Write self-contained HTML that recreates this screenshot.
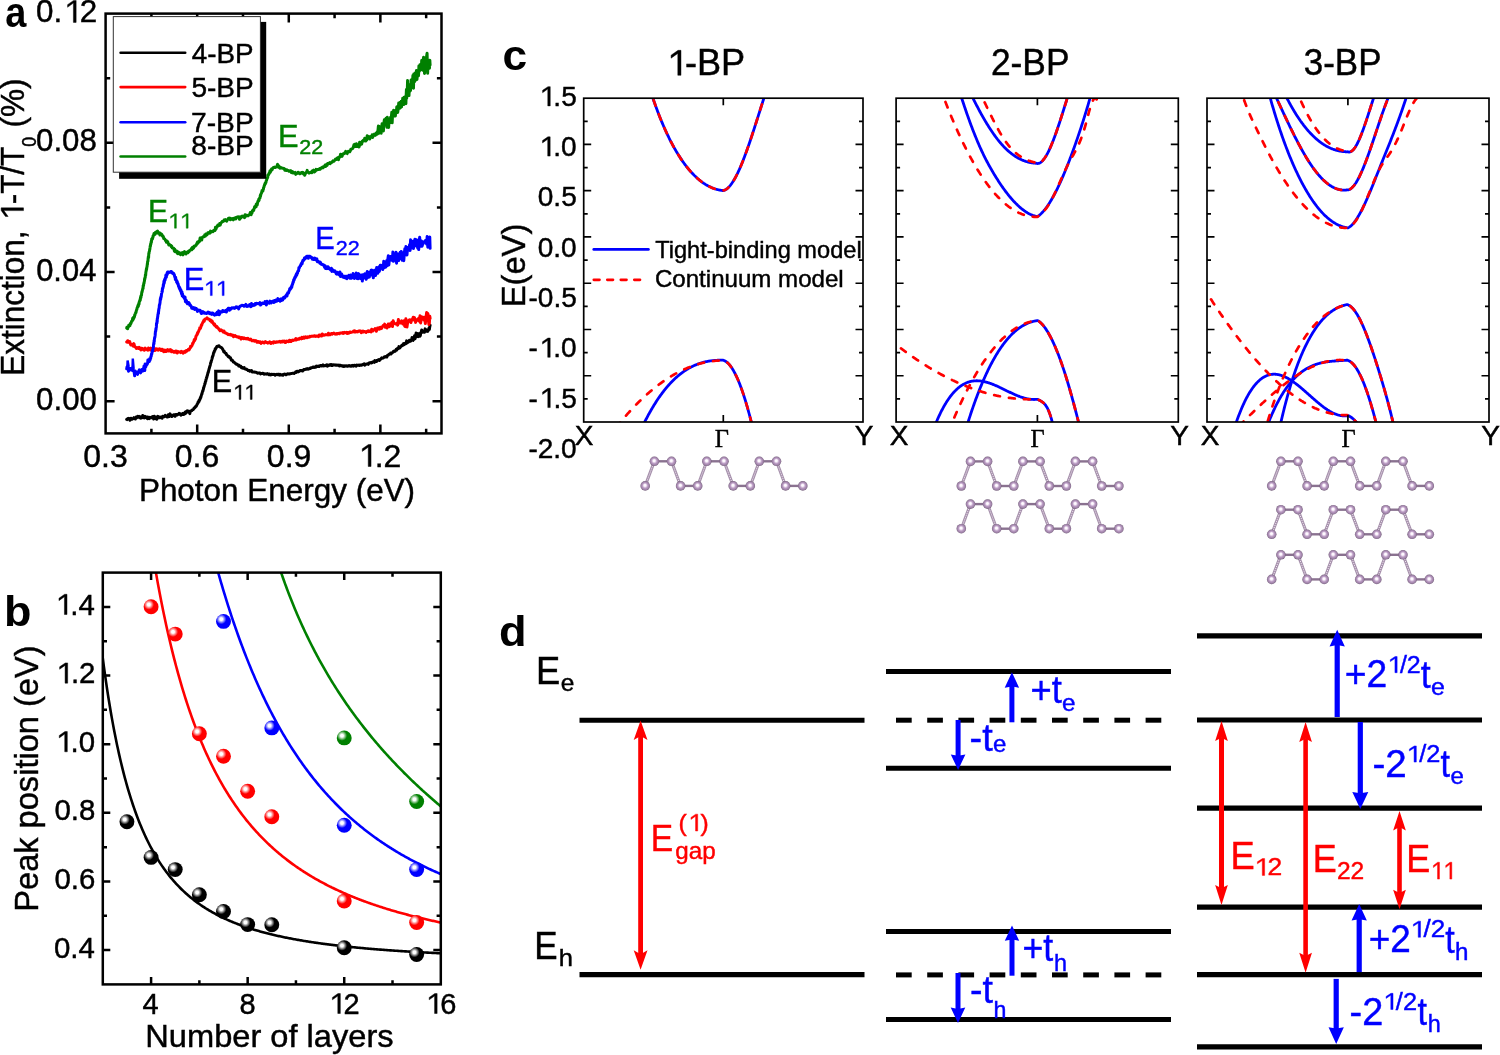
<!DOCTYPE html>
<html><head><meta charset="utf-8"><title>figure</title><style>
html,body{margin:0;padding:0;background:#fff;width:1500px;height:1055px;overflow:hidden}
svg{display:block}
text{font-family:"Liberation Sans",sans-serif}
</style></head><body>
<div style="will-change:transform;width:1500px;height:1055px">
<svg width="1500" height="1055" viewBox="0 0 1500 1055">
<polyline points="126.70,419.40 127.03,419.63 127.42,419.07 127.85,418.46 128.32,418.79 128.84,418.24 129.38,419.12 129.97,420.20 130.58,418.47 131.21,418.28 131.87,419.19 132.55,418.99 133.24,418.68 133.95,417.66 134.66,418.39 135.39,418.97 136.11,417.05 136.83,417.78 137.55,416.41 138.25,416.89 138.95,416.34 139.64,417.73 140.30,416.76 140.88,418.11 141.46,417.98 142.05,417.65 142.64,415.54 143.24,417.31 143.84,417.74 144.44,417.88 145.05,416.40 145.65,417.34 146.26,416.89 146.88,417.05 147.49,418.73 148.11,417.06 148.73,417.75 149.34,418.58 149.96,417.26 150.58,417.68 151.20,417.87 151.82,417.82 152.43,416.65 153.05,417.80 153.67,418.93 154.28,416.29 154.89,418.42 155.50,417.71 156.11,416.97 156.72,419.30 157.32,418.13 157.93,416.30 158.54,417.39 159.15,417.77 159.76,417.01 160.37,417.72 160.98,416.97 161.58,417.55 162.19,418.16 162.80,416.18 163.41,416.88 164.02,416.20 164.63,416.64 165.24,415.37 165.84,415.82 166.45,416.07 167.06,416.97 167.67,417.10 168.27,414.78 168.88,415.16 169.49,416.37 170.09,413.90 170.70,415.18 171.31,415.42 171.93,416.55 172.57,415.94 173.21,414.93 173.85,414.80 174.50,414.81 175.16,416.31 175.81,414.46 176.47,414.47 177.13,414.96 177.78,414.44 178.43,414.27 179.07,413.34 179.71,414.23 180.33,413.73 180.95,415.08 181.56,414.51 182.15,413.79 182.73,414.30 183.29,413.28 183.83,414.42 184.36,413.35 184.86,413.77 185.34,411.96 185.80,413.31 186.62,411.25 187.36,410.71 188.05,412.04 188.67,411.28 189.24,412.00 189.78,413.64 190.28,411.08 190.75,410.89 191.21,410.90 191.65,410.70 192.09,410.15 192.54,409.80 193.00,409.75 193.46,409.28 193.91,408.32 194.33,408.21 194.75,407.78 195.15,406.92 195.54,406.88 195.92,405.97 196.29,406.09 196.64,405.28 196.99,404.70 197.34,403.91 197.67,403.52 198.00,402.30 198.29,402.10 198.56,402.16 198.81,400.83 199.05,401.43 199.27,400.09 199.49,400.51 199.71,399.47 199.93,399.54 200.16,398.76 200.39,397.58 200.64,397.89 200.90,397.23 201.19,395.88 201.50,394.90 201.64,394.52 201.79,393.78 201.94,394.05 202.10,392.99 202.25,392.67 202.41,391.90 202.58,391.44 202.74,390.67 202.91,391.01 203.08,389.95 203.25,389.77 203.43,388.86 203.61,388.02 203.78,387.54 203.96,386.85 204.14,386.43 204.33,385.68 204.51,385.07 204.69,384.06 204.88,383.63 205.06,383.85 205.25,382.39 205.44,381.61 205.62,381.45 205.81,381.17 206.00,379.53 206.18,379.31 206.37,378.52 206.55,377.49 206.74,377.72 206.92,376.82 207.10,376.23 207.26,375.37 207.43,375.22 207.59,374.28 207.76,373.82 207.93,372.87 208.11,372.21 208.28,372.47 208.46,371.19 208.63,370.83 208.81,370.07 208.99,369.27 209.17,368.59 209.35,368.33 209.52,367.35 209.70,366.75 209.88,366.15 210.06,365.90 210.24,365.08 210.41,364.33 210.59,363.35 210.76,362.43 210.94,362.62 211.11,362.01 211.28,361.01 211.45,360.65 211.61,360.15 211.77,359.60 211.93,359.07 212.09,358.04 212.25,358.20 212.40,356.73 212.55,356.97 212.69,356.37 212.83,356.05 212.97,355.97 213.10,355.42 213.45,353.46 213.78,352.34 214.08,352.40 214.37,351.04 214.64,350.75 214.89,350.49 215.14,349.12 215.38,348.52 215.61,348.95 215.83,348.51 216.05,348.07 216.28,347.84 216.50,347.20 217.18,346.18 217.78,346.30 218.36,345.96 219.00,345.82 219.47,346.71 219.95,346.75 220.45,347.24 220.96,347.16 221.48,347.74 222.00,348.15 222.32,348.56 222.60,349.31 222.86,349.36 223.13,350.19 223.42,350.64 223.76,351.75 224.17,351.13 224.68,352.58 225.30,352.97 225.60,353.34 225.93,353.21 226.27,353.96 226.63,354.79 227.00,354.94 227.39,355.45 227.79,355.79 228.21,356.77 228.64,356.85 229.08,356.58 229.53,357.60 229.99,357.65 230.45,357.70 230.93,359.15 231.41,360.29 231.90,360.32 232.39,360.36 232.89,360.90 233.39,362.07 233.90,362.15 234.40,362.52 234.86,362.84 235.33,363.22 235.81,363.84 236.29,364.10 236.77,364.32 237.26,364.21 237.76,365.09 238.26,365.00 238.77,365.94 239.29,365.43 239.81,366.14 240.33,366.49 240.86,366.33 241.40,367.70 241.94,367.90 242.49,367.51 243.05,368.22 243.61,368.36 244.17,367.58 244.75,368.84 245.33,368.99 245.91,369.29 246.50,369.12 247.03,369.61 247.57,369.85 248.11,370.53 248.67,370.43 249.23,370.50 249.80,371.22 250.37,370.68 250.95,370.91 251.54,370.58 252.12,371.94 252.72,371.89 253.31,372.03 253.91,372.10 254.51,372.06 255.12,372.24 255.72,372.22 256.32,372.38 256.93,372.60 257.53,373.24 258.14,373.03 258.74,372.94 259.34,372.87 259.93,372.96 260.53,373.86 261.11,373.58 261.70,373.52 262.31,373.48 262.92,373.30 263.53,373.76 264.14,374.17 264.76,373.80 265.37,373.93 265.99,373.99 266.61,374.17 267.22,373.63 267.84,374.16 268.45,373.99 269.07,374.64 269.68,374.10 270.29,374.61 270.90,374.97 271.51,374.35 272.11,374.28 272.71,374.58 273.31,374.53 273.90,374.20 274.49,374.72 275.08,375.28 275.66,374.49 276.23,374.52 276.80,374.23 277.44,374.72 278.07,374.17 278.70,374.22 279.32,375.06 279.93,374.29 280.54,374.98 281.14,375.12 281.74,374.66 282.34,374.75 282.93,375.21 283.52,374.43 284.11,374.26 284.69,373.95 285.28,374.40 285.87,374.85 286.45,374.61 287.04,373.89 287.63,373.85 288.22,373.90 288.81,374.09 289.40,373.83 290.00,373.88 290.60,373.80 291.19,373.47 291.77,373.43 292.35,373.38 292.93,373.13 293.51,373.19 294.08,373.51 294.66,372.89 295.23,372.53 295.81,371.75 296.39,372.29 296.97,371.29 297.56,371.29 298.15,371.90 298.75,371.65 299.35,371.16 299.97,370.43 300.59,370.71 301.23,370.41 301.87,370.69 302.53,371.07 303.20,370.18 303.74,369.69 304.29,369.40 304.85,369.64 305.42,369.45 306.00,368.95 306.59,369.23 307.19,368.63 307.79,369.25 308.40,369.07 309.02,368.91 309.63,368.20 310.25,368.38 310.88,367.99 311.50,367.74 312.12,367.59 312.75,367.10 313.37,366.89 313.98,367.52 314.60,367.03 315.21,367.03 315.81,367.16 316.41,366.07 317.00,366.27 317.58,366.48 318.15,366.44 318.71,366.06 319.26,366.45 319.80,366.07 320.47,365.47 321.13,365.47 321.79,365.98 322.43,365.78 323.06,364.88 323.69,365.95 324.31,365.62 324.92,365.83 325.52,365.18 326.12,365.17 326.71,364.84 327.30,366.09 327.88,365.12 328.46,365.72 329.04,364.92 329.61,365.19 330.18,364.53 330.74,364.98 331.31,365.45 331.87,364.66 332.44,365.48 333.00,365.22 333.64,364.74 334.26,364.95 334.87,365.00 335.46,365.19 336.04,365.07 336.61,365.02 337.18,365.27 337.74,365.08 338.30,365.06 338.87,365.57 339.45,365.96 340.03,365.19 340.62,365.79 341.23,365.62 341.86,365.56 342.51,366.24 343.18,365.79 343.87,366.52 344.60,365.73 345.13,366.14 345.67,365.92 346.22,365.74 346.79,366.20 347.37,365.94 347.95,366.20 348.55,365.97 349.15,365.60 349.76,365.93 350.38,365.98 351.01,366.28 351.63,365.61 352.27,365.89 352.91,365.28 353.55,366.08 354.19,365.44 354.84,365.15 355.48,365.72 356.13,366.08 356.77,365.11 357.42,365.20 358.06,365.26 358.69,365.05 359.33,365.51 359.96,365.01 360.58,364.95 361.20,365.30 361.79,364.74 362.39,365.05 362.98,364.45 363.57,364.25 364.16,363.92 364.76,365.09 365.35,364.20 365.94,364.27 366.54,364.04 367.13,363.97 367.72,363.78 368.31,364.29 368.91,363.10 369.50,362.76 370.09,362.79 370.69,362.50 371.28,363.06 371.87,362.91 372.46,362.09 373.06,361.74 373.65,361.92 374.24,362.36 374.84,360.57 375.43,361.62 376.02,360.78 376.61,361.39 377.21,360.30 377.80,360.38 378.34,359.64 378.88,359.62 379.43,360.40 379.99,359.91 380.54,359.10 381.10,358.61 381.67,357.85 382.23,358.27 382.80,358.15 383.37,357.83 383.93,357.53 384.50,356.69 385.07,356.94 385.63,356.64 386.19,357.06 386.75,357.09 387.31,355.64 387.86,354.96 388.41,355.05 388.95,354.40 389.49,354.00 390.02,354.11 390.54,353.16 391.06,353.93 391.56,353.16 392.06,353.10 392.55,352.50 393.03,351.82 393.50,351.37 393.96,351.60 394.40,351.09 395.03,351.28 395.65,350.71 396.23,349.24 396.80,349.99 397.35,348.45 397.88,348.65 398.40,348.54 398.90,346.62 399.39,348.12 399.88,347.80 400.35,347.16 400.81,346.54 401.28,346.22 401.73,345.29 402.19,345.60 402.65,344.97 403.11,345.25 403.57,343.61 404.04,344.71 404.51,344.28 405.00,343.65 405.54,342.97 406.09,343.67 406.64,340.89 407.19,342.89 407.74,342.31 408.28,342.02 408.83,341.81 409.38,340.25 409.92,340.39 410.46,341.16 410.99,340.60 411.52,340.00 412.04,337.48 412.56,339.80 413.06,340.33 413.56,339.81 414.05,338.46 414.53,335.68 415.00,338.81 415.54,336.90 416.07,333.09 416.57,336.86 417.07,333.72 417.56,333.57 418.03,334.14 418.50,336.63 418.96,333.72 419.41,334.32 419.86,336.27 420.31,335.69 420.76,332.62 421.22,332.04 421.67,330.03 422.13,330.63 422.60,332.22 423.20,331.84 423.83,331.03 424.49,332.30 425.16,328.87 425.83,329.89 426.50,331.09 427.15,330.61 427.77,331.34 428.35,329.87 428.88,328.32 429.36,329.48 429.77,326.63 430.10,325.22" fill="none" stroke="#000000" stroke-width="3.0" stroke-linejoin="round" stroke-linecap="round"/>
<polyline points="126.70,341.99 126.99,341.63 127.34,342.16 127.72,340.71 128.15,342.13 128.62,342.25 129.12,342.36 129.65,341.53 130.21,343.52 130.79,344.94 131.39,344.88 132.00,344.41 132.63,345.27 133.26,346.28 133.90,343.62 134.54,346.17 135.17,347.01 135.80,347.38 136.33,348.44 136.87,348.14 137.42,347.61 137.98,347.77 138.54,348.34 139.11,347.36 139.69,347.93 140.28,348.87 140.87,349.89 141.47,348.21 142.08,348.43 142.69,348.75 143.32,349.83 143.95,348.76 144.59,350.13 145.23,348.15 145.89,348.90 146.55,348.98 147.22,349.89 147.90,350.19 148.45,348.07 149.01,348.62 149.58,349.73 150.16,348.91 150.74,348.20 151.34,350.40 151.93,349.95 152.54,349.96 153.15,349.14 153.76,350.43 154.38,349.35 155.00,350.49 155.62,348.78 156.25,348.83 156.88,349.73 157.51,348.97 158.14,350.14 158.76,349.80 159.39,348.81 160.02,349.67 160.64,349.34 161.26,350.44 161.88,349.16 162.49,349.37 163.10,350.83 163.71,351.77 164.33,351.64 164.96,350.08 165.60,350.30 166.24,351.52 166.88,350.22 167.53,349.61 168.18,350.66 168.83,351.07 169.48,350.10 170.13,349.53 170.77,349.84 171.41,351.75 172.04,350.66 172.67,351.30 173.28,351.72 173.89,352.17 174.48,351.47 175.06,352.27 175.63,351.18 176.18,351.70 176.71,351.21 177.23,353.09 177.73,352.15 178.20,351.57 179.06,351.93 179.86,352.04 180.61,352.56 181.30,351.36 181.96,351.57 182.57,351.81 183.16,353.16 183.71,352.24 184.25,351.55 184.77,351.79 185.28,352.27 185.79,350.91 186.30,350.62 186.88,351.11 187.43,350.44 187.95,350.19 188.43,349.23 188.90,350.05 189.35,349.51 189.78,348.48 190.21,348.05 190.64,346.16 191.06,346.93 191.50,345.90 191.80,345.77 192.09,345.43 192.38,344.43 192.66,343.24 192.94,343.75 193.22,342.65 193.49,342.29 193.76,341.58 194.03,341.12 194.31,339.54 194.58,340.70 194.86,339.61 195.14,339.42 195.42,339.23 195.71,337.63 196.00,336.10 196.25,336.02 196.51,335.31 196.78,335.09 197.05,334.79 197.32,333.15 197.59,333.71 197.87,332.17 198.15,332.46 198.42,331.64 198.70,330.92 198.97,330.43 199.25,329.59 199.51,328.96 199.78,327.85 200.04,328.11 200.29,328.51 200.53,328.05 200.77,327.23 201.00,326.45 201.35,325.06 201.68,325.45 202.00,324.06 202.31,323.44 202.62,322.76 202.91,322.40 203.19,321.63 203.46,321.32 203.73,320.38 203.99,320.33 204.25,321.28 204.50,319.77 205.18,318.92 205.78,318.88 206.36,318.79 207.00,317.84 207.56,318.36 208.14,319.11 208.74,319.07 209.36,319.39 210.00,320.58 210.40,319.80 210.79,320.55 211.18,320.66 211.58,322.11 212.00,320.87 212.46,322.03 212.95,322.65 213.50,323.83 213.85,324.19 214.19,324.99 214.53,323.93 214.88,325.53 215.24,325.47 215.62,325.75 216.01,326.83 216.44,326.58 216.90,326.48 217.40,327.82 217.95,327.73 218.55,328.62 219.20,329.59 219.61,329.82 220.05,330.73 220.50,330.11 220.97,329.72 221.45,330.39 221.95,330.58 222.47,330.71 223.00,331.82 223.54,331.56 224.09,331.17 224.66,332.78 225.23,332.65 225.81,333.15 226.40,333.30 227.00,333.82 227.60,333.78 228.21,334.64 228.82,334.48 229.44,334.71 230.06,334.95 230.68,334.25 231.30,335.12 231.83,335.25 232.37,335.66 232.91,335.05 233.47,336.72 234.03,336.12 234.60,335.62 235.17,335.53 235.75,336.40 236.33,336.64 236.92,336.48 237.51,337.03 238.11,336.80 238.71,337.54 239.31,337.04 239.91,337.52 240.51,338.16 241.12,339.09 241.72,337.44 242.33,337.84 242.93,337.79 243.53,338.73 244.13,337.89 244.73,338.36 245.32,338.72 245.91,338.38 246.50,338.52 247.11,338.90 247.72,338.24 248.32,338.71 248.93,339.38 249.54,339.81 250.15,339.79 250.76,339.15 251.37,339.95 251.98,340.74 252.58,340.76 253.19,340.59 253.80,340.33 254.41,341.24 255.02,340.77 255.63,340.61 256.24,340.92 256.84,342.17 257.45,341.68 258.06,342.26 258.67,341.55 259.27,342.36 259.88,341.68 260.49,341.98 261.09,343.38 261.70,342.58 262.31,342.00 262.92,342.26 263.53,342.50 264.14,342.98 264.76,342.15 265.37,341.54 265.99,342.28 266.61,342.43 267.22,342.47 267.84,343.07 268.45,342.56 269.07,342.79 269.68,341.81 270.29,342.78 270.90,343.36 271.51,342.67 272.11,342.38 272.71,342.30 273.31,343.09 273.90,341.69 274.49,342.07 275.08,342.32 275.66,342.43 276.23,341.81 276.80,342.15 277.44,341.83 278.07,342.00 278.70,341.84 279.32,341.30 279.93,341.82 280.54,342.23 281.14,341.27 281.74,341.59 282.34,342.00 282.93,341.09 283.52,341.67 284.11,340.99 284.69,342.04 285.28,342.57 285.87,342.36 286.45,341.17 287.04,341.58 287.63,341.20 288.22,341.11 288.81,341.75 289.40,340.23 290.00,341.33 290.60,340.68 291.19,341.30 291.77,340.57 292.35,340.02 292.93,340.37 293.51,340.47 294.08,339.98 294.66,340.06 295.23,339.42 295.81,338.46 296.39,339.83 296.97,339.58 297.56,339.15 298.15,338.96 298.75,339.30 299.35,338.40 299.97,338.13 300.59,338.25 301.23,338.79 301.87,337.37 302.53,338.52 303.20,337.48 303.76,337.15 304.32,338.23 304.90,337.45 305.48,336.75 306.07,337.12 306.66,337.66 307.26,337.69 307.87,336.78 308.49,337.10 309.10,337.16 309.72,336.38 310.35,336.79 310.98,336.50 311.61,336.15 312.24,336.08 312.88,336.27 313.51,336.16 314.15,335.77 314.78,335.75 315.42,336.44 316.05,335.90 316.68,336.15 317.31,336.22 317.94,335.83 318.56,336.59 319.18,334.97 319.80,335.70 320.41,335.06 321.03,336.08 321.64,335.93 322.25,334.03 322.86,334.45 323.47,335.20 324.08,335.19 324.69,335.10 325.30,334.63 325.91,334.83 326.52,334.87 327.13,334.45 327.74,334.94 328.36,333.23 328.97,334.62 329.58,333.73 330.19,334.67 330.80,334.02 331.41,333.63 332.02,334.20 332.63,333.50 333.24,333.44 333.85,333.06 334.46,333.77 335.07,333.97 335.69,334.17 336.30,333.53 336.91,334.06 337.53,333.49 338.14,333.37 338.75,333.64 339.36,333.82 339.97,333.06 340.58,333.04 341.20,333.02 341.81,333.08 342.42,332.52 343.03,333.43 343.64,332.65 344.26,333.02 344.87,332.31 345.48,332.84 346.10,332.80 346.71,332.33 347.33,333.50 347.94,332.61 348.56,333.26 349.18,332.79 349.79,331.93 350.41,332.01 351.03,332.37 351.65,332.13 352.28,332.07 352.90,331.86 353.50,331.05 354.10,331.81 354.70,330.78 355.29,332.06 355.89,331.49 356.48,331.48 357.07,331.72 357.66,331.95 358.26,331.09 358.85,330.93 359.45,331.26 360.04,330.77 360.64,331.30 361.24,332.58 361.84,331.22 362.44,332.08 363.05,331.01 363.66,331.86 364.27,331.50 364.89,331.60 365.51,331.90 366.13,332.52 366.77,331.58 367.40,331.47 368.04,330.74 368.69,331.58 369.34,330.96 370.00,331.53 370.55,330.86 371.10,331.93 371.66,329.31 372.22,330.31 372.79,330.99 373.36,329.96 373.93,329.47 374.51,329.69 375.09,328.66 375.67,329.63 376.26,331.31 376.84,330.11 377.44,328.05 378.03,328.04 378.62,328.24 379.22,329.28 379.82,327.44 380.42,327.34 381.02,328.62 381.62,328.42 382.22,327.00 382.82,326.04 383.43,325.36 384.03,326.03 384.63,324.16 385.23,327.21 385.83,325.48 386.43,326.56 387.03,328.02 387.63,327.05 388.23,324.06 388.82,326.39 389.41,326.63 390.00,324.03 390.61,323.59 391.23,324.55 391.86,322.34 392.49,326.48 393.13,320.81 393.77,322.50 394.42,323.58 395.07,323.50 395.73,323.97 396.38,324.01 397.04,323.10 397.69,325.19 398.35,319.58 399.00,323.06 399.65,321.68 400.30,323.05 400.95,323.09 401.59,320.89 402.22,321.25 402.84,323.85 403.46,322.90 404.07,320.77 404.68,326.10 405.27,326.61 405.85,318.75 406.42,322.32 406.97,326.94 407.52,323.18 408.04,321.86 408.56,320.82 409.06,319.97 409.54,320.61 410.00,319.73 410.90,322.57 411.73,319.67 412.49,319.36 413.20,317.26 413.86,319.97 414.48,317.62 415.06,319.30 415.62,322.38 416.16,320.47 416.68,320.74 417.20,320.24 417.73,319.34 418.26,318.74 418.81,318.17 419.39,321.20 420.00,315.83 420.61,322.99 421.25,319.17 421.91,316.86 422.58,317.73 423.27,317.23 423.96,320.00 424.66,317.32 425.34,323.54 426.01,317.36 426.66,312.47 427.28,317.79 427.87,313.51 428.42,320.44 428.92,324.45 429.37,323.14 429.77,316.13 430.10,318.26" fill="none" stroke="#ff0000" stroke-width="3.0" stroke-linejoin="round" stroke-linecap="round"/>
<polyline points="126.70,368.85 127.03,366.74 127.46,366.53 127.98,368.57 128.55,371.21 129.16,369.78 129.79,368.37 130.41,369.15 131.00,369.99 131.50,368.41 132.01,368.14 132.52,370.39 133.03,369.27 133.56,371.15 134.09,371.82 134.64,375.78 135.21,370.96 135.80,372.31 136.35,372.33 136.92,373.36 137.51,374.35 138.11,371.87 138.72,371.27 139.34,369.82 139.95,370.77 140.57,372.84 141.19,371.70 141.80,369.58 142.16,370.31 142.52,370.62 142.89,371.01 143.26,368.86 143.64,368.98 144.01,366.02 144.39,366.61 144.76,370.55 145.14,363.95 145.50,366.38 145.87,366.73 146.23,365.23 146.58,363.98 146.92,364.61 147.26,364.13 147.59,363.44 147.90,360.00 148.17,362.26 148.44,360.64 148.70,360.64 148.96,361.39 149.21,361.56 149.46,361.48 149.70,358.74 149.93,360.51 150.17,359.38 150.39,358.82 150.62,358.45 150.84,356.72 151.06,356.10 151.27,356.23 151.48,353.93 151.69,354.43 151.90,353.15 152.10,352.52 152.30,350.69 152.41,350.86 152.52,351.03 152.63,351.22 152.74,350.80 152.84,349.50 152.94,348.90 153.03,347.90 153.13,348.30 153.22,347.28 153.32,347.38 153.41,347.68 153.50,345.79 153.59,344.12 153.67,344.02 153.76,342.99 153.85,342.59 153.94,343.86 154.03,342.44 154.11,340.51 154.20,341.52 154.29,341.33 154.38,339.47 154.47,338.58 154.57,338.17 154.66,337.96 154.76,337.54 154.86,337.25 154.96,336.57 155.06,335.84 155.16,335.25 155.27,333.99 155.39,331.60 155.50,331.90 155.58,331.73 155.66,330.69 155.74,331.13 155.82,329.64 155.90,328.67 155.98,329.89 156.06,328.75 156.15,327.84 156.23,327.79 156.32,327.30 156.40,326.16 156.49,323.46 156.57,324.19 156.66,323.74 156.75,322.73 156.84,322.99 156.93,323.11 157.02,321.22 157.11,320.10 157.20,321.83 157.29,319.33 157.38,318.10 157.48,318.56 157.57,318.06 157.66,316.56 157.76,317.04 157.85,315.44 157.94,314.46 158.04,314.65 158.13,314.45 158.22,312.75 158.32,312.84 158.41,311.88 158.51,313.44 158.60,310.16 158.70,311.10 158.79,309.41 158.88,308.73 158.98,308.76 159.07,308.29 159.17,307.97 159.26,306.67 159.35,305.39 159.45,304.87 159.54,305.08 159.63,304.58 159.73,304.64 159.82,303.36 159.91,303.32 160.00,303.14 160.13,301.41 160.26,299.46 160.39,298.98 160.52,298.08 160.65,299.65 160.78,297.13 160.91,297.99 161.05,296.82 161.18,296.99 161.32,295.77 161.45,294.27 161.59,293.54 161.72,293.09 161.86,292.51 162.00,291.33 162.13,291.07 162.27,291.67 162.40,288.57 162.53,289.43 162.67,287.95 162.80,288.18 162.93,288.08 163.06,286.83 163.19,286.89 163.32,284.57 163.44,286.05 163.57,284.24 163.69,284.64 163.81,283.80 163.93,281.24 164.05,282.13 164.16,282.39 164.28,282.94 164.39,281.55 164.49,281.10 164.60,279.44 164.88,280.52 165.15,279.87 165.40,277.71 165.64,276.79 165.88,275.09 166.10,276.40 166.31,277.26 166.52,275.33 166.72,275.33 166.92,274.42 167.11,272.93 167.31,274.33 167.50,272.07 168.07,272.04 168.58,272.07 169.07,272.45 169.60,272.11 170.16,272.14 170.73,271.47 171.34,271.44 172.00,273.05 172.30,272.77 172.60,272.62 172.90,272.96 173.21,273.89 173.53,273.29 173.89,274.19 174.28,274.61 174.71,276.77 175.20,277.91 175.38,279.49 175.57,277.28 175.76,278.34 175.96,280.00 176.17,279.66 176.38,280.09 176.59,282.16 176.81,281.18 177.04,281.14 177.27,281.61 177.50,283.45 177.74,284.04 177.97,283.40 178.22,284.32 178.46,286.08 178.71,286.74 178.96,286.46 179.22,288.03 179.47,288.61 179.73,287.46 179.99,289.17 180.25,290.30 180.51,290.14 180.77,289.53 181.04,291.46 181.30,292.76 181.60,293.97 181.90,291.72 182.21,295.91 182.51,293.68 182.82,295.83 183.14,296.61 183.45,297.00 183.77,296.94 184.10,296.52 184.42,298.42 184.75,297.97 185.08,297.16 185.41,301.71 185.75,300.65 186.09,302.00 186.43,300.46 186.77,302.73 187.12,303.31 187.47,303.75 187.82,303.02 188.18,302.57 188.54,303.76 188.90,302.65 189.37,303.52 189.84,305.33 190.31,304.96 190.79,305.99 191.28,306.43 191.77,308.34 192.26,308.22 192.76,307.55 193.26,308.82 193.77,307.64 194.28,308.27 194.80,309.49 195.32,308.16 195.85,309.15 196.38,308.64 196.91,309.97 197.46,311.37 198.00,309.84 198.56,310.82 199.13,310.22 199.71,310.26 200.31,310.42 200.92,312.65 201.53,313.54 202.15,312.32 202.77,311.61 203.39,312.85 204.01,312.24 204.63,313.25 205.23,313.02 205.83,313.15 206.42,313.53 206.99,312.76 207.55,313.00 208.08,312.12 208.60,313.17 209.31,312.56 209.95,313.64 210.54,313.13 211.08,314.02 211.60,314.35 212.12,312.98 212.65,313.45 213.22,313.34 213.84,314.56 214.53,315.19 215.31,314.41 216.20,313.34 216.65,314.60 217.12,312.25 217.60,314.38 218.11,312.62 218.63,310.87 219.17,314.77 219.72,313.79 220.29,311.64 220.87,312.35 221.46,311.85 222.06,311.88 222.66,310.48 223.27,310.86 223.89,311.51 224.52,311.10 225.14,311.61 225.77,310.55 226.40,312.03 227.03,309.51 227.65,310.03 228.28,308.19 228.90,308.49 229.51,310.23 230.11,308.34 230.71,309.27 231.30,308.65 231.91,307.75 232.51,308.11 233.12,307.82 233.73,307.68 234.33,308.45 234.94,308.22 235.55,307.14 236.16,306.74 236.76,307.48 237.37,307.04 237.98,307.74 238.59,308.82 239.20,307.32 239.81,306.52 240.42,306.28 241.02,305.63 241.63,305.47 242.24,305.26 242.85,305.60 243.46,305.45 244.07,306.21 244.68,305.23 245.28,305.27 245.89,304.39 246.50,306.43 247.11,305.48 247.73,306.34 248.34,305.50 248.97,305.94 249.59,304.55 250.22,305.19 250.84,306.61 251.47,303.59 252.10,305.32 252.73,305.65 253.36,304.62 253.98,304.82 254.61,305.14 255.23,303.62 255.84,304.37 256.46,303.33 257.07,303.42 257.67,303.40 258.27,303.71 258.86,303.86 259.44,304.03 260.02,302.53 260.59,305.07 261.15,304.36 261.70,303.96 262.38,303.03 263.05,303.13 263.72,303.52 264.39,303.31 265.04,301.60 265.69,303.36 266.34,304.92 266.97,301.15 267.60,303.23 268.21,302.64 268.82,302.16 269.42,303.20 270.01,301.12 270.58,302.05 271.15,302.94 271.70,301.56 272.25,301.29 272.78,301.59 273.30,301.06 273.80,302.49 274.55,300.46 275.26,301.70 275.94,299.94 276.60,301.31 277.22,300.61 277.83,298.59 278.41,300.46 278.97,299.52 279.52,299.86 280.05,301.23 280.58,298.99 281.09,298.83 281.60,300.51 282.14,299.19 282.66,299.96 283.16,298.66 283.65,297.35 284.12,297.58 284.57,298.15 285.01,297.50 285.43,296.33 285.84,295.91 286.24,295.33 286.62,294.51 287.00,295.99 287.38,294.03 287.72,292.71 288.02,292.79 288.31,293.29 288.58,292.78 288.85,291.71 289.12,290.79 289.42,290.75 289.74,288.79 290.10,288.34 290.50,289.12 290.69,287.72 290.89,287.95 291.10,288.15 291.31,287.24 291.53,286.26 291.75,287.38 291.98,285.73 292.21,284.40 292.45,284.69 292.69,283.88 292.93,282.33 293.18,282.46 293.42,281.69 293.68,279.71 293.93,280.49 294.18,279.80 294.44,279.08 294.70,277.54 294.96,277.94 295.22,277.58 295.47,277.09 295.73,275.55 295.99,276.33 296.25,274.33 296.50,274.53 296.75,275.16 297.00,273.06 297.26,272.62 297.53,273.26 297.80,271.54 298.07,271.00 298.34,270.79 298.62,270.81 298.90,267.69 299.18,268.13 299.46,267.38 299.74,266.71 300.02,266.29 300.30,265.70 300.57,265.99 300.84,264.50 301.10,264.72 301.37,264.39 301.62,262.99 301.87,263.14 302.11,263.81 302.35,262.34 302.58,261.16 302.79,261.19 303.00,260.15 303.20,260.71 303.85,260.09 304.40,258.06 304.87,258.02 305.29,258.71 305.68,257.25 306.07,257.58 306.50,256.42 307.11,256.25 307.70,256.28 308.28,258.20 308.87,256.24 309.50,256.20 310.04,256.27 310.57,256.72 311.12,257.54 311.70,257.45 312.32,259.17 313.00,258.16 313.43,259.37 313.88,258.76 314.34,259.32 314.81,258.05 315.30,259.43 315.81,259.84 316.33,260.08 316.87,258.92 317.42,261.81 318.00,261.18 318.45,261.46 318.89,261.94 319.33,262.30 319.78,263.20 320.23,262.09 320.70,262.75 321.18,264.20 321.69,264.45 322.22,264.37 322.78,264.59 323.38,264.76 324.02,265.91 324.70,267.53 325.13,265.65 325.58,268.44 326.05,268.08 326.53,267.11 327.04,268.65 327.55,266.70 328.08,266.74 328.62,267.51 329.17,268.75 329.73,269.17 330.29,269.30 330.86,270.29 331.43,268.17 331.99,271.39 332.56,269.56 333.12,270.72 333.67,271.30 334.22,270.72 334.76,270.73 335.29,271.41 335.80,272.85 336.30,273.82 336.93,274.08 337.55,272.42 338.16,272.92 338.77,272.99 339.36,274.98 339.95,271.95 340.54,276.47 341.12,274.37 341.69,274.15 342.27,275.85 342.84,276.99 343.42,276.20 343.99,277.36 344.56,276.20 345.14,277.93 345.72,278.10 346.30,276.25 346.92,278.68 347.54,276.89 348.16,276.87 348.78,275.40 349.40,276.46 350.02,278.23 350.63,274.94 351.25,278.17 351.87,277.73 352.48,277.65 353.10,273.49 353.72,277.05 354.34,278.35 354.96,275.90 355.58,277.38 356.20,272.95 356.82,278.39 357.43,275.93 358.05,278.72 358.66,273.63 359.26,278.33 359.87,276.51 360.48,278.45 361.09,275.01 361.71,275.50 362.33,281.08 362.95,274.82 363.59,274.91 364.22,275.63 364.87,273.89 365.53,278.32 366.20,279.27 366.72,273.91 367.24,271.48 367.77,277.57 368.31,277.24 368.85,276.39 369.40,276.92 369.95,272.11 370.50,273.42 371.06,270.35 371.62,269.96 372.18,275.28 372.74,271.09 373.31,277.83 373.87,272.25 374.44,270.20 375.00,273.40 375.57,275.58 376.13,272.01 376.69,267.40 377.25,271.08 377.80,273.33 378.30,268.21 378.80,267.16 379.30,271.51 379.80,268.87 380.29,265.23 380.78,266.79 381.28,265.42 381.77,267.90 382.26,267.03 382.75,269.54 383.25,267.97 383.74,261.24 384.24,266.39 384.74,267.41 385.24,265.79 385.74,267.08 386.25,262.13 386.77,260.57 387.28,265.72 387.80,259.43 388.33,255.76 388.86,264.96 389.40,259.30 389.88,260.24 390.37,256.55 390.87,256.43 391.37,256.60 391.88,258.76 392.39,260.74 392.90,251.92 393.42,261.34 393.94,254.78 394.47,254.80 395.00,260.18 395.52,257.39 396.05,252.20 396.58,263.18 397.10,253.76 397.63,257.19 398.16,256.71 398.68,260.58 399.20,253.81 399.71,258.60 400.22,252.15 400.73,258.42 401.23,251.41 401.73,252.52 402.22,260.35 402.70,254.35 403.24,253.25 403.78,260.76 404.32,253.49 404.86,248.74 405.40,254.20 405.93,246.61 406.46,255.02 406.99,255.00 407.52,247.81 408.04,247.23 408.56,250.01 409.07,249.03 409.58,244.76 410.08,250.55 410.58,239.77 411.07,245.88 411.55,245.66 412.03,245.87 412.50,247.93 412.96,241.30 413.42,248.51 413.86,245.03 414.30,242.78 414.91,239.34 415.50,239.70 416.07,245.90 416.63,239.85 417.16,243.93 417.69,247.94 418.20,247.51 418.71,249.55 419.20,241.04 419.69,237.22 420.18,246.35 420.66,242.89 421.14,246.33 421.62,241.03 422.11,246.22 422.60,244.40 423.22,243.55 423.87,242.33 424.54,241.61 425.21,240.62 425.88,240.39 426.55,243.90 427.19,236.47 427.80,247.27 428.37,238.13 428.90,243.39 429.37,237.95 429.77,237.06 430.10,248.36" fill="none" stroke="#0000ff" stroke-width="3.0" stroke-linejoin="round" stroke-linecap="round"/>
<polyline points="126.70,328.18 126.90,327.24 127.13,327.35 127.40,327.30 127.70,328.68 128.02,326.94 128.37,327.04 128.74,325.25 129.12,325.73 129.52,325.46 129.92,325.72 130.33,323.42 130.74,323.75 131.15,322.93 131.56,321.37 131.95,321.40 132.33,320.54 132.70,318.37 132.91,319.98 133.12,319.47 133.34,318.30 133.56,317.17 133.77,318.62 133.99,317.24 134.22,317.21 134.44,316.92 134.66,314.99 134.89,315.34 135.11,314.00 135.33,313.52 135.56,312.90 135.78,312.34 136.00,312.50 136.22,311.18 136.43,310.37 136.65,309.66 136.86,309.47 137.07,307.98 137.28,307.64 137.49,307.35 137.69,306.39 137.88,306.11 138.08,305.18 138.26,306.44 138.45,305.41 138.63,304.25 138.80,303.36 139.01,304.29 139.21,302.35 139.41,301.45 139.60,301.13 139.78,300.55 139.96,300.76 140.13,299.20 140.29,300.13 140.45,297.49 140.61,298.05 140.77,296.32 140.92,297.74 141.07,295.69 141.22,295.32 141.37,295.44 141.52,295.10 141.67,292.85 141.82,292.78 141.97,291.43 142.12,291.86 142.28,291.03 142.44,290.17 142.60,289.22 142.72,288.92 142.83,288.13 142.95,288.48 143.07,288.62 143.19,285.64 143.31,286.33 143.43,285.53 143.56,285.56 143.68,283.95 143.80,283.89 143.93,282.65 144.05,283.23 144.17,282.18 144.30,281.37 144.42,281.10 144.54,280.03 144.66,278.47 144.78,279.34 144.90,278.48 145.02,277.54 145.14,277.70 145.25,277.23 145.37,274.99 145.48,274.59 145.59,275.61 145.70,274.92 145.81,272.81 145.91,271.92 146.01,271.72 146.11,271.26 146.21,269.95 146.31,270.54 146.40,269.10 146.53,268.43 146.65,269.21 146.76,267.40 146.87,267.16 146.97,267.00 147.07,266.49 147.16,265.06 147.26,264.71 147.34,263.49 147.43,264.70 147.51,263.34 147.60,261.53 147.68,261.72 147.76,261.64 147.85,260.90 147.93,261.27 148.02,260.37 148.10,258.45 148.20,258.17 148.29,256.74 148.39,257.21 148.49,256.53 148.60,257.69 148.70,255.28 148.81,253.15 148.92,253.53 149.03,253.46 149.14,251.87 149.26,251.50 149.37,251.21 149.49,251.06 149.61,250.06 149.73,248.90 149.85,249.43 149.97,247.86 150.09,247.25 150.21,246.01 150.34,245.80 150.46,246.20 150.58,244.01 150.70,244.51 150.82,244.49 150.93,243.17 151.05,243.07 151.17,241.61 151.28,242.82 151.39,242.21 151.50,241.16 151.74,238.85 151.98,238.52 152.21,239.18 152.44,239.02 152.66,237.42 152.89,237.54 153.11,235.74 153.33,235.57 153.55,235.28 153.77,235.18 154.00,233.43 154.49,234.48 154.98,234.30 155.46,232.29 155.97,231.98 156.50,233.05 157.06,232.24 157.64,231.01 158.24,233.30 158.86,233.01 159.50,232.87 159.90,234.93 160.30,233.84 160.71,233.56 161.12,234.54 161.56,234.17 162.01,234.85 162.49,236.19 163.00,236.11 163.34,236.58 163.69,238.50 164.05,238.40 164.43,238.86 164.81,239.18 165.21,239.68 165.61,240.90 166.01,240.41 166.41,242.27 166.82,240.84 167.22,241.84 167.61,241.56 168.00,242.76 168.42,243.86 168.83,245.01 169.25,244.01 169.66,244.96 170.07,245.18 170.49,245.38 170.90,245.53 171.32,246.85 171.74,246.03 172.16,247.75 172.58,248.11 173.00,248.04 173.46,248.23 173.91,248.41 174.36,251.13 174.80,249.31 175.25,251.76 175.71,251.49 176.18,251.19 176.65,250.98 177.15,252.83 177.66,253.58 178.20,251.95 178.76,252.59 179.33,253.72 179.92,253.38 180.52,254.67 181.13,252.98 181.76,253.82 182.40,252.58 183.06,254.90 183.73,252.84 184.41,251.66 185.10,252.91 185.56,252.73 186.02,253.98 186.48,252.19 186.95,252.18 187.43,252.35 187.91,252.77 188.40,251.31 188.89,251.76 189.39,251.06 189.90,250.13 190.41,250.01 190.93,249.58 191.45,248.50 191.98,249.56 192.51,247.29 193.05,248.61 193.60,247.97 193.98,246.89 194.36,246.05 194.74,246.03 195.13,246.11 195.53,245.87 195.93,245.11 196.33,245.15 196.73,243.59 197.14,243.67 197.55,241.93 197.97,243.07 198.38,242.15 198.80,241.26 199.21,241.87 199.63,241.04 200.05,238.10 200.47,239.62 200.89,238.10 201.31,239.40 201.73,239.95 202.14,237.41 202.56,237.40 202.98,236.77 203.39,236.81 203.80,236.65 204.31,236.68 204.83,234.69 205.34,236.11 205.86,234.01 206.37,234.52 206.89,234.83 207.40,234.22 207.92,232.77 208.43,232.65 208.95,232.55 209.47,232.56 209.98,233.12 210.50,231.14 211.01,232.09 211.53,231.90 212.04,231.56 212.56,231.18 213.07,231.59 213.59,230.51 214.10,230.40 214.57,229.83 215.03,230.31 215.50,227.32 215.96,229.13 216.42,227.61 216.89,227.15 217.35,226.22 217.81,225.12 218.27,225.70 218.74,225.02 219.20,225.38 219.66,223.55 220.13,225.13 220.59,223.87 221.05,223.08 221.51,222.34 221.98,221.88 222.44,221.27 222.90,221.32 223.37,221.38 223.83,220.95 224.30,219.81 224.90,220.31 225.50,219.61 226.09,220.13 226.68,221.13 227.27,220.11 227.86,219.33 228.45,218.31 229.05,218.37 229.64,218.10 230.24,219.72 230.84,218.62 231.45,219.13 232.06,218.59 232.69,219.01 233.31,219.83 233.95,218.26 234.60,218.36 235.17,217.91 235.76,218.95 236.36,217.49 236.99,217.27 237.62,216.96 238.27,216.80 238.92,217.97 239.57,219.30 240.22,216.66 240.88,217.87 241.52,217.23 242.15,216.14 242.77,216.56 243.38,216.44 243.97,215.97 244.53,217.66 245.07,214.82 245.58,216.27 246.06,216.08 246.50,215.29 247.37,215.49 248.11,215.70 248.75,214.90 249.30,214.79 249.79,214.68 250.24,212.44 250.68,214.53 251.12,214.67 251.60,213.29 251.97,212.91 252.33,210.77 252.68,211.21 253.02,210.23 253.35,209.87 253.68,210.43 253.99,208.65 254.30,208.57 254.61,206.77 254.91,207.45 255.21,207.09 255.50,206.01 255.80,205.47 256.06,206.83 256.31,204.23 256.53,203.93 256.76,203.67 256.99,204.62 257.24,204.74 257.52,202.91 257.83,201.48 258.19,200.86 258.60,200.95 258.78,199.15 258.96,200.36 259.16,199.86 259.37,198.41 259.59,198.29 259.81,197.81 260.05,197.80 260.29,195.38 260.53,196.34 260.78,194.63 261.04,193.72 261.30,193.69 261.56,192.82 261.82,191.62 262.08,190.54 262.34,190.34 262.60,191.37 262.86,191.07 263.12,189.51 263.37,189.25 263.61,187.44 263.85,187.14 264.09,186.80 264.31,185.27 264.53,184.78 264.74,185.00 264.94,184.21 265.12,183.21 265.30,183.77 265.61,182.50 265.89,182.65 266.15,181.22 266.38,180.35 266.60,180.03 266.80,179.24 266.99,178.34 267.16,178.00 267.33,178.31 267.50,177.75 267.67,177.73 267.84,175.19 268.01,175.64 268.20,175.17 268.40,175.12 268.71,174.00 269.01,173.31 269.32,173.60 269.62,172.59 269.92,171.09 270.23,172.31 270.54,171.58 270.85,170.02 271.17,170.58 271.50,169.09 272.06,169.81 272.64,168.41 273.23,167.62 273.82,167.61 274.41,167.08 275.00,167.53 275.63,167.29 276.19,167.02 276.79,166.52 277.52,164.37 278.50,167.16 278.95,165.88 279.42,167.51 279.91,168.29 280.44,167.88 280.98,167.61 281.55,167.97 282.15,168.24 282.78,168.18 283.43,168.40 284.10,168.41 284.81,170.14 285.54,169.55 286.30,170.47 286.79,169.78 287.30,170.17 287.84,170.18 288.39,170.81 288.96,171.25 289.54,171.04 290.13,170.60 290.74,170.73 291.35,172.64 291.97,171.48 292.59,171.67 293.22,173.09 293.84,173.01 294.47,172.80 295.09,172.32 295.70,174.40 296.30,173.17 296.90,173.41 297.48,173.02 298.05,172.24 298.60,172.37 299.26,173.65 299.91,173.69 300.54,173.28 301.16,172.64 301.77,172.46 302.37,173.22 302.96,172.40 303.55,174.00 304.15,174.12 304.74,175.22 305.33,173.77 305.93,172.64 306.54,172.34 307.16,170.41 307.79,172.28 308.44,172.43 309.10,173.08 309.65,172.70 310.20,172.54 310.76,172.13 311.33,172.28 311.91,172.66 312.49,170.73 313.07,170.97 313.66,170.12 314.25,172.03 314.85,171.60 315.44,171.00 316.04,169.41 316.64,170.14 317.24,169.62 317.84,169.61 318.44,169.17 319.04,169.42 319.63,168.52 320.23,169.13 320.81,168.44 321.40,167.79 321.93,167.67 322.46,167.19 322.98,167.80 323.50,166.78 324.02,166.91 324.54,166.15 325.06,165.11 325.58,166.50 326.09,164.83 326.61,165.76 327.13,165.28 327.65,163.52 328.17,163.71 328.69,163.70 329.22,163.16 329.75,162.59 330.28,163.60 330.82,162.58 331.37,162.68 331.92,161.76 332.47,161.93 333.03,160.83 333.60,160.98 334.07,161.11 334.55,160.42 335.03,159.75 335.52,158.98 336.00,159.54 336.50,159.33 336.99,158.55 337.49,157.82 338.00,158.46 338.50,159.61 339.01,157.10 339.52,157.25 340.03,156.92 340.54,154.15 341.05,156.00 341.56,154.93 342.08,156.36 342.59,154.58 343.11,153.75 343.62,153.88 344.14,153.87 344.65,152.84 345.16,152.96 345.67,151.36 346.18,152.09 346.69,152.73 347.20,153.61 347.70,152.02 348.22,151.24 348.74,151.87 349.26,151.38 349.78,151.77 350.30,150.83 350.82,149.19 351.34,149.29 351.86,148.89 352.37,148.71 352.89,148.28 353.41,146.80 353.93,144.86 354.45,146.28 354.97,144.26 355.48,146.57 356.00,146.17 356.52,143.67 357.04,146.45 357.55,146.38 358.07,145.03 358.59,146.88 359.11,146.88 359.63,142.22 360.14,145.09 360.66,143.92 361.18,143.56 361.70,144.00 362.20,141.18 362.70,141.04 363.20,140.34 363.70,140.11 364.20,140.82 364.70,138.31 365.20,138.62 365.70,140.96 366.20,139.56 366.70,140.00 367.20,135.78 367.69,137.33 368.19,137.38 368.69,138.08 369.19,136.63 369.69,139.04 370.19,136.90 370.69,136.69 371.19,136.33 371.69,137.30 372.19,134.68 372.69,137.41 373.19,135.76 373.69,134.78 374.20,134.17 374.70,134.76 375.20,135.39 375.70,134.87 376.14,133.33 376.59,134.04 377.03,132.06 377.48,134.15 377.93,131.00 378.39,126.10 378.84,133.28 379.30,130.15 379.76,126.85 380.22,128.66 380.68,126.67 381.14,133.22 381.60,129.08 382.06,123.77 382.51,128.40 382.97,125.71 383.42,130.95 383.88,123.24 384.32,119.82 384.77,125.16 385.22,123.69 385.66,123.08 386.09,118.19 386.53,124.39 386.95,127.24 387.38,117.37 387.80,125.11 388.21,120.02 388.62,127.47 389.02,121.86 389.41,119.72 389.80,122.86 390.21,120.80 390.61,117.19 391.00,120.40 391.39,116.45 391.78,112.29 392.16,122.83 392.53,115.45 392.91,114.19 393.27,116.49 393.63,110.36 393.99,110.46 394.35,112.51 394.70,111.94 395.04,113.24 395.39,115.96 395.73,110.55 396.07,113.05 396.40,112.89 396.74,107.10 397.07,110.72 397.40,106.50 397.72,112.39 398.05,109.94 398.37,108.02 398.70,103.10 399.02,107.32 399.34,103.91 399.66,108.26 399.98,105.02 400.30,102.19 400.62,107.50 400.93,106.31 401.24,101.34 401.55,106.80 401.85,101.30 402.15,100.73 402.45,101.70 402.75,98.13 403.04,98.68 403.33,99.14 403.62,104.58 403.90,103.96 404.19,97.19 404.47,103.35 404.76,96.90 405.04,97.90 405.32,99.20 405.60,96.53 405.88,103.78 406.16,95.30 406.44,89.44 406.72,98.18 407.00,91.27 407.28,91.13 407.57,80.49 407.85,95.00 408.13,93.79 408.42,93.20 408.71,93.38 409.00,95.61 409.29,88.39 409.59,91.68 409.88,84.59 410.18,85.57 410.48,90.57 410.78,87.40 411.08,80.00 411.39,86.19 411.69,83.46 411.99,80.34 412.30,84.84 412.60,80.88 412.90,75.55 413.20,76.86 413.51,88.17 413.81,74.05 414.11,80.71 414.40,81.79 414.70,81.39 415.00,73.01 415.29,76.29 415.58,77.73 415.87,80.04 416.15,73.35 416.44,70.61 416.72,79.48 416.99,79.46 417.27,75.81 417.53,71.08 417.80,75.09 418.17,73.16 418.54,75.79 418.91,65.89 419.27,71.40 419.63,69.58 419.98,64.70 420.33,70.16 420.67,68.79 421.02,66.22 421.35,69.42 421.68,60.49 422.01,66.34 422.34,68.13 422.66,66.98 422.98,70.28 423.29,59.05 423.60,57.14 423.90,65.07 424.21,65.73 424.51,73.40 424.80,65.79 425.37,57.89 425.94,65.55 426.51,56.87 427.08,53.17 427.62,73.33 428.15,61.47 428.63,63.14 429.08,62.09 429.48,68.29 429.82,60.18 430.10,64.83" fill="none" stroke="#008000" stroke-width="3.0" stroke-linejoin="round" stroke-linecap="round"/>
<path d="M127.3,368 L127.6,360.5 L128.6,366 M132.5,369 L132.8,358.5 L133.6,368" fill="none" stroke="#0000ff" stroke-width="2.4" stroke-linecap="round"/>
<rect x="105.6" y="13.6" width="335.9" height="419.79999999999995" fill="none" stroke="#000" stroke-width="2.5"/>
<path d="M151.40,433.4 v-4.6 M151.40,13.6 v4.6 M197.19,433.4 v-9 M197.19,13.6 v9 M242.99,433.4 v-4.6 M242.99,13.6 v4.6 M288.78,433.4 v-9 M288.78,13.6 v9 M334.58,433.4 v-4.6 M334.58,13.6 v4.6 M380.37,433.4 v-9 M380.37,13.6 v9 M426.16,433.4 v-4.6 M426.16,13.6 v4.6 M105.6,401.20 h9 M441.5,401.20 h-9 M105.6,336.60 h4.6 M441.5,336.60 h-4.6 M105.6,272.00 h9 M441.5,272.00 h-9 M105.6,207.40 h4.6 M441.5,207.40 h-4.6 M105.6,142.80 h9 M441.5,142.80 h-9 M105.6,78.20 h4.6 M441.5,78.20 h-4.6" stroke="#000" stroke-width="2.5" fill="none"/>
<rect x="119.1" y="21.9" width="147.1" height="156.9" fill="#000"/>
<rect x="113.3" y="16.6" width="147.1" height="155.6" fill="#fff" stroke="#333" stroke-width="1"/>
<line x1="120.6" y1="52.8" x2="185.2" y2="52.8" stroke="#000" stroke-width="2.6" stroke-linecap="round"/>
<line x1="120.6" y1="87.1" x2="185.2" y2="87.1" stroke="#ff0000" stroke-width="2.6" stroke-linecap="round"/>
<line x1="120.6" y1="122.3" x2="185.2" y2="122.3" stroke="#0000ff" stroke-width="2.6" stroke-linecap="round"/>
<line x1="120.6" y1="156.5" x2="185.2" y2="156.5" stroke="#008000" stroke-width="2.6" stroke-linecap="round"/>
<text x="191.87" y="62.50" font-size="28.5" textLength="61.80" lengthAdjust="spacingAndGlyphs" fill="#000" stroke="#000" stroke-width="0.45">4-BP</text>
<text x="191.38" y="96.60" font-size="28.5" textLength="62.31" lengthAdjust="spacingAndGlyphs" fill="#000" stroke="#000" stroke-width="0.45">5-BP</text>
<text x="191.09" y="131.70" font-size="28.5" textLength="62.61" lengthAdjust="spacingAndGlyphs" fill="#000" stroke="#000" stroke-width="0.45">7-BP</text>
<text x="191.31" y="154.90" font-size="28.5" textLength="62.38" lengthAdjust="spacingAndGlyphs" fill="#000" stroke="#000" stroke-width="0.45">8-BP</text>
<text x="36.05" y="22.40" font-size="32" textLength="61.07" lengthAdjust="spacingAndGlyphs" fill="#000" stroke="#000" stroke-width="0.45">0. 2</text><path d="M730,0 L730,1237 L350,967 L350,1137 L745,1409 L910,1409 L910,0 Z" transform="translate(62.21,22.40) scale(0.01532,-0.01562)" fill="#000" stroke="#000" stroke-width="0.45" vector-effect="non-scaling-stroke"/>
<text x="36.05" y="151.30" font-size="32" textLength="60.82" lengthAdjust="spacingAndGlyphs" fill="#000" stroke="#000" stroke-width="0.45">0.08</text>
<text x="36.16" y="280.70" font-size="32" textLength="60.23" lengthAdjust="spacingAndGlyphs" fill="#000" stroke="#000" stroke-width="0.45">0.04</text>
<text x="36.05" y="409.80" font-size="32" textLength="60.87" lengthAdjust="spacingAndGlyphs" fill="#000" stroke="#000" stroke-width="0.45">0.00</text>
<text x="83.25" y="466.50" font-size="32" textLength="44.49" lengthAdjust="spacingAndGlyphs" fill="#000" stroke="#000" stroke-width="0.45">0.3</text>
<text x="174.75" y="466.50" font-size="32" textLength="44.49" lengthAdjust="spacingAndGlyphs" fill="#000" stroke="#000" stroke-width="0.45">0.6</text>
<text x="266.84" y="466.50" font-size="32" textLength="44.49" lengthAdjust="spacingAndGlyphs" fill="#000" stroke="#000" stroke-width="0.45">0.9</text>
<text x="356.83" y="466.50" font-size="32" textLength="44.49" lengthAdjust="spacingAndGlyphs" fill="#000" stroke="#000" stroke-width="0.45"> .2</text><path d="M730,0 L730,1237 L350,967 L350,1137 L745,1409 L910,1409 L910,0 Z" transform="translate(356.83,466.50) scale(0.01562,-0.01562)" fill="#000" stroke="#000" stroke-width="0.45" vector-effect="non-scaling-stroke"/>
<text x="138.91" y="500.80" font-size="32" textLength="276.19" lengthAdjust="spacingAndGlyphs" fill="#000" stroke="#000" stroke-width="0.45">Photon Energy (eV)</text>
<g transform="translate(23.50,373.50) rotate(-90)"><text x="-2.20" y="0.00" font-size="32.5" textLength="229.00" lengthAdjust="spacingAndGlyphs" fill="#000" stroke="#000" stroke-width="0.45">Extinction,  -T/T</text><path d="M730,0 L730,1237 L350,967 L350,1137 L745,1409 L910,1409 L910,0 Z" transform="translate(151.67,0.00) scale(0.01536,-0.01587)" fill="#000" stroke="#000" stroke-width="0.45" vector-effect="non-scaling-stroke"/></g>
<g transform="translate(35.90,146.40) rotate(-90)"><text x="-0.31" y="0.00" font-size="20" textLength="9.90" lengthAdjust="spacingAndGlyphs" fill="#000" stroke="#000" stroke-width="0.45">0</text></g>
<g transform="translate(23.50,126.00) rotate(-90)"><text x="-1.58" y="0.00" font-size="32.5" textLength="49.18" lengthAdjust="spacingAndGlyphs" fill="#000" stroke="#000" stroke-width="0.45">(%)</text></g>
<text x="148.02" y="222.20" font-size="31.5" textLength="20.04" lengthAdjust="spacingAndGlyphs" fill="#008000" stroke="#008000" stroke-width="0.45">E</text>
<path d="M730,0 L730,1237 L350,967 L350,1137 L745,1409 L910,1409 L910,0 Z" transform="translate(167.00,228.20) scale(0.01030,-0.01025)" fill="#008000" stroke="#008000" stroke-width="0.45" vector-effect="non-scaling-stroke"/><path d="M730,0 L730,1237 L350,967 L350,1137 L745,1409 L910,1409 L910,0 Z" transform="translate(178.73,228.20) scale(0.01030,-0.01025)" fill="#008000" stroke="#008000" stroke-width="0.45" vector-effect="non-scaling-stroke"/>
<text x="278.06" y="147.00" font-size="31.5" textLength="20.53" lengthAdjust="spacingAndGlyphs" fill="#008000" stroke="#008000" stroke-width="0.45">E</text>
<text x="299.33" y="153.80" font-size="21" textLength="23.90" lengthAdjust="spacingAndGlyphs" fill="#008000" stroke="#008000" stroke-width="0.45">22</text>
<text x="183.66" y="289.60" font-size="31.5" textLength="20.53" lengthAdjust="spacingAndGlyphs" fill="#0000ff" stroke="#0000ff" stroke-width="0.45">E</text>
<path d="M730,0 L730,1237 L350,967 L350,1137 L745,1409 L910,1409 L910,0 Z" transform="translate(202.75,295.60) scale(0.01042,-0.01025)" fill="#0000ff" stroke="#0000ff" stroke-width="0.45" vector-effect="non-scaling-stroke"/><path d="M730,0 L730,1237 L350,967 L350,1137 L745,1409 L910,1409 L910,0 Z" transform="translate(214.62,295.60) scale(0.01042,-0.01025)" fill="#0000ff" stroke="#0000ff" stroke-width="0.45" vector-effect="non-scaling-stroke"/>
<text x="315.30" y="248.70" font-size="31.5" textLength="19.43" lengthAdjust="spacingAndGlyphs" fill="#0000ff" stroke="#0000ff" stroke-width="0.45">E</text>
<text x="335.83" y="254.50" font-size="21" textLength="23.90" lengthAdjust="spacingAndGlyphs" fill="#0000ff" stroke="#0000ff" stroke-width="0.45">22</text>
<text x="211.78" y="392.20" font-size="31.5" textLength="20.41" lengthAdjust="spacingAndGlyphs" fill="#000" stroke="#000" stroke-width="0.45">E</text>
<path d="M730,0 L730,1237 L350,967 L350,1137 L745,1409 L910,1409 L910,0 Z" transform="translate(231.96,399.40) scale(0.00983,-0.01025)" fill="#000" stroke="#000" stroke-width="0.45" vector-effect="non-scaling-stroke"/><path d="M730,0 L730,1237 L350,967 L350,1137 L745,1409 L910,1409 L910,0 Z" transform="translate(243.16,399.40) scale(0.00983,-0.01025)" fill="#000" stroke="#000" stroke-width="0.45" vector-effect="non-scaling-stroke"/>
<text x="5.26" y="27.20" font-size="43" textLength="21.10" lengthAdjust="spacingAndGlyphs" fill="#000" font-weight="bold">a</text>
<clipPath id="cb"><rect x="102.8" y="572.6" width="338.0" height="411.79999999999995"/></clipPath>
<defs><radialGradient id="gK" cx="0.35" cy="0.35" r="0.34" fx="0.35" fy="0.35"><stop offset="0" stop-color="#fff"/><stop offset="0.28" stop-color="#fff"/><stop offset="1" stop-color="#000000"/></radialGradient><radialGradient id="gR" cx="0.35" cy="0.35" r="0.34" fx="0.35" fy="0.35"><stop offset="0" stop-color="#fff"/><stop offset="0.28" stop-color="#fff"/><stop offset="1" stop-color="#ff0000"/></radialGradient><radialGradient id="gB" cx="0.35" cy="0.35" r="0.34" fx="0.35" fy="0.35"><stop offset="0" stop-color="#fff"/><stop offset="0.28" stop-color="#fff"/><stop offset="1" stop-color="#0000ff"/></radialGradient><radialGradient id="gG" cx="0.35" cy="0.35" r="0.34" fx="0.35" fy="0.35"><stop offset="0" stop-color="#fff"/><stop offset="0.28" stop-color="#fff"/><stop offset="1" stop-color="#008000"/></radialGradient></defs>
<g clip-path="url(#cb)"><polyline points="101.00,644.05 102.00,652.14 103.00,659.94 104.00,667.45 105.00,674.70 106.00,681.69 107.00,688.44 108.00,694.95 109.00,701.24 110.00,707.32 111.00,713.20 112.00,718.89 113.00,724.38 114.00,729.70 115.00,734.85 116.00,739.84 117.00,744.66 118.00,749.34 119.00,753.87 120.00,758.27 121.00,762.53 122.00,766.67 123.00,770.68 124.00,774.57 125.00,778.35 126.00,782.02 127.00,785.59 128.00,789.05 129.00,792.42 130.00,795.69 131.00,798.87 132.00,801.96 133.00,804.98 134.00,807.90 135.00,810.76 136.00,813.53 137.00,816.23 138.00,818.86 139.00,821.43 140.00,823.92 141.00,826.36 142.00,828.73 143.00,831.04 144.00,833.30 145.00,835.50 146.00,837.64 147.00,839.74 148.00,841.78 149.00,843.77 150.00,845.72 151.00,847.62 152.00,849.48 153.00,851.29 154.00,853.06 155.00,854.79 156.00,856.48 157.00,858.13 158.00,859.75 159.00,861.33 160.00,862.87 161.00,864.38 162.00,865.86 163.00,867.31 164.00,868.72 165.00,870.10 166.00,871.46 167.00,872.78 168.00,874.08 169.00,875.35 170.00,876.60 171.00,877.82 172.00,879.01 173.00,880.18 174.00,881.32 175.00,882.45 176.00,883.55 177.00,884.63 178.00,885.68 179.00,886.72 180.00,887.74 181.00,888.73 182.00,889.71 183.00,890.67 184.00,891.61 185.00,892.53 186.00,893.44 187.00,894.33 188.00,895.20 189.00,896.05 190.00,896.90 191.00,897.72 192.00,898.53 193.00,899.32 194.00,900.11 195.00,900.87 196.00,901.63 197.00,902.37 198.00,903.09 199.00,903.81 200.00,904.51 201.00,905.20 202.00,905.88 203.00,906.54 204.00,907.20 205.00,907.84 206.00,908.48 207.00,909.10 208.00,909.71 209.00,910.31 210.00,910.90 211.00,911.49 212.00,912.06 213.00,912.62 214.00,913.18 215.00,913.72 216.00,914.26 217.00,914.79 218.00,915.31 219.00,915.82 220.00,916.32 221.00,916.82 222.00,917.30 223.00,917.79 224.00,918.26 225.00,918.72 226.00,919.18 227.00,919.63 228.00,920.08 229.00,920.52 230.00,920.95 231.00,921.37 232.00,921.79 233.00,922.21 234.00,922.61 235.00,923.01 236.00,923.41 237.00,923.80 238.00,924.18 239.00,924.56 240.00,924.93 241.00,925.30 242.00,925.66 243.00,926.02 244.00,926.37 245.00,926.72 246.00,927.06 247.00,927.40 248.00,927.73 249.00,928.06 250.00,928.38 251.00,928.70 252.00,929.02 253.00,929.33 254.00,929.63 255.00,929.94 256.00,930.23 257.00,930.53 258.00,930.82 259.00,931.11 260.00,931.39 261.00,931.67 262.00,931.94 263.00,932.22 264.00,932.48 265.00,932.75 266.00,933.01 267.00,933.27 268.00,933.52 269.00,933.78 270.00,934.02 271.00,934.27 272.00,934.51 273.00,934.75 274.00,934.99 275.00,935.22 276.00,935.45 277.00,935.68 278.00,935.91 279.00,936.13 280.00,936.35 281.00,936.56 282.00,936.78 283.00,936.99 284.00,937.20 285.00,937.41 286.00,937.61 287.00,937.81 288.00,938.01 289.00,938.21 290.00,938.40 291.00,938.60 292.00,938.79 293.00,938.97 294.00,939.16 295.00,939.34 296.00,939.52 297.00,939.70 298.00,939.88 299.00,940.06 300.00,940.23 301.00,940.40 302.00,940.57 303.00,940.74 304.00,940.91 305.00,941.07 306.00,941.23 307.00,941.39 308.00,941.55 309.00,941.71 310.00,941.86 311.00,942.02 312.00,942.17 313.00,942.32 314.00,942.47 315.00,942.61 316.00,942.76 317.00,942.90 318.00,943.05 319.00,943.19 320.00,943.33 321.00,943.46 322.00,943.60 323.00,943.74 324.00,943.87 325.00,944.00 326.00,944.13 327.00,944.26 328.00,944.39 329.00,944.52 330.00,944.64 331.00,944.77 332.00,944.89 333.00,945.01 334.00,945.13 335.00,945.25 336.00,945.37 337.00,945.49 338.00,945.60 339.00,945.72 340.00,945.83 341.00,945.94 342.00,946.05 343.00,946.16 344.00,946.27 345.00,946.38 346.00,946.49 347.00,946.59 348.00,946.70 349.00,946.80 350.00,946.91 351.00,947.01 352.00,947.11 353.00,947.21 354.00,947.31 355.00,947.41 356.00,947.50 357.00,947.60 358.00,947.70 359.00,947.79 360.00,947.88 361.00,947.98 362.00,948.07 363.00,948.16 364.00,948.25 365.00,948.34 366.00,948.43 367.00,948.51 368.00,948.60 369.00,948.69 370.00,948.77 371.00,948.86 372.00,948.94 373.00,949.02 374.00,949.11 375.00,949.19 376.00,949.27 377.00,949.35 378.00,949.43 379.00,949.51 380.00,949.59 381.00,949.66 382.00,949.74 383.00,949.82 384.00,949.89 385.00,949.97 386.00,950.04 387.00,950.11 388.00,950.19 389.00,950.26 390.00,950.33 391.00,950.40 392.00,950.47 393.00,950.54 394.00,950.61 395.00,950.68 396.00,950.75 397.00,950.81 398.00,950.88 399.00,950.95 400.00,951.01 401.00,951.08 402.00,951.14 403.00,951.20 404.00,951.27 405.00,951.33 406.00,951.39 407.00,951.46 408.00,951.52 409.00,951.58 410.00,951.64 411.00,951.70 412.00,951.76 413.00,951.82 414.00,951.88 415.00,951.93 416.00,951.99 417.00,952.05 418.00,952.10 419.00,952.16 420.00,952.22 421.00,952.27 422.00,952.33 423.00,952.38 424.00,952.44 425.00,952.49 426.00,952.54 427.00,952.59 428.00,952.65 429.00,952.70 430.00,952.75 431.00,952.80 432.00,952.85 433.00,952.90 434.00,952.95 435.00,953.00 436.00,953.05 437.00,953.10 438.00,953.15 439.00,953.20 440.00,953.24 441.00,953.29 442.00,953.34" fill="none" stroke="#000000" stroke-width="2.6" stroke-linejoin="round"/><polyline points="154.00,561.35 155.00,567.25 156.00,573.01 157.00,578.64 158.00,584.15 159.00,589.54 160.00,594.82 161.00,599.98 162.00,605.03 163.00,609.97 164.00,614.81 165.00,619.55 166.00,624.19 167.00,628.73 168.00,633.18 169.00,637.54 170.00,641.82 171.00,646.00 172.00,650.11 173.00,654.13 174.00,658.08 175.00,661.95 176.00,665.74 177.00,669.46 178.00,673.12 179.00,676.70 180.00,680.21 181.00,683.66 182.00,687.05 183.00,690.37 184.00,693.64 185.00,696.84 186.00,699.99 187.00,703.08 188.00,706.11 189.00,709.09 190.00,712.02 191.00,714.90 192.00,717.73 193.00,720.51 194.00,723.24 195.00,725.92 196.00,728.56 197.00,731.16 198.00,733.71 199.00,736.22 200.00,738.69 201.00,741.12 202.00,743.50 203.00,745.85 204.00,748.16 205.00,750.44 206.00,752.68 207.00,754.88 208.00,757.05 209.00,759.18 210.00,761.28 211.00,763.35 212.00,765.39 213.00,767.39 214.00,769.37 215.00,771.31 216.00,773.23 217.00,775.12 218.00,776.97 219.00,778.81 220.00,780.61 221.00,782.39 222.00,784.14 223.00,785.87 224.00,787.57 225.00,789.24 226.00,790.90 227.00,792.53 228.00,794.13 229.00,795.72 230.00,797.28 231.00,798.82 232.00,800.34 233.00,801.84 234.00,803.31 235.00,804.77 236.00,806.21 237.00,807.62 238.00,809.02 239.00,810.40 240.00,811.77 241.00,813.11 242.00,814.43 243.00,815.74 244.00,817.03 245.00,818.31 246.00,819.57 247.00,820.81 248.00,822.04 249.00,823.25 250.00,824.44 251.00,825.62 252.00,826.78 253.00,827.94 254.00,829.07 255.00,830.19 256.00,831.30 257.00,832.40 258.00,833.48 259.00,834.54 260.00,835.60 261.00,836.64 262.00,837.67 263.00,838.69 264.00,839.69 265.00,840.69 266.00,841.67 267.00,842.64 268.00,843.59 269.00,844.54 270.00,845.48 271.00,846.40 272.00,847.32 273.00,848.22 274.00,849.12 275.00,850.00 276.00,850.87 277.00,851.74 278.00,852.59 279.00,853.43 280.00,854.27 281.00,855.10 282.00,855.91 283.00,856.72 284.00,857.52 285.00,858.31 286.00,859.09 287.00,859.86 288.00,860.63 289.00,861.38 290.00,862.13 291.00,862.87 292.00,863.60 293.00,864.33 294.00,865.04 295.00,865.75 296.00,866.45 297.00,867.15 298.00,867.84 299.00,868.52 300.00,869.19 301.00,869.86 302.00,870.51 303.00,871.17 304.00,871.81 305.00,872.45 306.00,873.09 307.00,873.71 308.00,874.33 309.00,874.95 310.00,875.55 311.00,876.16 312.00,876.75 313.00,877.34 314.00,877.93 315.00,878.51 316.00,879.08 317.00,879.65 318.00,880.21 319.00,880.76 320.00,881.31 321.00,881.86 322.00,882.40 323.00,882.94 324.00,883.47 325.00,883.99 326.00,884.51 327.00,885.03 328.00,885.54 329.00,886.05 330.00,886.55 331.00,887.04 332.00,887.54 333.00,888.02 334.00,888.51 335.00,888.98 336.00,889.46 337.00,889.93 338.00,890.39 339.00,890.86 340.00,891.31 341.00,891.77 342.00,892.22 343.00,892.66 344.00,893.10 345.00,893.54 346.00,893.97 347.00,894.40 348.00,894.83 349.00,895.25 350.00,895.67 351.00,896.09 352.00,896.50 353.00,896.90 354.00,897.31 355.00,897.71 356.00,898.11 357.00,898.50 358.00,898.89 359.00,899.28 360.00,899.66 361.00,900.04 362.00,900.42 363.00,900.80 364.00,901.17 365.00,901.54 366.00,901.90 367.00,902.26 368.00,902.62 369.00,902.98 370.00,903.33 371.00,903.68 372.00,904.03 373.00,904.38 374.00,904.72 375.00,905.06 376.00,905.39 377.00,905.73 378.00,906.06 379.00,906.39 380.00,906.71 381.00,907.04 382.00,907.36 383.00,907.68 384.00,907.99 385.00,908.30 386.00,908.62 387.00,908.92 388.00,909.23 389.00,909.53 390.00,909.84 391.00,910.13 392.00,910.43 393.00,910.73 394.00,911.02 395.00,911.31 396.00,911.60 397.00,911.88 398.00,912.16 399.00,912.45 400.00,912.72 401.00,913.00 402.00,913.28 403.00,913.55 404.00,913.82 405.00,914.09 406.00,914.36 407.00,914.62 408.00,914.88 409.00,915.15 410.00,915.40 411.00,915.66 412.00,915.92 413.00,916.17 414.00,916.42 415.00,916.67 416.00,916.92 417.00,917.17 418.00,917.41 419.00,917.65 420.00,917.89 421.00,918.13 422.00,918.37 423.00,918.61 424.00,918.84 425.00,919.07 426.00,919.31 427.00,919.54 428.00,919.76 429.00,919.99 430.00,920.21 431.00,920.44 432.00,920.66 433.00,920.88 434.00,921.10 435.00,921.31 436.00,921.53 437.00,921.74 438.00,921.96 439.00,922.17 440.00,922.38 441.00,922.59 442.00,922.79" fill="none" stroke="#ff0000" stroke-width="2.6" stroke-linejoin="round"/><polyline points="215.00,560.93 216.00,564.59 217.00,568.22 218.00,571.80 219.00,575.33 220.00,578.82 221.00,582.27 222.00,585.68 223.00,589.04 224.00,592.37 225.00,595.65 226.00,598.90 227.00,602.10 228.00,605.27 229.00,608.40 230.00,611.50 231.00,614.55 232.00,617.57 233.00,620.56 234.00,623.51 235.00,626.42 236.00,629.30 237.00,632.15 238.00,634.97 239.00,637.75 240.00,640.50 241.00,643.22 242.00,645.90 243.00,648.56 244.00,651.19 245.00,653.78 246.00,656.35 247.00,658.88 248.00,661.39 249.00,663.87 250.00,666.33 251.00,668.75 252.00,671.15 253.00,673.52 254.00,675.86 255.00,678.18 256.00,680.47 257.00,682.74 258.00,684.98 259.00,687.20 260.00,689.39 261.00,691.56 262.00,693.71 263.00,695.83 264.00,697.93 265.00,700.01 266.00,702.06 267.00,704.09 268.00,706.10 269.00,708.09 270.00,710.06 271.00,712.00 272.00,713.93 273.00,715.84 274.00,717.72 275.00,719.59 276.00,721.43 277.00,723.26 278.00,725.06 279.00,726.85 280.00,728.62 281.00,730.37 282.00,732.10 283.00,733.82 284.00,735.52 285.00,737.19 286.00,738.86 287.00,740.50 288.00,742.13 289.00,743.74 290.00,745.34 291.00,746.92 292.00,748.48 293.00,750.03 294.00,751.56 295.00,753.07 296.00,754.58 297.00,756.06 298.00,757.53 299.00,758.99 300.00,760.43 301.00,761.86 302.00,763.27 303.00,764.67 304.00,766.06 305.00,767.43 306.00,768.79 307.00,770.13 308.00,771.46 309.00,772.78 310.00,774.09 311.00,775.38 312.00,776.66 313.00,777.93 314.00,779.19 315.00,780.43 316.00,781.67 317.00,782.89 318.00,784.10 319.00,785.29 320.00,786.48 321.00,787.65 322.00,788.82 323.00,789.97 324.00,791.11 325.00,792.24 326.00,793.36 327.00,794.47 328.00,795.57 329.00,796.66 330.00,797.74 331.00,798.81 332.00,799.87 333.00,800.92 334.00,801.96 335.00,802.99 336.00,804.01 337.00,805.02 338.00,806.02 339.00,807.02 340.00,808.00 341.00,808.98 342.00,809.94 343.00,810.90 344.00,811.85 345.00,812.79 346.00,813.72 347.00,814.64 348.00,815.56 349.00,816.46 350.00,817.36 351.00,818.25 352.00,819.14 353.00,820.01 354.00,820.88 355.00,821.74 356.00,822.59 357.00,823.44 358.00,824.27 359.00,825.10 360.00,825.93 361.00,826.74 362.00,827.55 363.00,828.35 364.00,829.15 365.00,829.93 366.00,830.71 367.00,831.49 368.00,832.26 369.00,833.02 370.00,833.77 371.00,834.52 372.00,835.26 373.00,835.99 374.00,836.72 375.00,837.45 376.00,838.16 377.00,838.87 378.00,839.58 379.00,840.28 380.00,840.97 381.00,841.66 382.00,842.34 383.00,843.01 384.00,843.68 385.00,844.35 386.00,845.01 387.00,845.66 388.00,846.31 389.00,846.95 390.00,847.59 391.00,848.22 392.00,848.84 393.00,849.47 394.00,850.08 395.00,850.69 396.00,851.30 397.00,851.90 398.00,852.50 399.00,853.09 400.00,853.68 401.00,854.26 402.00,854.84 403.00,855.41 404.00,855.98 405.00,856.54 406.00,857.10 407.00,857.66 408.00,858.21 409.00,858.76 410.00,859.30 411.00,859.84 412.00,860.37 413.00,860.90 414.00,861.42 415.00,861.94 416.00,862.46 417.00,862.97 418.00,863.48 419.00,863.99 420.00,864.49 421.00,864.98 422.00,865.48 423.00,865.97 424.00,866.45 425.00,866.93 426.00,867.41 427.00,867.89 428.00,868.36 429.00,868.82 430.00,869.29 431.00,869.75 432.00,870.20 433.00,870.66 434.00,871.11 435.00,871.55 436.00,871.99 437.00,872.43 438.00,872.87 439.00,873.30 440.00,873.73 441.00,874.16 442.00,874.58" fill="none" stroke="#0000ff" stroke-width="2.6" stroke-linejoin="round"/><polyline points="277.00,560.25 278.00,563.33 279.00,566.36 280.00,569.34 281.00,572.27 282.00,575.16 283.00,578.01 284.00,580.81 285.00,583.57 286.00,586.29 287.00,588.97 288.00,591.62 289.00,594.23 290.00,596.80 291.00,599.34 292.00,601.84 293.00,604.31 294.00,606.75 295.00,609.16 296.00,611.54 297.00,613.89 298.00,616.21 299.00,618.50 300.00,620.76 301.00,623.00 302.00,625.21 303.00,627.39 304.00,629.55 305.00,631.68 306.00,633.79 307.00,635.88 308.00,637.94 309.00,639.99 310.00,642.01 311.00,644.00 312.00,645.98 313.00,647.94 314.00,649.88 315.00,651.79 316.00,653.69 317.00,655.57 318.00,657.43 319.00,659.27 320.00,661.09 321.00,662.90 322.00,664.69 323.00,666.46 324.00,668.22 325.00,669.96 326.00,671.68 327.00,673.39 328.00,675.08 329.00,676.76 330.00,678.42 331.00,680.07 332.00,681.70 333.00,683.32 334.00,684.92 335.00,686.52 336.00,688.10 337.00,689.66 338.00,691.21 339.00,692.75 340.00,694.28 341.00,695.79 342.00,697.30 343.00,698.79 344.00,700.27 345.00,701.74 346.00,703.19 347.00,704.64 348.00,706.07 349.00,707.49 350.00,708.91 351.00,710.31 352.00,711.70 353.00,713.08 354.00,714.45 355.00,715.81 356.00,717.16 357.00,718.51 358.00,719.84 359.00,721.16 360.00,722.47 361.00,723.78 362.00,725.07 363.00,726.36 364.00,727.64 365.00,728.91 366.00,730.17 367.00,731.42 368.00,732.66 369.00,733.90 370.00,735.13 371.00,736.35 372.00,737.56 373.00,738.76 374.00,739.96 375.00,741.15 376.00,742.33 377.00,743.50 378.00,744.67 379.00,745.83 380.00,746.98 381.00,748.13 382.00,749.27 383.00,750.40 384.00,751.52 385.00,752.64 386.00,753.75 387.00,754.86 388.00,755.96 389.00,757.05 390.00,758.13 391.00,759.21 392.00,760.29 393.00,761.35 394.00,762.42 395.00,763.47 396.00,764.52 397.00,765.56 398.00,766.60 399.00,767.63 400.00,768.66 401.00,769.68 402.00,770.70 403.00,771.71 404.00,772.71 405.00,773.71 406.00,774.70 407.00,775.69 408.00,776.67 409.00,777.65 410.00,778.63 411.00,779.59 412.00,780.56 413.00,781.52 414.00,782.47 415.00,783.42 416.00,784.36 417.00,785.30 418.00,786.23 419.00,787.16 420.00,788.09 421.00,789.01 422.00,789.93 423.00,790.84 424.00,791.75 425.00,792.65 426.00,793.55 427.00,794.44 428.00,795.33 429.00,796.22 430.00,797.10 431.00,797.98 432.00,798.85 433.00,799.72 434.00,800.59 435.00,801.45 436.00,802.30 437.00,803.16 438.00,804.01 439.00,804.85 440.00,805.70 441.00,806.53 442.00,807.37" fill="none" stroke="#008000" stroke-width="2.6" stroke-linejoin="round"/></g>
<circle cx="126.94" cy="821.7" r="7.45" fill="url(#gK)"/>
<circle cx="151.09" cy="857.4" r="7.45" fill="url(#gK)"/>
<circle cx="175.23" cy="869.6" r="7.45" fill="url(#gK)"/>
<circle cx="199.37" cy="894.7" r="7.45" fill="url(#gK)"/>
<circle cx="223.51" cy="911.4" r="7.45" fill="url(#gK)"/>
<circle cx="247.66" cy="924.6" r="7.45" fill="url(#gK)"/>
<circle cx="271.80" cy="924.8" r="7.45" fill="url(#gK)"/>
<circle cx="344.23" cy="947.8" r="7.45" fill="url(#gK)"/>
<circle cx="416.66" cy="954.5" r="7.45" fill="url(#gK)"/>
<circle cx="151.09" cy="606.8" r="7.45" fill="url(#gR)"/>
<circle cx="175.23" cy="634.1" r="7.45" fill="url(#gR)"/>
<circle cx="199.37" cy="733.7" r="7.45" fill="url(#gR)"/>
<circle cx="223.51" cy="756.2" r="7.45" fill="url(#gR)"/>
<circle cx="247.66" cy="791.2" r="7.45" fill="url(#gR)"/>
<circle cx="271.80" cy="816.7" r="7.45" fill="url(#gR)"/>
<circle cx="344.23" cy="901.1" r="7.45" fill="url(#gR)"/>
<circle cx="416.66" cy="922.5" r="7.45" fill="url(#gR)"/>
<circle cx="223.51" cy="621.4" r="7.45" fill="url(#gB)"/>
<circle cx="271.80" cy="727.9" r="7.45" fill="url(#gB)"/>
<circle cx="344.23" cy="825.2" r="7.45" fill="url(#gB)"/>
<circle cx="416.66" cy="869.6" r="7.45" fill="url(#gB)"/>
<circle cx="344.23" cy="737.9" r="7.45" fill="url(#gG)"/>
<circle cx="416.66" cy="801.5" r="7.45" fill="url(#gG)"/>
<rect x="102.8" y="572.6" width="338.0" height="411.79999999999995" fill="none" stroke="#000" stroke-width="2.5"/>
<path d="M151.09,984.4 v-7.5 M151.09,572.6 v7.5 M199.37,984.4 v-4.2 M199.37,572.6 v4.2 M247.66,984.4 v-7.5 M247.66,572.6 v7.5 M295.94,984.4 v-4.2 M295.94,572.6 v4.2 M344.23,984.4 v-7.5 M344.23,572.6 v7.5 M392.51,984.4 v-4.2 M392.51,572.6 v4.2 M102.8,950.08 h7.5 M440.8,950.08 h-7.5 M102.8,915.77 h4.2 M440.8,915.77 h-4.2 M102.8,881.45 h7.5 M440.8,881.45 h-7.5 M102.8,847.13 h4.2 M440.8,847.13 h-4.2 M102.8,812.82 h7.5 M440.8,812.82 h-7.5 M102.8,778.50 h4.2 M440.8,778.50 h-4.2 M102.8,744.18 h7.5 M440.8,744.18 h-7.5 M102.8,709.87 h4.2 M440.8,709.87 h-4.2 M102.8,675.55 h7.5 M440.8,675.55 h-7.5 M102.8,641.23 h4.2 M440.8,641.23 h-4.2 M102.8,606.92 h7.5 M440.8,606.92 h-7.5" stroke="#000" stroke-width="2.5" fill="none"/>
<text x="53.94" y="614.52" font-size="29.4" textLength="40.87" lengthAdjust="spacingAndGlyphs" fill="#000" stroke="#000" stroke-width="0.45"> .4</text><path d="M730,0 L730,1237 L350,967 L350,1137 L745,1409 L910,1409 L910,0 Z" transform="translate(53.94,614.52) scale(0.01436,-0.01436)" fill="#000" stroke="#000" stroke-width="0.45" vector-effect="non-scaling-stroke"/>
<text x="54.60" y="683.15" font-size="29.4" textLength="40.87" lengthAdjust="spacingAndGlyphs" fill="#000" stroke="#000" stroke-width="0.45"> .2</text><path d="M730,0 L730,1237 L350,967 L350,1137 L745,1409 L910,1409 L910,0 Z" transform="translate(54.60,683.15) scale(0.01436,-0.01436)" fill="#000" stroke="#000" stroke-width="0.45" vector-effect="non-scaling-stroke"/>
<text x="54.24" y="751.78" font-size="29.4" textLength="40.87" lengthAdjust="spacingAndGlyphs" fill="#000" stroke="#000" stroke-width="0.45"> .0</text><path d="M730,0 L730,1237 L350,967 L350,1137 L745,1409 L910,1409 L910,0 Z" transform="translate(54.24,751.78) scale(0.01436,-0.01436)" fill="#000" stroke="#000" stroke-width="0.45" vector-effect="non-scaling-stroke"/>
<text x="54.38" y="820.42" font-size="29.4" textLength="40.87" lengthAdjust="spacingAndGlyphs" fill="#000" stroke="#000" stroke-width="0.45">0.8</text>
<text x="54.38" y="889.05" font-size="29.4" textLength="40.87" lengthAdjust="spacingAndGlyphs" fill="#000" stroke="#000" stroke-width="0.45">0.6</text>
<text x="53.94" y="957.68" font-size="29.4" textLength="40.87" lengthAdjust="spacingAndGlyphs" fill="#000" stroke="#000" stroke-width="0.45">0.4</text>
<text x="142.53" y="1013.50" font-size="29" textLength="16.13" lengthAdjust="spacingAndGlyphs" fill="#000" stroke="#000" stroke-width="0.45">4</text>
<text x="239.55" y="1013.50" font-size="29" textLength="16.13" lengthAdjust="spacingAndGlyphs" fill="#000" stroke="#000" stroke-width="0.45">8</text>
<text x="327.45" y="1013.50" font-size="29" textLength="32.26" lengthAdjust="spacingAndGlyphs" fill="#000" stroke="#000" stroke-width="0.45"> 2</text><path d="M730,0 L730,1237 L350,967 L350,1137 L745,1409 L910,1409 L910,0 Z" transform="translate(327.45,1013.50) scale(0.01416,-0.01416)" fill="#000" stroke="#000" stroke-width="0.45" vector-effect="non-scaling-stroke"/>
<text x="424.24" y="1013.50" font-size="29" textLength="32.26" lengthAdjust="spacingAndGlyphs" fill="#000" stroke="#000" stroke-width="0.45"> 6</text><path d="M730,0 L730,1237 L350,967 L350,1137 L745,1409 L910,1409 L910,0 Z" transform="translate(424.24,1013.50) scale(0.01416,-0.01416)" fill="#000" stroke="#000" stroke-width="0.45" vector-effect="non-scaling-stroke"/>
<text x="145.31" y="1047.30" font-size="32" textLength="248.30" lengthAdjust="spacingAndGlyphs" fill="#000" stroke="#000" stroke-width="0.45">Number of layers</text>
<g transform="translate(38.40,909.40) rotate(-90)"><text x="-2.29" y="0.00" font-size="33" textLength="266.18" lengthAdjust="spacingAndGlyphs" fill="#000" stroke="#000" stroke-width="0.45">Peak position (eV)</text></g>
<text x="3.98" y="625.90" font-size="43" textLength="27.46" lengthAdjust="spacingAndGlyphs" fill="#000" font-weight="bold">b</text>
<clipPath id="cc0"><rect x="583.7" y="98.2" width="279.29999999999995" height="323.8"/></clipPath>
<clipPath id="cc1"><rect x="896.1" y="98.2" width="282.19999999999993" height="323.8"/></clipPath>
<clipPath id="cc2"><rect x="1207.0" y="98.2" width="282.0" height="323.8"/></clipPath>
<g clip-path="url(#cc0)"><path d="M648.90,85.88 L649.40,87.49 L649.91,89.07 L650.41,90.64 L650.92,92.20 L651.42,93.73 L651.92,95.25 L652.43,96.76 L652.93,98.25 L653.44,99.72 L653.94,101.18 L654.44,102.62 L654.95,104.04 L655.45,105.45 L655.96,106.85 L656.46,108.23 L656.97,109.59 L657.47,110.94 L657.97,112.27 L658.48,113.59 L658.98,114.89 L659.49,116.18 L659.99,117.46 L660.49,118.72 L661.00,119.96 L661.50,121.19 L662.01,122.41 L662.51,123.61 L663.01,124.80 L663.52,125.97 L664.02,127.14 L664.53,128.28 L665.03,129.42 L665.53,130.54 L666.04,131.64 L666.54,132.74 L667.05,133.82 L667.55,134.88 L668.06,135.94 L668.56,136.98 L669.06,138.01 L669.57,139.03 L670.07,140.03 L670.58,141.02 L671.08,142.00 L671.58,142.96 L672.09,143.92 L672.59,144.86 L673.10,145.79 L673.60,146.71 L674.10,147.62 L674.61,148.51 L675.11,149.40 L675.62,150.27 L676.12,151.13 L676.62,151.98 L677.13,152.82 L677.63,153.65 L678.14,154.46 L678.64,155.27 L679.14,156.07 L679.65,156.85 L680.15,157.62 L680.66,158.39 L681.16,159.14 L681.67,159.89 L682.17,160.62 L682.67,161.34 L683.18,162.06 L683.68,162.76 L684.19,163.46 L684.69,164.14 L685.19,164.82 L685.70,165.48 L686.20,166.14 L686.71,166.79 L687.21,167.42 L687.71,168.05 L688.22,168.67 L688.72,169.28 L689.23,169.88 L689.73,170.47 L690.23,171.05 L690.74,171.62 L691.24,172.18 L691.75,172.74 L692.25,173.28 L692.76,173.82 L693.26,174.34 L693.76,174.86 L694.27,175.37 L694.77,175.87 L695.28,176.36 L695.78,176.84 L696.28,177.31 L696.79,177.77 L697.29,178.23 L697.80,178.67 L698.30,179.11 L698.80,179.54 L699.31,179.96 L699.81,180.37 L700.32,180.77 L700.82,181.17 L701.32,181.55 L701.83,181.93 L702.33,182.30 L702.84,182.66 L703.34,183.01 L703.84,183.36 L704.35,183.69 L704.85,184.02 L705.36,184.34 L705.86,184.65 L706.37,184.95 L706.87,185.24 L707.37,185.53 L707.88,185.81 L708.38,186.08 L708.89,186.34 L709.39,186.59 L709.89,186.84 L710.40,187.08 L710.90,187.31 L711.41,187.53 L711.91,187.74 L712.41,187.95 L712.92,188.15 L713.42,188.34 L713.93,188.52 L714.43,188.70 L714.93,188.87 L715.44,189.03 L715.94,189.18 L716.45,189.32 L716.95,189.46 L717.46,189.59 L717.96,189.72 L718.46,189.83 L718.97,189.94 L719.47,190.04 L719.98,190.13 L720.48,190.22 L720.98,190.30 L721.49,190.37 L721.99,190.44 L722.50,190.49 L723.00,190.54 L723.51,190.45 L724.02,190.31 L724.53,190.13 L725.04,189.91 L725.55,189.65 L726.06,189.35 L726.57,189.01 L727.08,188.63 L727.59,188.21 L728.10,187.75 L728.61,187.26 L729.12,186.73 L729.63,186.17 L730.14,185.57 L730.65,184.94 L731.16,184.27 L731.67,183.57 L732.18,182.83 L732.69,182.07 L733.20,181.27 L733.71,180.44 L734.23,179.59 L734.74,178.70 L735.25,177.78 L735.76,176.83 L736.27,175.86 L736.78,174.86 L737.29,173.83 L737.80,172.78 L738.31,171.70 L738.82,170.59 L739.33,169.46 L739.84,168.31 L740.35,167.13 L740.86,165.94 L741.37,164.72 L741.88,163.47 L742.39,162.21 L742.90,160.93 L743.41,159.63 L743.92,158.31 L744.43,156.97 L744.94,155.61 L745.45,154.24 L745.96,152.84 L746.47,151.44 L746.98,150.02 L747.49,148.58 L748.00,147.13 L748.51,145.66 L749.02,144.19 L749.53,142.70 L750.04,141.20 L750.55,139.68 L751.06,138.16 L751.57,136.63 L752.08,135.08 L752.59,133.53 L753.10,131.97 L753.61,130.41 L754.12,128.83 L754.63,127.25 L755.14,125.67 L755.65,124.08 L756.16,122.48 L756.67,120.88 L757.19,119.28 L757.70,117.67 L758.21,116.06 L758.72,114.45 L759.23,112.84 L759.74,111.23 L760.25,109.62 L760.76,108.01 L761.27,106.41 L761.78,104.80 L762.29,103.20 L762.80,101.60 L763.31,100.00 L763.82,98.41 L764.33,96.82 L764.84,95.24 L765.35,93.67 L765.86,92.10 L766.37,90.54 L766.88,88.98 L767.39,87.44 L767.90,85.91" fill="none" stroke="#0000ff" stroke-width="2.8" stroke-linejoin="round"/><path d="M640.80,429.99 L641.30,428.92 L641.81,427.85 L642.31,426.80 L642.82,425.76 L643.32,424.72 L643.83,423.70 L644.33,422.69 L644.83,421.68 L645.34,420.69 L645.84,419.71 L646.35,418.74 L646.85,417.78 L647.36,416.82 L647.86,415.88 L648.36,414.95 L648.87,414.03 L649.37,413.12 L649.88,412.21 L650.38,411.32 L650.89,410.44 L651.39,409.57 L651.89,408.70 L652.40,407.85 L652.90,407.00 L653.41,406.17 L653.91,405.34 L654.42,404.53 L654.92,403.72 L655.42,402.92 L655.93,402.13 L656.43,401.35 L656.94,400.58 L657.44,399.82 L657.95,399.07 L658.45,398.33 L658.95,397.59 L659.46,396.87 L659.96,396.15 L660.47,395.44 L660.97,394.74 L661.48,394.05 L661.98,393.37 L662.48,392.70 L662.99,392.04 L663.49,391.38 L664.00,390.73 L664.50,390.09 L665.01,389.46 L665.51,388.84 L666.01,388.23 L666.52,387.62 L667.02,387.02 L667.53,386.43 L668.03,385.85 L668.54,385.28 L669.04,384.71 L669.54,384.15 L670.05,383.60 L670.55,383.06 L671.06,382.53 L671.56,382.00 L672.07,381.48 L672.57,380.97 L673.07,380.47 L673.58,379.97 L674.08,379.48 L674.59,379.00 L675.09,378.53 L675.60,378.06 L676.10,377.60 L676.60,377.15 L677.11,376.71 L677.61,376.27 L678.12,375.84 L678.62,375.42 L679.13,375.00 L679.63,374.59 L680.13,374.19 L680.64,373.79 L681.14,373.40 L681.65,373.02 L682.15,372.65 L682.66,372.28 L683.16,371.92 L683.67,371.56 L684.17,371.21 L684.67,370.87 L685.18,370.54 L685.68,370.21 L686.19,369.88 L686.69,369.57 L687.20,369.26 L687.70,368.95 L688.20,368.65 L688.71,368.36 L689.21,368.08 L689.72,367.80 L690.22,367.52 L690.73,367.26 L691.23,366.99 L691.73,366.74 L692.24,366.49 L692.74,366.24 L693.25,366.00 L693.75,365.77 L694.26,365.54 L694.76,365.32 L695.26,365.10 L695.77,364.89 L696.27,364.68 L696.78,364.48 L697.28,364.29 L697.79,364.10 L698.29,363.91 L698.79,363.73 L699.30,363.56 L699.80,363.39 L700.31,363.22 L700.81,363.07 L701.32,362.91 L701.82,362.76 L702.32,362.62 L702.83,362.47 L703.33,362.34 L703.84,362.21 L704.34,362.08 L704.85,361.96 L705.35,361.84 L705.85,361.73 L706.36,361.62 L706.86,361.52 L707.37,361.42 L707.87,361.32 L708.38,361.23 L708.88,361.15 L709.38,361.06 L709.89,360.98 L710.39,360.91 L710.90,360.84 L711.40,360.77 L711.91,360.71 L712.41,360.65 L712.91,360.60 L713.42,360.54 L713.92,360.50 L714.43,360.45 L714.93,360.41 L715.44,360.38 L715.94,360.34 L716.44,360.31 L716.95,360.29 L717.45,360.26 L717.96,360.25 L718.46,360.23 L718.97,360.22 L719.47,360.21 L719.97,360.20 L720.48,360.20 L720.98,360.20 L721.49,360.20 L721.99,360.20 L722.50,360.21 L723.00,360.22 L723.51,360.35 L724.03,360.53 L724.54,360.75 L725.05,361.00 L725.56,361.30 L726.08,361.63 L726.59,362.00 L727.10,362.41 L727.61,362.86 L728.13,363.35 L728.64,363.87 L729.15,364.43 L729.67,365.03 L730.18,365.67 L730.69,366.34 L731.20,367.05 L731.72,367.79 L732.23,368.58 L732.74,369.39 L733.25,370.25 L733.77,371.14 L734.28,372.07 L734.79,373.03 L735.30,374.03 L735.82,375.06 L736.33,376.13 L736.84,377.23 L737.36,378.37 L737.87,379.54 L738.38,380.75 L738.89,381.99 L739.41,383.27 L739.92,384.58 L740.43,385.92 L740.94,387.30 L741.46,388.71 L741.97,390.15 L742.48,391.62 L743.00,393.13 L743.51,394.68 L744.02,396.25 L744.53,397.86 L745.05,399.50 L745.56,401.17 L746.07,402.87 L746.58,404.61 L747.10,406.37 L747.61,408.17 L748.12,410.00 L748.63,411.86 L749.15,413.75 L749.66,415.67 L750.17,417.62 L750.69,419.61 L751.20,421.62 L751.71,423.66 L752.22,425.74 L752.74,427.84 L753.25,429.97 L753.76,432.13 L754.27,434.32 L754.79,436.54 L755.30,438.79" fill="none" stroke="#0000ff" stroke-width="2.8" stroke-linejoin="round"/><path d="M648.90,85.88 L649.40,87.49 L649.91,89.07 L650.41,90.64 L650.92,92.20 L651.42,93.73 L651.92,95.25 L652.43,96.76 L652.93,98.25 L653.44,99.72 L653.94,101.18 L654.44,102.62 L654.95,104.04 L655.45,105.45 L655.96,106.85 L656.46,108.23 L656.97,109.59 L657.47,110.94 L657.97,112.27 L658.48,113.59 L658.98,114.89 L659.49,116.18 L659.99,117.46 L660.49,118.72 L661.00,119.96 L661.50,121.19 L662.01,122.41 L662.51,123.61 L663.01,124.80 L663.52,125.97 L664.02,127.14 L664.53,128.28 L665.03,129.42 L665.53,130.54 L666.04,131.64 L666.54,132.74 L667.05,133.82 L667.55,134.88 L668.06,135.94 L668.56,136.98 L669.06,138.01 L669.57,139.03 L670.07,140.03 L670.58,141.02 L671.08,142.00 L671.58,142.96 L672.09,143.92 L672.59,144.86 L673.10,145.79 L673.60,146.71 L674.10,147.62 L674.61,148.51 L675.11,149.40 L675.62,150.27 L676.12,151.13 L676.62,151.98 L677.13,152.82 L677.63,153.65 L678.14,154.46 L678.64,155.27 L679.14,156.07 L679.65,156.85 L680.15,157.62 L680.66,158.39 L681.16,159.14 L681.67,159.89 L682.17,160.62 L682.67,161.34 L683.18,162.06 L683.68,162.76 L684.19,163.46 L684.69,164.14 L685.19,164.82 L685.70,165.48 L686.20,166.14 L686.71,166.79 L687.21,167.42 L687.71,168.05 L688.22,168.67 L688.72,169.28 L689.23,169.88 L689.73,170.47 L690.23,171.05 L690.74,171.62 L691.24,172.18 L691.75,172.74 L692.25,173.28 L692.76,173.82 L693.26,174.34 L693.76,174.86 L694.27,175.37 L694.77,175.87 L695.28,176.36 L695.78,176.84 L696.28,177.31 L696.79,177.77 L697.29,178.23 L697.80,178.67 L698.30,179.11 L698.80,179.54 L699.31,179.96 L699.81,180.37 L700.32,180.77 L700.82,181.17 L701.32,181.55 L701.83,181.93 L702.33,182.30 L702.84,182.66 L703.34,183.01 L703.84,183.36 L704.35,183.69 L704.85,184.02 L705.36,184.34 L705.86,184.65 L706.37,184.95 L706.87,185.24 L707.37,185.53 L707.88,185.81 L708.38,186.08 L708.89,186.34 L709.39,186.59 L709.89,186.84 L710.40,187.08 L710.90,187.31 L711.41,187.53 L711.91,187.74 L712.41,187.95 L712.92,188.15 L713.42,188.34 L713.93,188.52 L714.43,188.70 L714.93,188.87 L715.44,189.03 L715.94,189.18 L716.45,189.32 L716.95,189.46 L717.46,189.59 L717.96,189.72 L718.46,189.83 L718.97,189.94 L719.47,190.04 L719.98,190.13 L720.48,190.22 L720.98,190.30 L721.49,190.37 L721.99,190.44 L722.50,190.49 L723.00,190.54 L723.51,190.45 L724.02,190.31 L724.53,190.13 L725.04,189.91 L725.55,189.65 L726.06,189.35 L726.57,189.01 L727.08,188.63 L727.59,188.21 L728.10,187.75 L728.61,187.26 L729.12,186.73 L729.63,186.17 L730.14,185.57 L730.65,184.94 L731.16,184.27 L731.67,183.57 L732.18,182.83 L732.69,182.07 L733.20,181.27 L733.71,180.44 L734.23,179.59 L734.74,178.70 L735.25,177.78 L735.76,176.83 L736.27,175.86 L736.78,174.86 L737.29,173.83 L737.80,172.78 L738.31,171.70 L738.82,170.59 L739.33,169.46 L739.84,168.31 L740.35,167.13 L740.86,165.94 L741.37,164.72 L741.88,163.47 L742.39,162.21 L742.90,160.93 L743.41,159.63 L743.92,158.31 L744.43,156.97 L744.94,155.61 L745.45,154.24 L745.96,152.84 L746.47,151.44 L746.98,150.02 L747.49,148.58 L748.00,147.13 L748.51,145.66 L749.02,144.19 L749.53,142.70 L750.04,141.20 L750.55,139.68 L751.06,138.16 L751.57,136.63 L752.08,135.08 L752.59,133.53 L753.10,131.97 L753.61,130.41 L754.12,128.83 L754.63,127.25 L755.14,125.67 L755.65,124.08 L756.16,122.48 L756.67,120.88 L757.19,119.28 L757.70,117.67 L758.21,116.06 L758.72,114.45 L759.23,112.84 L759.74,111.23 L760.25,109.62 L760.76,108.01 L761.27,106.41 L761.78,104.80 L762.29,103.20 L762.80,101.60 L763.31,100.00 L763.82,98.41 L764.33,96.82 L764.84,95.24 L765.35,93.67 L765.86,92.10 L766.37,90.54 L766.88,88.98 L767.39,87.44 L767.90,85.91" fill="none" stroke="#ff0000" stroke-width="2.7" stroke-linecap="round" stroke-linejoin="round" stroke-dasharray="5.9 9.1"/><path d="M616.40,427.14 L616.90,426.51 L617.41,425.88 L617.91,425.26 L618.41,424.64 L618.91,424.02 L619.42,423.40 L619.92,422.79 L620.42,422.18 L620.93,421.58 L621.43,420.98 L621.93,420.38 L622.43,419.78 L622.94,419.19 L623.44,418.60 L623.94,418.01 L624.45,417.42 L624.95,416.84 L625.45,416.26 L625.95,415.69 L626.46,415.12 L626.96,414.55 L627.46,413.98 L627.97,413.42 L628.47,412.86 L628.97,412.30 L629.47,411.75 L629.98,411.20 L630.48,410.65 L630.98,410.10 L631.48,409.56 L631.99,409.02 L632.49,408.49 L632.99,407.95 L633.50,407.42 L634.00,406.90 L634.50,406.37 L635.00,405.85 L635.51,405.33 L636.01,404.82 L636.51,404.31 L637.02,403.80 L637.52,403.29 L638.02,402.79 L638.52,402.29 L639.03,401.80 L639.53,401.30 L640.03,400.81 L640.54,400.32 L641.04,399.84 L641.54,399.36 L642.04,398.88 L642.55,398.40 L643.05,397.93 L643.55,397.46 L644.06,396.99 L644.56,396.53 L645.06,396.07 L645.56,395.61 L646.07,395.16 L646.57,394.71 L647.07,394.26 L647.58,393.81 L648.08,393.37 L648.58,392.93 L649.08,392.49 L649.59,392.06 L650.09,391.63 L650.59,391.20 L651.10,390.78 L651.60,390.36 L652.10,389.94 L652.60,389.52 L653.11,389.11 L653.61,388.70 L654.11,388.29 L654.62,387.89 L655.12,387.49 L655.62,387.09 L656.12,386.70 L656.63,386.30 L657.13,385.91 L657.63,385.53 L658.13,385.15 L658.64,384.77 L659.14,384.39 L659.64,384.02 L660.15,383.64 L660.65,383.28 L661.15,382.91 L661.65,382.55 L662.16,382.19 L662.66,381.83 L663.16,381.48 L663.67,381.13 L664.17,380.78 L664.67,380.44 L665.17,380.10 L665.68,379.76 L666.18,379.42 L666.68,379.09 L667.19,378.76 L667.69,378.44 L668.19,378.11 L668.69,377.79 L669.20,377.47 L669.70,377.16 L670.20,376.85 L670.71,376.54 L671.21,376.23 L671.71,375.93 L672.21,375.63 L672.72,375.33 L673.22,375.04 L673.72,374.75 L674.23,374.46 L674.73,374.18 L675.23,373.89 L675.73,373.61 L676.24,373.34 L676.74,373.06 L677.24,372.79 L677.75,372.53 L678.25,372.26 L678.75,372.00 L679.25,371.74 L679.76,371.49 L680.26,371.23 L680.76,370.98 L681.27,370.74 L681.77,370.49 L682.27,370.25 L682.77,370.01 L683.28,369.78 L683.78,369.55 L684.28,369.32 L684.78,369.09 L685.29,368.87 L685.79,368.65 L686.29,368.43 L686.80,368.21 L687.30,368.00 L687.80,367.79 L688.30,367.59 L688.81,367.38 L689.31,367.18 L689.81,366.99 L690.32,366.79 L690.82,366.60 L691.32,366.41 L691.82,366.23 L692.33,366.05 L692.83,365.87 L693.33,365.69 L693.84,365.52 L694.34,365.34 L694.84,365.18 L695.34,365.01 L695.85,364.85 L696.35,364.69 L696.85,364.53 L697.36,364.38 L697.86,364.23 L698.36,364.08 L698.86,363.94 L699.37,363.80 L699.87,363.66 L700.37,363.52 L700.88,363.39 L701.38,363.26 L701.88,363.13 L702.38,363.01 L702.89,362.88 L703.39,362.76 L703.89,362.65 L704.40,362.54 L704.90,362.43 L705.40,362.32 L705.90,362.21 L706.41,362.11 L706.91,362.02 L707.41,361.92 L707.92,361.83 L708.42,361.74 L708.92,361.65 L709.42,361.57 L709.93,361.49 L710.43,361.41 L710.93,361.33 L711.43,361.26 L711.94,361.19 L712.44,361.12 L712.94,361.06 L713.45,361.00 L713.95,360.94 L714.45,360.88 L714.95,360.83 L715.46,360.78 L715.96,360.74 L716.46,360.69 L716.97,360.65 L717.47,360.61 L717.97,360.58 L718.47,360.55 L718.98,360.52 L719.48,360.49 L719.98,360.47 L720.49,360.45 L720.99,360.43 L721.49,360.41 L721.99,360.40 L722.50,360.39 L723.00,360.30 L723.51,360.35 L724.03,360.53 L724.54,360.75 L725.05,361.00 L725.56,361.30 L726.08,361.63 L726.59,362.00 L727.10,362.41 L727.61,362.86 L728.13,363.35 L728.64,363.87 L729.15,364.43 L729.67,365.03 L730.18,365.67 L730.69,366.34 L731.20,367.05 L731.72,367.79 L732.23,368.58 L732.74,369.39 L733.25,370.25 L733.77,371.14 L734.28,372.07 L734.79,373.03 L735.30,374.03 L735.82,375.06 L736.33,376.13 L736.84,377.23 L737.36,378.37 L737.87,379.54 L738.38,380.75 L738.89,381.99 L739.41,383.27 L739.92,384.58 L740.43,385.92 L740.94,387.30 L741.46,388.71 L741.97,390.15 L742.48,391.62 L743.00,393.13 L743.51,394.68 L744.02,396.25 L744.53,397.86 L745.05,399.50 L745.56,401.17 L746.07,402.87 L746.58,404.61 L747.10,406.37 L747.61,408.17 L748.12,410.00 L748.63,411.86 L749.15,413.75 L749.66,415.67 L750.17,417.62 L750.69,419.61 L751.20,421.62 L751.71,423.66 L752.22,425.74 L752.74,427.84 L753.25,429.97 L753.76,432.13 L754.27,434.32 L754.79,436.54 L755.30,438.79" fill="none" stroke="#ff0000" stroke-width="2.7" stroke-linecap="round" stroke-linejoin="round" stroke-dasharray="5.9 9.1"/></g>
<g clip-path="url(#cc1)"><path d="M957.40,84.65 L957.91,86.28 L958.41,87.89 L958.92,89.50 L959.42,91.10 L959.93,92.69 L960.43,94.27 L960.94,95.84 L961.44,97.40 L961.95,98.95 L962.45,100.50 L962.96,102.03 L963.46,103.55 L963.97,105.07 L964.47,106.57 L964.98,108.07 L965.48,109.55 L965.99,111.02 L966.49,112.48 L967.00,113.94 L967.50,115.38 L968.01,116.81 L968.51,118.22 L969.02,119.63 L969.52,121.03 L970.03,122.41 L970.53,123.79 L971.04,125.15 L971.54,126.50 L972.05,127.83 L972.55,129.16 L973.06,130.47 L973.56,131.77 L974.07,133.06 L974.57,134.34 L975.08,135.60 L975.58,136.85 L976.09,138.09 L976.59,139.31 L977.10,140.52 L977.60,141.72 L978.11,142.90 L978.61,144.07 L979.12,145.23 L979.62,146.37 L980.13,147.50 L980.63,148.61 L981.14,149.71 L981.64,150.80 L982.15,151.88 L982.65,152.94 L983.16,153.99 L983.66,155.03 L984.17,156.05 L984.67,157.07 L985.18,158.07 L985.68,159.06 L986.19,160.04 L986.69,161.01 L987.20,161.97 L987.70,162.92 L988.21,163.86 L988.71,164.79 L989.22,165.71 L989.72,166.62 L990.23,167.52 L990.73,168.41 L991.24,169.30 L991.74,170.17 L992.25,171.04 L992.75,171.90 L993.26,172.75 L993.76,173.60 L994.27,174.43 L994.77,175.26 L995.28,176.09 L995.78,176.90 L996.29,177.71 L996.79,178.52 L997.30,179.31 L997.81,180.10 L998.31,180.89 L998.82,181.66 L999.32,182.43 L999.83,183.20 L1000.33,183.95 L1000.84,184.70 L1001.34,185.44 L1001.85,186.18 L1002.35,186.90 L1002.86,187.62 L1003.36,188.34 L1003.87,189.04 L1004.37,189.74 L1004.88,190.43 L1005.38,191.11 L1005.89,191.79 L1006.39,192.46 L1006.90,193.12 L1007.40,193.77 L1007.91,194.41 L1008.41,195.05 L1008.92,195.68 L1009.42,196.30 L1009.93,196.91 L1010.43,197.51 L1010.94,198.11 L1011.44,198.70 L1011.95,199.28 L1012.45,199.85 L1012.96,200.41 L1013.46,200.97 L1013.97,201.51 L1014.47,202.05 L1014.98,202.58 L1015.48,203.10 L1015.99,203.61 L1016.49,204.12 L1017.00,204.61 L1017.50,205.10 L1018.01,205.57 L1018.51,206.04 L1019.02,206.50 L1019.52,206.95 L1020.03,207.39 L1020.53,207.82 L1021.04,208.24 L1021.54,208.66 L1022.05,209.06 L1022.55,209.45 L1023.06,209.84 L1023.56,210.21 L1024.07,210.58 L1024.57,210.94 L1025.08,211.28 L1025.58,211.62 L1026.09,211.94 L1026.59,212.26 L1027.10,212.57 L1027.60,212.87 L1028.11,213.15 L1028.61,213.43 L1029.12,213.70 L1029.62,213.95 L1030.13,214.20 L1030.63,214.43 L1031.14,214.66 L1031.64,214.88 L1032.15,215.08 L1032.65,215.28 L1033.16,215.46 L1033.66,215.63 L1034.17,215.80 L1034.67,215.95 L1035.18,216.09 L1035.68,216.22 L1036.19,216.34 L1036.69,216.45 L1037.20,216.65 L1037.70,216.43 L1038.21,216.08 L1038.71,215.70 L1039.22,215.31 L1039.72,214.89 L1040.23,214.45 L1040.73,213.99 L1041.24,213.51 L1041.74,213.01 L1042.24,212.49 L1042.75,211.95 L1043.25,211.40 L1043.76,210.82 L1044.26,210.22 L1044.77,209.60 L1045.27,208.96 L1045.78,208.31 L1046.28,207.64 L1046.78,206.94 L1047.29,206.23 L1047.79,205.51 L1048.30,204.76 L1048.80,204.00 L1049.31,203.22 L1049.81,202.42 L1050.32,201.61 L1050.82,200.78 L1051.32,199.93 L1051.83,199.06 L1052.33,198.18 L1052.84,197.29 L1053.34,196.38 L1053.85,195.45 L1054.35,194.51 L1054.85,193.55 L1055.36,192.58 L1055.86,191.59 L1056.37,190.59 L1056.87,189.58 L1057.38,188.55 L1057.88,187.50 L1058.39,186.45 L1058.89,185.38 L1059.39,184.29 L1059.90,183.19 L1060.40,182.08 L1060.91,180.96 L1061.41,179.83 L1061.92,178.68 L1062.42,177.52 L1062.93,176.35 L1063.43,175.17 L1063.93,173.97 L1064.44,172.77 L1064.94,171.55 L1065.45,170.32 L1065.95,169.09 L1066.46,167.84 L1066.96,166.58 L1067.47,165.31 L1067.97,164.03 L1068.47,162.75 L1068.98,161.45 L1069.48,160.14 L1069.99,158.82 L1070.49,157.50 L1071.00,156.16 L1071.50,154.81 L1072.01,153.46 L1072.51,152.09 L1073.01,150.71 L1073.52,149.33 L1074.02,147.93 L1074.53,146.53 L1075.03,145.11 L1075.54,143.68 L1076.04,142.25 L1076.55,140.80 L1077.05,139.34 L1077.55,137.88 L1078.06,136.40 L1078.56,134.91 L1079.07,133.41 L1079.57,131.90 L1080.08,130.38 L1080.58,128.85 L1081.08,127.31 L1081.59,125.76 L1082.09,124.20 L1082.60,122.63 L1083.10,121.05 L1083.61,119.45 L1084.11,117.85 L1084.62,116.23 L1085.12,114.61 L1085.62,112.97 L1086.13,111.32 L1086.63,109.66 L1087.14,107.99 L1087.64,106.31 L1088.15,104.62 L1088.65,102.92 L1089.16,101.20 L1089.66,99.48 L1090.16,97.74 L1090.67,95.99 L1091.17,94.23 L1091.68,92.46 L1092.18,90.68 L1092.69,88.89 L1093.19,87.09 L1093.70,85.27 L1094.20,83.44" fill="none" stroke="#0000ff" stroke-width="2.8" stroke-linejoin="round"/><path d="M968.50,88.71 L969.01,89.79 L969.51,90.87 L970.02,91.94 L970.52,93.01 L971.03,94.07 L971.53,95.12 L972.04,96.16 L972.54,97.20 L973.05,98.24 L973.55,99.26 L974.06,100.28 L974.56,101.29 L975.07,102.30 L975.57,103.30 L976.08,104.29 L976.58,105.27 L977.09,106.25 L977.59,107.22 L978.10,108.18 L978.60,109.14 L979.11,110.09 L979.61,111.03 L980.12,111.96 L980.62,112.89 L981.13,113.81 L981.63,114.72 L982.14,115.62 L982.64,116.52 L983.15,117.41 L983.65,118.29 L984.16,119.16 L984.66,120.03 L985.17,120.88 L985.67,121.73 L986.18,122.57 L986.69,123.41 L987.19,124.23 L987.70,125.05 L988.20,125.86 L988.71,126.66 L989.21,127.46 L989.72,128.24 L990.22,129.02 L990.73,129.79 L991.23,130.55 L991.74,131.30 L992.24,132.04 L992.75,132.78 L993.25,133.50 L993.76,134.22 L994.26,134.93 L994.77,135.63 L995.27,136.32 L995.78,137.00 L996.28,137.68 L996.79,138.34 L997.29,139.00 L997.80,139.64 L998.30,140.28 L998.81,140.91 L999.31,141.53 L999.82,142.14 L1000.32,142.74 L1000.83,143.33 L1001.33,143.92 L1001.84,144.49 L1002.34,145.05 L1002.85,145.61 L1003.36,146.15 L1003.86,146.69 L1004.37,147.21 L1004.87,147.73 L1005.38,148.23 L1005.88,148.73 L1006.39,149.22 L1006.89,149.70 L1007.40,150.17 L1007.90,150.63 L1008.41,151.08 L1008.91,151.52 L1009.42,151.95 L1009.92,152.37 L1010.43,152.79 L1010.93,153.19 L1011.44,153.59 L1011.94,153.98 L1012.45,154.36 L1012.95,154.73 L1013.46,155.09 L1013.96,155.44 L1014.47,155.79 L1014.97,156.12 L1015.48,156.45 L1015.98,156.77 L1016.49,157.08 L1016.99,157.38 L1017.50,157.68 L1018.00,157.96 L1018.51,158.24 L1019.01,158.51 L1019.52,158.77 L1020.03,159.03 L1020.53,159.27 L1021.04,159.51 L1021.54,159.74 L1022.05,159.96 L1022.55,160.18 L1023.06,160.38 L1023.56,160.58 L1024.07,160.78 L1024.57,160.96 L1025.08,161.14 L1025.58,161.31 L1026.09,161.47 L1026.59,161.62 L1027.10,161.77 L1027.60,161.91 L1028.11,162.05 L1028.61,162.17 L1029.12,162.29 L1029.62,162.40 L1030.13,162.51 L1030.63,162.61 L1031.14,162.70 L1031.64,162.79 L1032.15,162.86 L1032.65,162.94 L1033.16,163.00 L1033.66,163.06 L1034.17,163.11 L1034.67,163.16 L1035.18,163.20 L1035.68,163.23 L1036.19,163.25 L1036.69,163.28 L1037.20,163.42 L1037.71,163.54 L1038.22,163.48 L1038.73,163.35 L1039.24,163.18 L1039.75,162.94 L1040.26,162.65 L1040.77,162.31 L1041.28,161.92 L1041.79,161.48 L1042.30,160.98 L1042.81,160.44 L1043.33,159.85 L1043.84,159.22 L1044.35,158.54 L1044.86,157.81 L1045.37,157.04 L1045.88,156.23 L1046.39,155.38 L1046.90,154.48 L1047.41,153.55 L1047.92,152.58 L1048.43,151.57 L1048.94,150.53 L1049.45,149.45 L1049.96,148.34 L1050.47,147.19 L1050.98,146.02 L1051.49,144.81 L1052.00,143.57 L1052.51,142.31 L1053.02,141.01 L1053.53,139.69 L1054.04,138.35 L1054.56,136.98 L1055.07,135.59 L1055.58,134.17 L1056.09,132.74 L1056.60,131.28 L1057.11,129.81 L1057.62,128.32 L1058.13,126.81 L1058.64,125.28 L1059.15,123.74 L1059.66,122.19 L1060.17,120.62 L1060.68,119.05 L1061.19,117.46 L1061.70,115.86 L1062.21,114.26 L1062.72,112.64 L1063.23,111.02 L1063.74,109.40 L1064.25,107.77 L1064.76,106.14 L1065.27,104.51 L1065.79,102.87 L1066.30,101.24 L1066.81,99.60 L1067.32,97.97 L1067.83,96.35 L1068.34,94.72 L1068.85,93.10 L1069.36,91.49 L1069.87,89.89 L1070.38,88.30 L1070.89,86.71 L1071.40,85.14" fill="none" stroke="#0000ff" stroke-width="2.8" stroke-linejoin="round"/><path d="M964.20,434.81 L964.70,433.10 L965.21,431.40 L965.71,429.72 L966.22,428.06 L966.72,426.41 L967.22,424.78 L967.73,423.16 L968.23,421.56 L968.74,419.98 L969.24,418.41 L969.75,416.85 L970.25,415.31 L970.75,413.79 L971.26,412.28 L971.76,410.78 L972.27,409.30 L972.77,407.84 L973.27,406.39 L973.78,404.95 L974.28,403.53 L974.79,402.12 L975.29,400.73 L975.79,399.35 L976.30,397.99 L976.80,396.64 L977.31,395.31 L977.81,393.99 L978.32,392.68 L978.82,391.39 L979.32,390.11 L979.83,388.85 L980.33,387.59 L980.84,386.36 L981.34,385.14 L981.84,383.93 L982.35,382.73 L982.85,381.55 L983.36,380.38 L983.86,379.23 L984.36,378.09 L984.87,376.96 L985.37,375.84 L985.88,374.74 L986.38,373.65 L986.88,372.58 L987.39,371.52 L987.89,370.47 L988.40,369.43 L988.90,368.41 L989.41,367.40 L989.91,366.40 L990.41,365.41 L990.92,364.44 L991.42,363.48 L991.93,362.53 L992.43,361.59 L992.93,360.67 L993.44,359.76 L993.94,358.86 L994.45,357.97 L994.95,357.10 L995.45,356.24 L995.96,355.39 L996.46,354.55 L996.97,353.72 L997.47,352.90 L997.98,352.10 L998.48,351.31 L998.98,350.53 L999.49,349.76 L999.99,349.00 L1000.50,348.25 L1001.00,347.52 L1001.50,346.79 L1002.01,346.08 L1002.51,345.38 L1003.02,344.69 L1003.52,344.01 L1004.02,343.34 L1004.53,342.68 L1005.03,342.04 L1005.54,341.40 L1006.04,340.77 L1006.55,340.16 L1007.05,339.56 L1007.55,338.96 L1008.06,338.38 L1008.56,337.81 L1009.07,337.24 L1009.57,336.69 L1010.07,336.15 L1010.58,335.62 L1011.08,335.10 L1011.59,334.58 L1012.09,334.08 L1012.59,333.59 L1013.10,333.11 L1013.60,332.64 L1014.11,332.18 L1014.61,331.72 L1015.12,331.28 L1015.62,330.85 L1016.12,330.43 L1016.63,330.01 L1017.13,329.61 L1017.64,329.22 L1018.14,328.83 L1018.64,328.45 L1019.15,328.09 L1019.65,327.73 L1020.16,327.38 L1020.66,327.04 L1021.16,326.71 L1021.67,326.39 L1022.17,326.08 L1022.68,325.78 L1023.18,325.49 L1023.68,325.20 L1024.19,324.92 L1024.69,324.66 L1025.20,324.40 L1025.70,324.15 L1026.21,323.90 L1026.71,323.67 L1027.21,323.45 L1027.72,323.23 L1028.22,323.02 L1028.73,322.82 L1029.23,322.63 L1029.73,322.45 L1030.24,322.27 L1030.74,322.10 L1031.25,321.94 L1031.75,321.79 L1032.25,321.65 L1032.76,321.51 L1033.26,321.38 L1033.77,321.26 L1034.27,321.15 L1034.78,321.05 L1035.28,320.95 L1035.78,320.86 L1036.29,320.77 L1036.79,320.70 L1037.30,320.63 L1037.80,320.59 L1038.31,320.90 L1038.82,321.24 L1039.32,321.61 L1039.83,322.01 L1040.34,322.44 L1040.85,322.90 L1041.36,323.40 L1041.86,323.92 L1042.37,324.47 L1042.88,325.05 L1043.39,325.66 L1043.90,326.30 L1044.40,326.97 L1044.91,327.66 L1045.42,328.38 L1045.93,329.12 L1046.44,329.89 L1046.94,330.69 L1047.45,331.51 L1047.96,332.35 L1048.47,333.22 L1048.97,334.11 L1049.48,335.02 L1049.99,335.96 L1050.50,336.91 L1051.01,337.90 L1051.51,338.90 L1052.02,339.92 L1052.53,340.97 L1053.04,342.04 L1053.55,343.14 L1054.05,344.25 L1054.56,345.39 L1055.07,346.55 L1055.58,347.73 L1056.09,348.94 L1056.59,350.16 L1057.10,351.41 L1057.61,352.68 L1058.12,353.98 L1058.63,355.29 L1059.13,356.63 L1059.64,357.99 L1060.15,359.37 L1060.66,360.77 L1061.17,362.19 L1061.67,363.64 L1062.18,365.11 L1062.69,366.59 L1063.20,368.10 L1063.71,369.63 L1064.21,371.18 L1064.72,372.75 L1065.23,374.34 L1065.74,375.95 L1066.25,377.58 L1066.75,379.22 L1067.26,380.89 L1067.77,382.57 L1068.28,384.27 L1068.79,385.99 L1069.29,387.73 L1069.80,389.49 L1070.31,391.26 L1070.82,393.05 L1071.33,394.86 L1071.83,396.68 L1072.34,398.52 L1072.85,400.37 L1073.36,402.24 L1073.86,404.13 L1074.37,406.03 L1074.88,407.94 L1075.39,409.87 L1075.90,411.82 L1076.40,413.77 L1076.91,415.74 L1077.42,417.73 L1077.93,419.72 L1078.44,421.73 L1078.94,423.75 L1079.45,425.79 L1079.96,427.83 L1080.47,429.89 L1080.98,431.95 L1081.48,434.03 L1081.99,436.12 L1082.50,438.22" fill="none" stroke="#0000ff" stroke-width="2.8" stroke-linejoin="round"/><path d="M932.40,432.08 L932.90,430.73 L933.41,429.40 L933.91,428.09 L934.42,426.80 L934.92,425.54 L935.43,424.29 L935.93,423.07 L936.43,421.87 L936.94,420.69 L937.44,419.53 L937.95,418.39 L938.45,417.27 L938.96,416.17 L939.46,415.09 L939.96,414.04 L940.47,413.00 L940.97,411.98 L941.48,410.98 L941.98,410.01 L942.49,409.05 L942.99,408.11 L943.49,407.18 L944.00,406.28 L944.50,405.40 L945.01,404.53 L945.51,403.69 L946.02,402.86 L946.52,402.05 L947.02,401.26 L947.53,400.48 L948.03,399.73 L948.54,398.99 L949.04,398.26 L949.55,397.56 L950.05,396.87 L950.56,396.20 L951.06,395.55 L951.56,394.91 L952.07,394.29 L952.57,393.68 L953.08,393.10 L953.58,392.52 L954.09,391.97 L954.59,391.42 L955.09,390.90 L955.60,390.39 L956.10,389.89 L956.61,389.41 L957.11,388.95 L957.62,388.50 L958.12,388.06 L958.62,387.64 L959.13,387.23 L959.63,386.84 L960.14,386.46 L960.64,386.09 L961.15,385.74 L961.65,385.40 L962.15,385.08 L962.66,384.77 L963.16,384.47 L963.67,384.18 L964.17,383.91 L964.68,383.65 L965.18,383.40 L965.68,383.16 L966.19,382.94 L966.69,382.73 L967.20,382.53 L967.70,382.34 L968.21,382.16 L968.71,382.00 L969.21,381.84 L969.72,381.70 L970.22,381.57 L970.73,381.45 L971.23,381.33 L971.74,381.23 L972.24,381.14 L972.74,381.06 L973.25,380.99 L973.75,380.93 L974.26,380.88 L974.76,380.84 L975.27,380.81 L975.77,380.78 L976.27,380.77 L976.78,380.77 L977.28,380.77 L977.79,380.78 L978.29,380.80 L978.80,380.83 L979.30,380.87 L979.80,380.91 L980.31,380.97 L980.81,381.03 L981.32,381.10 L981.82,381.17 L982.33,381.25 L982.83,381.34 L983.33,381.44 L983.84,381.54 L984.34,381.65 L984.85,381.77 L985.35,381.89 L985.86,382.02 L986.36,382.16 L986.87,382.30 L987.37,382.44 L987.87,382.59 L988.38,382.75 L988.88,382.91 L989.39,383.08 L989.89,383.25 L990.40,383.43 L990.90,383.61 L991.40,383.80 L991.91,383.99 L992.41,384.18 L992.92,384.38 L993.42,384.58 L993.93,384.79 L994.43,385.00 L994.93,385.21 L995.44,385.42 L995.94,385.64 L996.45,385.86 L996.95,386.09 L997.46,386.32 L997.96,386.55 L998.46,386.78 L998.97,387.01 L999.47,387.25 L999.98,387.48 L1000.48,387.72 L1000.99,387.96 L1001.49,388.21 L1001.99,388.45 L1002.50,388.69 L1003.00,388.94 L1003.51,389.19 L1004.01,389.43 L1004.52,389.68 L1005.02,389.93 L1005.52,390.17 L1006.03,390.42 L1006.53,390.67 L1007.04,390.91 L1007.54,391.16 L1008.05,391.41 L1008.55,391.65 L1009.05,391.90 L1009.56,392.14 L1010.06,392.38 L1010.57,392.62 L1011.07,392.86 L1011.58,393.10 L1012.08,393.33 L1012.58,393.56 L1013.09,393.79 L1013.59,394.02 L1014.10,394.25 L1014.60,394.47 L1015.11,394.69 L1015.61,394.91 L1016.11,395.12 L1016.62,395.34 L1017.12,395.54 L1017.63,395.75 L1018.13,395.95 L1018.64,396.14 L1019.14,396.34 L1019.64,396.53 L1020.15,396.71 L1020.65,396.89 L1021.16,397.06 L1021.66,397.23 L1022.17,397.40 L1022.67,397.56 L1023.18,397.71 L1023.68,397.86 L1024.18,398.01 L1024.69,398.15 L1025.19,398.28 L1025.70,398.40 L1026.20,398.52 L1026.71,398.64 L1027.21,398.75 L1027.71,398.85 L1028.22,398.94 L1028.72,399.03 L1029.23,399.11 L1029.73,399.18 L1030.24,399.24 L1030.74,399.30 L1031.24,399.35 L1031.75,399.39 L1032.25,399.43 L1032.76,399.45 L1033.26,399.47 L1033.77,399.48 L1034.27,399.48 L1034.77,399.47 L1035.28,399.45 L1035.78,399.43 L1036.29,399.39 L1036.79,399.35 L1037.30,399.29 L1037.80,399.31 L1038.33,399.69 L1038.85,399.97 L1039.38,400.25 L1039.90,400.53 L1040.43,400.81 L1040.95,401.11 L1041.48,401.43 L1042.01,401.77 L1042.53,402.15 L1043.06,402.56 L1043.58,403.02 L1044.11,403.52 L1044.63,404.09 L1045.16,404.71 L1045.69,405.40 L1046.21,406.17 L1046.74,407.01 L1047.26,407.94 L1047.79,408.97 L1048.31,410.09 L1048.84,411.31 L1049.37,412.65 L1049.89,414.10 L1050.42,415.67 L1050.94,417.37 L1051.47,419.21 L1051.99,421.19 L1052.52,423.31 L1053.05,425.59 L1053.57,428.02 L1054.10,430.62 L1054.62,433.39 L1055.15,436.33 L1055.67,439.46 L1056.20,442.78" fill="none" stroke="#0000ff" stroke-width="2.8" stroke-linejoin="round"/><path d="M940.20,87.85 L940.70,89.23 L941.21,90.61 L941.71,91.97 L942.21,93.33 L942.71,94.68 L943.22,96.03 L943.72,97.36 L944.22,98.69 L944.72,100.01 L945.23,101.32 L945.73,102.62 L946.23,103.92 L946.73,105.21 L947.24,106.49 L947.74,107.76 L948.24,109.02 L948.74,110.28 L949.25,111.53 L949.75,112.77 L950.25,114.01 L950.75,115.23 L951.26,116.45 L951.76,117.66 L952.26,118.87 L952.76,120.06 L953.27,121.25 L953.77,122.43 L954.27,123.60 L954.78,124.77 L955.28,125.92 L955.78,127.07 L956.28,128.22 L956.79,129.35 L957.29,130.48 L957.79,131.60 L958.29,132.71 L958.80,133.81 L959.30,134.91 L959.80,136.00 L960.30,137.08 L960.81,138.15 L961.31,139.22 L961.81,140.28 L962.31,141.33 L962.82,142.37 L963.32,143.40 L963.82,144.43 L964.32,145.45 L964.83,146.47 L965.33,147.47 L965.83,148.47 L966.33,149.46 L966.84,150.44 L967.34,151.42 L967.84,152.39 L968.35,153.35 L968.85,154.30 L969.35,155.25 L969.85,156.18 L970.36,157.11 L970.86,158.04 L971.36,158.95 L971.86,159.86 L972.37,160.76 L972.87,161.66 L973.37,162.54 L973.87,163.42 L974.38,164.29 L974.88,165.16 L975.38,166.01 L975.88,166.86 L976.39,167.70 L976.89,168.54 L977.39,169.36 L977.89,170.18 L978.40,171.00 L978.90,171.80 L979.40,172.60 L979.90,173.39 L980.41,174.17 L980.91,174.95 L981.41,175.71 L981.92,176.47 L982.42,177.23 L982.92,177.97 L983.42,178.71 L983.93,179.44 L984.43,180.17 L984.93,180.88 L985.43,181.59 L985.94,182.30 L986.44,182.99 L986.94,183.68 L987.44,184.36 L987.95,185.03 L988.45,185.70 L988.95,186.36 L989.45,187.01 L989.96,187.66 L990.46,188.29 L990.96,188.92 L991.46,189.55 L991.97,190.16 L992.47,190.77 L992.97,191.37 L993.47,191.97 L993.98,192.55 L994.48,193.13 L994.98,193.70 L995.48,194.27 L995.99,194.83 L996.49,195.38 L996.99,195.92 L997.50,196.46 L998.00,196.99 L998.50,197.51 L999.00,198.03 L999.51,198.54 L1000.01,199.04 L1000.51,199.53 L1001.01,200.02 L1001.52,200.50 L1002.02,200.97 L1002.52,201.44 L1003.02,201.90 L1003.53,202.35 L1004.03,202.80 L1004.53,203.23 L1005.03,203.67 L1005.54,204.09 L1006.04,204.51 L1006.54,204.92 L1007.04,205.32 L1007.55,205.72 L1008.05,206.10 L1008.55,206.49 L1009.05,206.86 L1009.56,207.23 L1010.06,207.59 L1010.56,207.94 L1011.07,208.29 L1011.57,208.63 L1012.07,208.96 L1012.57,209.29 L1013.08,209.61 L1013.58,209.92 L1014.08,210.23 L1014.58,210.53 L1015.09,210.82 L1015.59,211.10 L1016.09,211.38 L1016.59,211.65 L1017.10,211.92 L1017.60,212.17 L1018.10,212.42 L1018.60,212.67 L1019.11,212.91 L1019.61,213.13 L1020.11,213.36 L1020.61,213.57 L1021.12,213.78 L1021.62,213.99 L1022.12,214.18 L1022.62,214.37 L1023.13,214.55 L1023.63,214.73 L1024.13,214.90 L1024.64,215.06 L1025.14,215.21 L1025.64,215.36 L1026.14,215.50 L1026.65,215.64 L1027.15,215.77 L1027.65,215.89 L1028.15,216.00 L1028.66,216.11 L1029.16,216.21 L1029.66,216.31 L1030.16,216.39 L1030.67,216.47 L1031.17,216.55 L1031.67,216.62 L1032.17,216.68 L1032.68,216.73 L1033.18,216.78 L1033.68,216.82 L1034.18,216.85 L1034.69,216.88 L1035.19,216.90 L1035.69,216.92 L1036.19,216.92 L1036.70,216.93 L1037.20,216.87 L1037.71,216.53 L1038.22,216.21 L1038.72,215.87 L1039.23,215.52 L1039.74,215.14 L1040.25,214.74 L1040.75,214.31 L1041.26,213.87 L1041.77,213.40 L1042.28,212.92 L1042.78,212.40 L1043.29,211.87 L1043.80,211.31 L1044.31,210.73 L1044.82,210.13 L1045.32,209.50 L1045.83,208.85 L1046.34,208.17 L1046.85,207.47 L1047.35,206.75 L1047.86,206.00 L1048.37,205.23 L1048.88,204.43 L1049.38,203.60 L1049.89,202.75 L1050.40,201.88 L1050.91,200.97 L1051.42,200.05 L1051.92,199.09 L1052.43,198.12 L1052.94,197.12 L1053.45,196.11 L1053.95,195.07 L1054.46,194.02 L1054.97,192.96 L1055.48,191.87 L1055.98,190.78 L1056.49,189.67 L1057.00,188.56 L1057.51,187.43 L1058.02,186.30 L1058.52,185.16 L1059.03,184.01 L1059.54,182.87 L1060.05,181.72 L1060.55,180.57 L1061.06,179.42 L1061.57,178.27 L1062.08,177.13 L1062.58,175.99 L1063.09,174.86 L1063.60,173.74 L1064.11,172.62 L1064.62,171.52 L1065.12,170.43 L1065.63,169.35 L1066.14,168.28 L1066.65,167.24 L1067.15,166.21 L1067.66,165.19 L1068.17,164.20 L1068.68,163.23 L1069.18,162.28 L1069.69,161.34 L1070.20,160.42 L1070.71,159.50 L1071.22,158.59 L1071.72,157.69 L1072.23,156.78 L1072.74,155.88 L1073.25,154.97 L1073.75,154.06 L1074.26,153.14 L1074.77,152.20 L1075.28,151.26 L1075.78,150.29 L1076.29,149.31 L1076.80,148.30 L1077.31,147.27 L1077.82,146.22 L1078.32,145.13 L1078.83,144.01 L1079.34,142.85 L1079.85,141.66 L1080.35,140.42 L1080.86,139.14 L1081.37,137.82 L1081.88,136.45 L1082.38,135.03 L1082.89,133.55 L1083.40,132.01 L1083.91,130.42 L1084.42,128.77 L1084.92,127.05 L1085.43,125.26 L1085.94,123.41 L1086.45,121.52 L1086.95,119.60 L1087.46,117.67 L1087.97,115.74 L1088.48,113.83 L1088.98,111.96 L1089.49,110.14 L1090.00,108.39 L1090.51,106.73 L1091.02,105.17 L1091.52,103.73 L1092.03,102.42 L1092.54,101.26 L1093.05,100.27 L1093.55,99.47 L1094.06,98.86 L1094.57,98.47 L1095.08,98.31 L1095.58,98.41 L1096.09,98.76 L1096.60,99.40" fill="none" stroke="#ff0000" stroke-width="2.7" stroke-linecap="round" stroke-linejoin="round" stroke-dasharray="5.9 9.1"/><path d="M977.70,89.13 L978.20,90.02 L978.71,90.92 L979.21,91.84 L979.72,92.78 L980.22,93.72 L980.73,94.68 L981.23,95.65 L981.73,96.63 L982.24,97.62 L982.74,98.62 L983.25,99.62 L983.75,100.64 L984.26,101.66 L984.76,102.68 L985.26,103.71 L985.77,104.75 L986.27,105.78 L986.78,106.83 L987.28,107.87 L987.78,108.91 L988.29,109.96 L988.79,111.00 L989.30,112.04 L989.80,113.08 L990.31,114.12 L990.81,115.15 L991.31,116.18 L991.82,117.20 L992.32,118.22 L992.83,119.23 L993.33,120.24 L993.84,121.23 L994.34,122.22 L994.84,123.20 L995.35,124.17 L995.85,125.13 L996.36,126.08 L996.86,127.03 L997.37,127.96 L997.87,128.88 L998.37,129.79 L998.88,130.69 L999.38,131.58 L999.89,132.46 L1000.39,133.32 L1000.89,134.18 L1001.40,135.02 L1001.90,135.85 L1002.41,136.66 L1002.91,137.47 L1003.42,138.25 L1003.92,139.03 L1004.42,139.79 L1004.93,140.53 L1005.43,141.26 L1005.94,141.98 L1006.44,142.68 L1006.95,143.36 L1007.45,144.03 L1007.95,144.68 L1008.46,145.32 L1008.96,145.94 L1009.47,146.55 L1009.97,147.14 L1010.48,147.72 L1010.98,148.28 L1011.48,148.83 L1011.99,149.37 L1012.49,149.89 L1013.00,150.40 L1013.50,150.90 L1014.01,151.38 L1014.51,151.85 L1015.01,152.31 L1015.52,152.75 L1016.02,153.18 L1016.53,153.60 L1017.03,154.01 L1017.53,154.41 L1018.04,154.79 L1018.54,155.17 L1019.05,155.53 L1019.55,155.88 L1020.06,156.23 L1020.56,156.56 L1021.06,156.88 L1021.57,157.19 L1022.07,157.49 L1022.58,157.78 L1023.08,158.07 L1023.59,158.34 L1024.09,158.60 L1024.59,158.86 L1025.10,159.10 L1025.60,159.34 L1026.11,159.57 L1026.61,159.79 L1027.12,160.01 L1027.62,160.21 L1028.12,160.41 L1028.63,160.60 L1029.13,160.79 L1029.64,160.97 L1030.14,161.14 L1030.64,161.30 L1031.15,161.46 L1031.65,161.61 L1032.16,161.76 L1032.66,161.90 L1033.17,162.03 L1033.67,162.16 L1034.17,162.29 L1034.68,162.41 L1035.18,162.53 L1035.69,162.64 L1036.19,162.74 L1036.70,162.85 L1037.20,163.25 L1037.71,163.54 L1038.22,163.48 L1038.73,163.35 L1039.24,163.18 L1039.75,162.94 L1040.26,162.65 L1040.77,162.31 L1041.28,161.92 L1041.79,161.48 L1042.30,160.98 L1042.81,160.44 L1043.33,159.85 L1043.84,159.22 L1044.35,158.54 L1044.86,157.81 L1045.37,157.04 L1045.88,156.23 L1046.39,155.38 L1046.90,154.48 L1047.41,153.55 L1047.92,152.58 L1048.43,151.57 L1048.94,150.53 L1049.45,149.45 L1049.96,148.34 L1050.47,147.19 L1050.98,146.02 L1051.49,144.81 L1052.00,143.57 L1052.51,142.31 L1053.02,141.01 L1053.53,139.69 L1054.04,138.35 L1054.56,136.98 L1055.07,135.59 L1055.58,134.17 L1056.09,132.74 L1056.60,131.28 L1057.11,129.81 L1057.62,128.32 L1058.13,126.81 L1058.64,125.28 L1059.15,123.74 L1059.66,122.19 L1060.17,120.62 L1060.68,119.05 L1061.19,117.46 L1061.70,115.86 L1062.21,114.26 L1062.72,112.64 L1063.23,111.02 L1063.74,109.40 L1064.25,107.77 L1064.76,106.14 L1065.27,104.51 L1065.79,102.87 L1066.30,101.24 L1066.81,99.60 L1067.32,97.97 L1067.83,96.35 L1068.34,94.72 L1068.85,93.10 L1069.36,91.49 L1069.87,89.89 L1070.38,88.30 L1070.89,86.71 L1071.40,85.14" fill="none" stroke="#ff0000" stroke-width="2.7" stroke-linecap="round" stroke-linejoin="round" stroke-dasharray="5.9 9.1"/><path d="M948.60,431.32 L949.10,430.07 L949.61,428.82 L950.11,427.57 L950.62,426.34 L951.12,425.11 L951.62,423.90 L952.13,422.69 L952.63,421.48 L953.14,420.29 L953.64,419.10 L954.14,417.92 L954.65,416.75 L955.15,415.59 L955.66,414.43 L956.16,413.28 L956.66,412.14 L957.17,411.01 L957.67,409.88 L958.18,408.76 L958.68,407.65 L959.18,406.55 L959.69,405.46 L960.19,404.37 L960.69,403.29 L961.20,402.22 L961.70,401.15 L962.21,400.09 L962.71,399.04 L963.21,398.00 L963.72,396.97 L964.22,395.94 L964.73,394.92 L965.23,393.91 L965.73,392.90 L966.24,391.91 L966.74,390.92 L967.25,389.93 L967.75,388.96 L968.25,387.99 L968.76,387.03 L969.26,386.08 L969.77,385.13 L970.27,384.19 L970.77,383.26 L971.28,382.34 L971.78,381.42 L972.29,380.51 L972.79,379.61 L973.29,378.72 L973.80,377.83 L974.30,376.95 L974.81,376.08 L975.31,375.21 L975.81,374.35 L976.32,373.50 L976.82,372.66 L977.33,371.82 L977.83,370.99 L978.33,370.17 L978.84,369.35 L979.34,368.54 L979.85,367.74 L980.35,366.95 L980.85,366.16 L981.36,365.38 L981.86,364.61 L982.36,363.84 L982.87,363.08 L983.37,362.33 L983.88,361.59 L984.38,360.85 L984.88,360.12 L985.39,359.39 L985.89,358.68 L986.40,357.96 L986.90,357.26 L987.40,356.57 L987.91,355.88 L988.41,355.19 L988.92,354.52 L989.42,353.85 L989.92,353.19 L990.43,352.53 L990.93,351.88 L991.44,351.24 L991.94,350.61 L992.44,349.98 L992.95,349.36 L993.45,348.74 L993.96,348.13 L994.46,347.53 L994.96,346.94 L995.47,346.35 L995.97,345.77 L996.48,345.20 L996.98,344.63 L997.48,344.07 L997.99,343.51 L998.49,342.97 L999.00,342.43 L999.50,341.89 L1000.00,341.36 L1000.51,340.84 L1001.01,340.33 L1001.52,339.82 L1002.02,339.32 L1002.52,338.83 L1003.03,338.34 L1003.53,337.86 L1004.04,337.39 L1004.54,336.92 L1005.04,336.46 L1005.55,336.00 L1006.05,335.56 L1006.55,335.12 L1007.06,334.68 L1007.56,334.25 L1008.07,333.83 L1008.57,333.42 L1009.07,333.01 L1009.58,332.61 L1010.08,332.22 L1010.59,331.83 L1011.09,331.45 L1011.59,331.07 L1012.10,330.70 L1012.60,330.34 L1013.11,329.99 L1013.61,329.64 L1014.11,329.30 L1014.62,328.96 L1015.12,328.63 L1015.63,328.31 L1016.13,328.00 L1016.63,327.69 L1017.14,327.39 L1017.64,327.09 L1018.15,326.80 L1018.65,326.52 L1019.15,326.24 L1019.66,325.97 L1020.16,325.71 L1020.67,325.45 L1021.17,325.20 L1021.67,324.96 L1022.18,324.72 L1022.68,324.49 L1023.19,324.27 L1023.69,324.05 L1024.19,323.84 L1024.70,323.63 L1025.20,323.44 L1025.71,323.24 L1026.21,323.06 L1026.71,322.88 L1027.22,322.71 L1027.72,322.54 L1028.22,322.38 L1028.73,322.23 L1029.23,322.08 L1029.74,321.94 L1030.24,321.81 L1030.74,321.68 L1031.25,321.56 L1031.75,321.45 L1032.26,321.34 L1032.76,321.24 L1033.26,321.15 L1033.77,321.06 L1034.27,320.97 L1034.78,320.90 L1035.28,320.83 L1035.78,320.77 L1036.29,320.71 L1036.79,320.66 L1037.30,320.62 L1037.80,320.59 L1038.31,320.90 L1038.82,321.24 L1039.32,321.61 L1039.83,322.01 L1040.34,322.44 L1040.85,322.90 L1041.36,323.40 L1041.86,323.92 L1042.37,324.47 L1042.88,325.05 L1043.39,325.66 L1043.90,326.30 L1044.40,326.97 L1044.91,327.66 L1045.42,328.38 L1045.93,329.12 L1046.44,329.89 L1046.94,330.69 L1047.45,331.51 L1047.96,332.35 L1048.47,333.22 L1048.97,334.11 L1049.48,335.02 L1049.99,335.96 L1050.50,336.91 L1051.01,337.90 L1051.51,338.90 L1052.02,339.92 L1052.53,340.97 L1053.04,342.04 L1053.55,343.14 L1054.05,344.25 L1054.56,345.39 L1055.07,346.55 L1055.58,347.73 L1056.09,348.94 L1056.59,350.16 L1057.10,351.41 L1057.61,352.68 L1058.12,353.98 L1058.63,355.29 L1059.13,356.63 L1059.64,357.99 L1060.15,359.37 L1060.66,360.77 L1061.17,362.19 L1061.67,363.64 L1062.18,365.11 L1062.69,366.59 L1063.20,368.10 L1063.71,369.63 L1064.21,371.18 L1064.72,372.75 L1065.23,374.34 L1065.74,375.95 L1066.25,377.58 L1066.75,379.22 L1067.26,380.89 L1067.77,382.57 L1068.28,384.27 L1068.79,385.99 L1069.29,387.73 L1069.80,389.49 L1070.31,391.26 L1070.82,393.05 L1071.33,394.86 L1071.83,396.68 L1072.34,398.52 L1072.85,400.37 L1073.36,402.24 L1073.86,404.13 L1074.37,406.03 L1074.88,407.94 L1075.39,409.87 L1075.90,411.82 L1076.40,413.77 L1076.91,415.74 L1077.42,417.73 L1077.93,419.72 L1078.44,421.73 L1078.94,423.75 L1079.45,425.79 L1079.96,427.83 L1080.47,429.89 L1080.98,431.95 L1081.48,434.03 L1081.99,436.12 L1082.50,438.22" fill="none" stroke="#ff0000" stroke-width="2.7" stroke-linecap="round" stroke-linejoin="round" stroke-dasharray="5.9 9.1"/><path d="M901.00,348.37 L901.50,348.75 L902.01,349.13 L902.51,349.51 L903.01,349.88 L903.51,350.25 L904.02,350.63 L904.52,351.00 L905.02,351.37 L905.53,351.74 L906.03,352.10 L906.53,352.47 L907.04,352.83 L907.54,353.20 L908.04,353.56 L908.54,353.92 L909.05,354.28 L909.55,354.63 L910.05,354.99 L910.56,355.35 L911.06,355.70 L911.56,356.05 L912.06,356.40 L912.57,356.75 L913.07,357.10 L913.57,357.45 L914.08,357.80 L914.58,358.14 L915.08,358.48 L915.59,358.83 L916.09,359.17 L916.59,359.51 L917.09,359.84 L917.60,360.18 L918.10,360.52 L918.60,360.85 L919.11,361.18 L919.61,361.52 L920.11,361.85 L920.61,362.17 L921.12,362.50 L921.62,362.83 L922.12,363.15 L922.63,363.48 L923.13,363.80 L923.63,364.12 L924.14,364.44 L924.64,364.76 L925.14,365.07 L925.64,365.39 L926.15,365.70 L926.65,366.01 L927.15,366.33 L927.66,366.64 L928.16,366.94 L928.66,367.25 L929.16,367.56 L929.67,367.86 L930.17,368.16 L930.67,368.47 L931.18,368.77 L931.68,369.07 L932.18,369.36 L932.69,369.66 L933.19,369.95 L933.69,370.25 L934.19,370.54 L934.70,370.83 L935.20,371.12 L935.70,371.41 L936.21,371.69 L936.71,371.98 L937.21,372.26 L937.71,372.54 L938.22,372.83 L938.72,373.11 L939.22,373.38 L939.73,373.66 L940.23,373.94 L940.73,374.21 L941.24,374.48 L941.74,374.75 L942.24,375.02 L942.74,375.29 L943.25,375.56 L943.75,375.82 L944.25,376.09 L944.76,376.35 L945.26,376.61 L945.76,376.87 L946.26,377.13 L946.77,377.39 L947.27,377.64 L947.77,377.90 L948.28,378.15 L948.78,378.40 L949.28,378.65 L949.79,378.90 L950.29,379.15 L950.79,379.39 L951.29,379.64 L951.80,379.88 L952.30,380.12 L952.80,380.36 L953.31,380.60 L953.81,380.84 L954.31,381.07 L954.81,381.31 L955.32,381.54 L955.82,381.77 L956.32,382.00 L956.83,382.23 L957.33,382.46 L957.83,382.68 L958.34,382.91 L958.84,383.13 L959.34,383.35 L959.84,383.57 L960.35,383.79 L960.85,384.01 L961.35,384.22 L961.86,384.44 L962.36,384.65 L962.86,384.86 L963.36,385.07 L963.87,385.28 L964.37,385.48 L964.87,385.69 L965.38,385.89 L965.88,386.10 L966.38,386.30 L966.89,386.50 L967.39,386.69 L967.89,386.89 L968.39,387.09 L968.90,387.28 L969.40,387.47 L969.90,387.66 L970.41,387.85 L970.91,388.04 L971.41,388.22 L971.91,388.41 L972.42,388.59 L972.92,388.77 L973.42,388.95 L973.93,389.13 L974.43,389.31 L974.93,389.48 L975.44,389.66 L975.94,389.83 L976.44,390.00 L976.94,390.17 L977.45,390.34 L977.95,390.50 L978.45,390.67 L978.96,390.83 L979.46,390.99 L979.96,391.16 L980.46,391.31 L980.97,391.47 L981.47,391.63 L981.97,391.78 L982.48,391.93 L982.98,392.09 L983.48,392.24 L983.99,392.38 L984.49,392.53 L984.99,392.68 L985.49,392.82 L986.00,392.96 L986.50,393.10 L987.00,393.24 L987.51,393.38 L988.01,393.52 L988.51,393.65 L989.01,393.78 L989.52,393.91 L990.02,394.04 L990.52,394.17 L991.03,394.30 L991.53,394.42 L992.03,394.55 L992.54,394.67 L993.04,394.79 L993.54,394.91 L994.04,395.03 L994.55,395.14 L995.05,395.26 L995.55,395.37 L996.06,395.48 L996.56,395.59 L997.06,395.70 L997.56,395.81 L998.07,395.91 L998.57,396.01 L999.07,396.12 L999.58,396.22 L1000.08,396.32 L1000.58,396.41 L1001.09,396.51 L1001.59,396.60 L1002.09,396.69 L1002.59,396.79 L1003.10,396.87 L1003.60,396.96 L1004.10,397.05 L1004.61,397.13 L1005.11,397.22 L1005.61,397.30 L1006.11,397.38 L1006.62,397.46 L1007.12,397.53 L1007.62,397.61 L1008.13,397.68 L1008.63,397.75 L1009.13,397.82 L1009.64,397.89 L1010.14,397.96 L1010.64,398.02 L1011.14,398.09 L1011.65,398.15 L1012.15,398.21 L1012.65,398.27 L1013.16,398.33 L1013.66,398.38 L1014.16,398.44 L1014.66,398.49 L1015.17,398.54 L1015.67,398.59 L1016.17,398.64 L1016.68,398.68 L1017.18,398.73 L1017.68,398.77 L1018.19,398.81 L1018.69,398.85 L1019.19,398.89 L1019.69,398.92 L1020.20,398.96 L1020.70,398.99 L1021.20,399.02 L1021.71,399.05 L1022.21,399.08 L1022.71,399.11 L1023.21,399.13 L1023.72,399.15 L1024.22,399.18 L1024.72,399.20 L1025.23,399.21 L1025.73,399.23 L1026.23,399.25 L1026.74,399.26 L1027.24,399.27 L1027.74,399.28 L1028.24,399.29 L1028.75,399.30 L1029.25,399.30 L1029.75,399.30 L1030.26,399.31 L1030.76,399.31 L1031.26,399.30 L1031.76,399.30 L1032.27,399.30 L1032.77,399.29 L1033.27,399.28 L1033.78,399.27 L1034.28,399.26 L1034.78,399.25 L1035.29,399.23 L1035.79,399.21 L1036.29,399.20 L1036.79,399.17 L1037.30,399.15 L1037.80,399.26 L1038.33,399.69 L1038.85,399.97 L1039.38,400.25 L1039.90,400.53 L1040.43,400.81 L1040.95,401.11 L1041.48,401.43 L1042.01,401.77 L1042.53,402.15 L1043.06,402.56 L1043.58,403.02 L1044.11,403.52 L1044.63,404.09 L1045.16,404.71 L1045.69,405.40 L1046.21,406.17 L1046.74,407.01 L1047.26,407.94 L1047.79,408.97 L1048.31,410.09 L1048.84,411.31 L1049.37,412.65 L1049.89,414.10 L1050.42,415.67 L1050.94,417.37 L1051.47,419.21 L1051.99,421.19 L1052.52,423.31 L1053.05,425.59 L1053.57,428.02 L1054.10,430.62 L1054.62,433.39 L1055.15,436.33 L1055.67,439.46 L1056.20,442.78" fill="none" stroke="#ff0000" stroke-width="2.7" stroke-linecap="round" stroke-linejoin="round" stroke-dasharray="5.9 9.1"/></g>
<g clip-path="url(#cc2)"><path d="M1266.20,83.00 L1266.70,84.93 L1267.21,86.84 L1267.71,88.73 L1268.21,90.61 L1268.72,92.47 L1269.22,94.31 L1269.73,96.14 L1270.23,97.95 L1270.73,99.74 L1271.24,101.52 L1271.74,103.28 L1272.24,105.02 L1272.75,106.75 L1273.25,108.47 L1273.76,110.16 L1274.26,111.84 L1274.76,113.51 L1275.27,115.16 L1275.77,116.79 L1276.27,118.41 L1276.78,120.02 L1277.28,121.60 L1277.79,123.18 L1278.29,124.74 L1278.79,126.28 L1279.30,127.81 L1279.80,129.32 L1280.30,130.82 L1280.81,132.31 L1281.31,133.78 L1281.81,135.23 L1282.32,136.67 L1282.82,138.10 L1283.33,139.51 L1283.83,140.91 L1284.33,142.30 L1284.84,143.67 L1285.34,145.03 L1285.84,146.37 L1286.35,147.70 L1286.85,149.02 L1287.36,150.33 L1287.86,151.62 L1288.36,152.90 L1288.87,154.16 L1289.37,155.41 L1289.87,156.65 L1290.38,157.88 L1290.88,159.09 L1291.39,160.29 L1291.89,161.48 L1292.39,162.66 L1292.90,163.82 L1293.40,164.97 L1293.90,166.11 L1294.41,167.24 L1294.91,168.36 L1295.41,169.46 L1295.92,170.56 L1296.42,171.64 L1296.93,172.71 L1297.43,173.76 L1297.93,174.81 L1298.44,175.85 L1298.94,176.87 L1299.44,177.88 L1299.95,178.89 L1300.45,179.88 L1300.96,180.86 L1301.46,181.83 L1301.96,182.79 L1302.47,183.74 L1302.97,184.67 L1303.47,185.60 L1303.98,186.52 L1304.48,187.42 L1304.99,188.32 L1305.49,189.20 L1305.99,190.07 L1306.50,190.94 L1307.00,191.79 L1307.50,192.63 L1308.01,193.46 L1308.51,194.28 L1309.01,195.09 L1309.52,195.90 L1310.02,196.68 L1310.53,197.46 L1311.03,198.23 L1311.53,198.99 L1312.04,199.74 L1312.54,200.48 L1313.04,201.21 L1313.55,201.92 L1314.05,202.63 L1314.56,203.33 L1315.06,204.01 L1315.56,204.69 L1316.07,205.36 L1316.57,206.01 L1317.07,206.66 L1317.58,207.29 L1318.08,207.92 L1318.59,208.54 L1319.09,209.14 L1319.59,209.74 L1320.10,210.32 L1320.60,210.90 L1321.10,211.47 L1321.61,212.02 L1322.11,212.57 L1322.61,213.10 L1323.12,213.63 L1323.62,214.15 L1324.13,214.65 L1324.63,215.15 L1325.13,215.64 L1325.64,216.12 L1326.14,216.58 L1326.64,217.04 L1327.15,217.49 L1327.65,217.93 L1328.16,218.36 L1328.66,218.78 L1329.16,219.19 L1329.67,219.59 L1330.17,219.98 L1330.67,220.36 L1331.18,220.74 L1331.68,221.10 L1332.19,221.45 L1332.69,221.79 L1333.19,222.13 L1333.70,222.45 L1334.20,222.77 L1334.70,223.08 L1335.21,223.37 L1335.71,223.66 L1336.21,223.94 L1336.72,224.21 L1337.22,224.47 L1337.73,224.72 L1338.23,224.96 L1338.73,225.19 L1339.24,225.42 L1339.74,225.63 L1340.24,225.83 L1340.75,226.03 L1341.25,226.22 L1341.76,226.40 L1342.26,226.56 L1342.76,226.72 L1343.27,226.88 L1343.77,227.02 L1344.27,227.15 L1344.78,227.28 L1345.28,227.39 L1345.79,227.50 L1346.29,227.60 L1346.79,227.68 L1347.30,227.76 L1347.80,227.89 L1348.31,227.68 L1348.81,227.40 L1349.32,227.07 L1349.83,226.71 L1350.34,226.32 L1350.84,225.90 L1351.35,225.44 L1351.86,224.95 L1352.37,224.44 L1352.87,223.89 L1353.38,223.31 L1353.89,222.70 L1354.40,222.06 L1354.90,221.40 L1355.41,220.71 L1355.92,219.99 L1356.42,219.25 L1356.93,218.48 L1357.44,217.68 L1357.95,216.86 L1358.45,216.02 L1358.96,215.16 L1359.47,214.27 L1359.98,213.36 L1360.48,212.43 L1360.99,211.48 L1361.50,210.51 L1362.00,209.53 L1362.51,208.52 L1363.02,207.49 L1363.53,206.45 L1364.03,205.39 L1364.54,204.32 L1365.05,203.22 L1365.56,202.12 L1366.06,201.00 L1366.57,199.87 L1367.08,198.72 L1367.59,197.56 L1368.09,196.39 L1368.60,195.21 L1369.11,194.02 L1369.61,192.81 L1370.12,191.60 L1370.63,190.38 L1371.14,189.16 L1371.64,187.92 L1372.15,186.68 L1372.66,185.43 L1373.17,184.18 L1373.67,182.92 L1374.18,181.66 L1374.69,180.39 L1375.20,179.12 L1375.70,177.85 L1376.21,176.57 L1376.72,175.30 L1377.22,174.02 L1377.73,172.75 L1378.24,171.47 L1378.75,170.20 L1379.25,168.93 L1379.76,167.66 L1380.27,166.39 L1380.78,165.13 L1381.28,163.86 L1381.79,162.60 L1382.30,161.35 L1382.80,160.09 L1383.31,158.83 L1383.82,157.58 L1384.33,156.32 L1384.83,155.06 L1385.34,153.81 L1385.85,152.55 L1386.36,151.29 L1386.86,150.03 L1387.37,148.77 L1387.88,147.51 L1388.39,146.24 L1388.89,144.98 L1389.40,143.70 L1389.91,142.43 L1390.41,141.15 L1390.92,139.87 L1391.43,138.58 L1391.94,137.29 L1392.44,135.99 L1392.95,134.69 L1393.46,133.39 L1393.97,132.07 L1394.47,130.75 L1394.98,129.43 L1395.49,128.09 L1396.00,126.75 L1396.50,125.40 L1397.01,124.05 L1397.52,122.68 L1398.02,121.31 L1398.53,119.93 L1399.04,118.54 L1399.55,117.14 L1400.05,115.73 L1400.56,114.31 L1401.07,112.87 L1401.58,111.43 L1402.08,109.98 L1402.59,108.51 L1403.10,107.04 L1403.60,105.55 L1404.11,104.05 L1404.62,102.53 L1405.13,101.00 L1405.63,99.46 L1406.14,97.91 L1406.65,96.34 L1407.16,94.76 L1407.66,93.16 L1408.17,91.54 L1408.68,89.92 L1409.19,88.27 L1409.69,86.61 L1410.20,84.93" fill="none" stroke="#0000ff" stroke-width="2.8" stroke-linejoin="round"/><path d="M1272.10,88.70 L1272.60,89.78 L1273.11,90.85 L1273.61,91.93 L1274.12,93.01 L1274.62,94.09 L1275.13,95.17 L1275.63,96.25 L1276.14,97.34 L1276.64,98.42 L1277.15,99.50 L1277.65,100.59 L1278.16,101.67 L1278.66,102.76 L1279.17,103.84 L1279.67,104.93 L1280.17,106.01 L1280.68,107.09 L1281.18,108.18 L1281.69,109.26 L1282.19,110.34 L1282.70,111.42 L1283.20,112.50 L1283.71,113.57 L1284.21,114.64 L1284.72,115.72 L1285.22,116.79 L1285.73,117.85 L1286.23,118.92 L1286.74,119.98 L1287.24,121.04 L1287.74,122.10 L1288.25,123.15 L1288.75,124.21 L1289.26,125.25 L1289.76,126.30 L1290.27,127.34 L1290.77,128.37 L1291.28,129.41 L1291.78,130.43 L1292.29,131.46 L1292.79,132.48 L1293.30,133.49 L1293.80,134.50 L1294.31,135.51 L1294.81,136.51 L1295.31,137.50 L1295.82,138.49 L1296.32,139.47 L1296.83,140.45 L1297.33,141.42 L1297.84,142.38 L1298.34,143.34 L1298.85,144.30 L1299.35,145.24 L1299.86,146.18 L1300.36,147.11 L1300.87,148.04 L1301.37,148.96 L1301.88,149.87 L1302.38,150.77 L1302.88,151.66 L1303.39,152.55 L1303.89,153.43 L1304.40,154.30 L1304.90,155.16 L1305.41,156.02 L1305.91,156.86 L1306.42,157.70 L1306.92,158.53 L1307.43,159.35 L1307.93,160.15 L1308.44,160.95 L1308.94,161.74 L1309.45,162.52 L1309.95,163.29 L1310.45,164.05 L1310.96,164.80 L1311.46,165.54 L1311.97,166.27 L1312.47,166.99 L1312.98,167.70 L1313.48,168.40 L1313.99,169.09 L1314.49,169.77 L1315.00,170.44 L1315.50,171.09 L1316.01,171.74 L1316.51,172.38 L1317.02,173.00 L1317.52,173.62 L1318.02,174.23 L1318.53,174.82 L1319.03,175.40 L1319.54,175.98 L1320.04,176.54 L1320.55,177.09 L1321.05,177.63 L1321.56,178.16 L1322.06,178.68 L1322.57,179.19 L1323.07,179.69 L1323.58,180.17 L1324.08,180.65 L1324.59,181.11 L1325.09,181.56 L1325.59,182.01 L1326.10,182.44 L1326.60,182.86 L1327.11,183.26 L1327.61,183.66 L1328.12,184.05 L1328.62,184.42 L1329.13,184.78 L1329.63,185.13 L1330.14,185.47 L1330.64,185.80 L1331.15,186.12 L1331.65,186.42 L1332.16,186.71 L1332.66,186.99 L1333.16,187.26 L1333.67,187.52 L1334.17,187.77 L1334.68,188.00 L1335.18,188.22 L1335.69,188.43 L1336.19,188.63 L1336.70,188.82 L1337.20,188.99 L1337.71,189.15 L1338.21,189.30 L1338.72,189.44 L1339.22,189.56 L1339.73,189.67 L1340.23,189.77 L1340.73,189.86 L1341.24,189.94 L1341.74,190.00 L1342.25,190.05 L1342.75,190.09 L1343.26,190.12 L1343.76,190.13 L1344.27,190.13 L1344.77,190.12 L1345.28,190.09 L1345.78,190.05 L1346.29,190.00 L1346.79,189.94 L1347.30,189.86 L1347.80,189.89 L1348.31,189.91 L1348.82,189.76 L1349.33,189.55 L1349.84,189.30 L1350.35,188.99 L1350.86,188.64 L1351.37,188.24 L1351.88,187.80 L1352.39,187.31 L1352.90,186.78 L1353.41,186.20 L1353.92,185.58 L1354.43,184.92 L1354.94,184.22 L1355.46,183.48 L1355.97,182.71 L1356.48,181.89 L1356.99,181.04 L1357.50,180.16 L1358.01,179.23 L1358.52,178.28 L1359.03,177.29 L1359.54,176.28 L1360.05,175.23 L1360.56,174.15 L1361.07,173.04 L1361.58,171.90 L1362.09,170.74 L1362.60,169.55 L1363.11,168.34 L1363.62,167.10 L1364.13,165.84 L1364.64,164.56 L1365.15,163.26 L1365.66,161.93 L1366.17,160.59 L1366.68,159.23 L1367.19,157.85 L1367.70,156.45 L1368.21,155.04 L1368.72,153.62 L1369.23,152.18 L1369.74,150.73 L1370.26,149.26 L1370.77,147.79 L1371.28,146.30 L1371.79,144.81 L1372.30,143.31 L1372.81,141.80 L1373.32,140.29 L1373.83,138.77 L1374.34,137.24 L1374.85,135.72 L1375.36,134.19 L1375.87,132.66 L1376.38,131.13 L1376.89,129.60 L1377.40,128.07 L1377.91,126.54 L1378.42,125.02 L1378.93,123.50 L1379.44,121.99 L1379.95,120.48 L1380.46,118.98 L1380.97,117.49 L1381.48,116.01 L1381.99,114.54 L1382.50,113.08 L1383.01,111.63 L1383.52,110.19 L1384.03,108.77 L1384.54,107.36 L1385.06,105.97 L1385.57,104.59 L1386.08,103.24 L1386.59,101.90 L1387.10,100.58 L1387.61,99.28 L1388.12,98.00 L1388.63,96.75 L1389.14,95.51 L1389.65,94.31 L1390.16,93.12 L1390.67,91.97 L1391.18,90.84 L1391.69,89.74 L1392.20,88.66" fill="none" stroke="#0000ff" stroke-width="2.8" stroke-linejoin="round"/><path d="M1282.70,89.59 L1283.20,90.66 L1283.71,91.71 L1284.21,92.75 L1284.72,93.78 L1285.22,94.81 L1285.73,95.82 L1286.23,96.82 L1286.74,97.81 L1287.24,98.79 L1287.75,99.76 L1288.25,100.71 L1288.76,101.66 L1289.26,102.60 L1289.77,103.53 L1290.27,104.45 L1290.77,105.36 L1291.28,106.25 L1291.78,107.14 L1292.29,108.02 L1292.79,108.89 L1293.30,109.75 L1293.80,110.59 L1294.31,111.43 L1294.81,112.26 L1295.32,113.08 L1295.82,113.89 L1296.33,114.69 L1296.83,115.48 L1297.33,116.26 L1297.84,117.03 L1298.34,117.79 L1298.85,118.54 L1299.35,119.28 L1299.86,120.01 L1300.36,120.74 L1300.87,121.45 L1301.37,122.15 L1301.88,122.85 L1302.38,123.53 L1302.89,124.21 L1303.39,124.88 L1303.90,125.53 L1304.40,126.18 L1304.90,126.82 L1305.41,127.45 L1305.91,128.07 L1306.42,128.69 L1306.92,129.29 L1307.43,129.88 L1307.93,130.47 L1308.44,131.05 L1308.94,131.61 L1309.45,132.17 L1309.95,132.72 L1310.46,133.27 L1310.96,133.80 L1311.47,134.32 L1311.97,134.84 L1312.47,135.35 L1312.98,135.84 L1313.48,136.34 L1313.99,136.82 L1314.49,137.29 L1315.00,137.76 L1315.50,138.21 L1316.01,138.66 L1316.51,139.10 L1317.02,139.53 L1317.52,139.96 L1318.03,140.37 L1318.53,140.78 L1319.03,141.18 L1319.54,141.57 L1320.04,141.96 L1320.55,142.33 L1321.05,142.70 L1321.56,143.06 L1322.06,143.41 L1322.57,143.75 L1323.07,144.09 L1323.58,144.42 L1324.08,144.74 L1324.59,145.05 L1325.09,145.36 L1325.60,145.66 L1326.10,145.95 L1326.60,146.23 L1327.11,146.51 L1327.61,146.77 L1328.12,147.03 L1328.62,147.29 L1329.13,147.53 L1329.63,147.77 L1330.14,148.00 L1330.64,148.23 L1331.15,148.44 L1331.65,148.65 L1332.16,148.85 L1332.66,149.05 L1333.17,149.24 L1333.67,149.42 L1334.17,149.59 L1334.68,149.76 L1335.18,149.92 L1335.69,150.08 L1336.19,150.22 L1336.70,150.36 L1337.20,150.50 L1337.71,150.62 L1338.21,150.74 L1338.72,150.85 L1339.22,150.96 L1339.73,151.06 L1340.23,151.15 L1340.73,151.24 L1341.24,151.32 L1341.74,151.40 L1342.25,151.46 L1342.75,151.53 L1343.26,151.58 L1343.76,151.63 L1344.27,151.67 L1344.77,151.71 L1345.28,151.74 L1345.78,151.76 L1346.29,151.78 L1346.79,151.79 L1347.30,151.80 L1347.80,151.77 L1348.32,151.92 L1348.83,152.01 L1349.35,152.03 L1349.86,151.96 L1350.38,151.82 L1350.89,151.61 L1351.41,151.32 L1351.92,150.97 L1352.44,150.55 L1352.96,150.06 L1353.47,149.50 L1353.99,148.89 L1354.50,148.21 L1355.02,147.47 L1355.53,146.68 L1356.05,145.84 L1356.56,144.94 L1357.08,143.99 L1357.59,142.99 L1358.11,141.94 L1358.63,140.85 L1359.14,139.72 L1359.66,138.54 L1360.17,137.32 L1360.69,136.07 L1361.20,134.78 L1361.72,133.46 L1362.23,132.10 L1362.75,130.72 L1363.27,129.30 L1363.78,127.86 L1364.30,126.40 L1364.81,124.91 L1365.33,123.40 L1365.84,121.88 L1366.36,120.34 L1366.87,118.78 L1367.39,117.21 L1367.91,115.63 L1368.42,114.04 L1368.94,112.44 L1369.45,110.83 L1369.97,109.23 L1370.48,107.62 L1371.00,106.01 L1371.51,104.40 L1372.03,102.80 L1372.54,101.21 L1373.06,99.62 L1373.58,98.04 L1374.09,96.47 L1374.61,94.92 L1375.12,93.38 L1375.64,91.86 L1376.15,90.36 L1376.67,88.88 L1377.18,87.42 L1377.70,85.99" fill="none" stroke="#0000ff" stroke-width="2.8" stroke-linejoin="round"/><path d="M1277.10,439.73 L1277.60,437.31 L1278.11,434.92 L1278.61,432.57 L1279.12,430.24 L1279.62,427.95 L1280.13,425.69 L1280.63,423.46 L1281.13,421.26 L1281.64,419.10 L1282.14,416.96 L1282.65,414.85 L1283.15,412.77 L1283.66,410.72 L1284.16,408.70 L1284.66,406.71 L1285.17,404.74 L1285.67,402.81 L1286.18,400.90 L1286.68,399.02 L1287.19,397.17 L1287.69,395.34 L1288.19,393.54 L1288.70,391.77 L1289.20,390.02 L1289.71,388.30 L1290.21,386.61 L1290.72,384.94 L1291.22,383.30 L1291.72,381.68 L1292.23,380.08 L1292.73,378.51 L1293.24,376.97 L1293.74,375.45 L1294.25,373.95 L1294.75,372.47 L1295.25,371.02 L1295.76,369.59 L1296.26,368.18 L1296.77,366.80 L1297.27,365.43 L1297.78,364.09 L1298.28,362.77 L1298.78,361.47 L1299.29,360.19 L1299.79,358.93 L1300.30,357.69 L1300.80,356.48 L1301.31,355.28 L1301.81,354.10 L1302.31,352.94 L1302.82,351.80 L1303.32,350.67 L1303.83,349.57 L1304.33,348.48 L1304.84,347.41 L1305.34,346.36 L1305.84,345.33 L1306.35,344.31 L1306.85,343.31 L1307.36,342.33 L1307.86,341.36 L1308.37,340.40 L1308.87,339.47 L1309.37,338.55 L1309.88,337.64 L1310.38,336.75 L1310.89,335.87 L1311.39,335.01 L1311.90,334.16 L1312.40,333.33 L1312.90,332.51 L1313.41,331.71 L1313.91,330.92 L1314.42,330.15 L1314.92,329.38 L1315.43,328.64 L1315.93,327.90 L1316.43,327.18 L1316.94,326.48 L1317.44,325.79 L1317.95,325.11 L1318.45,324.44 L1318.96,323.79 L1319.46,323.15 L1319.96,322.52 L1320.47,321.91 L1320.97,321.31 L1321.48,320.72 L1321.98,320.14 L1322.49,319.58 L1322.99,319.02 L1323.49,318.48 L1324.00,317.96 L1324.50,317.44 L1325.01,316.94 L1325.51,316.44 L1326.02,315.96 L1326.52,315.49 L1327.02,315.03 L1327.53,314.58 L1328.03,314.15 L1328.54,313.72 L1329.04,313.31 L1329.55,312.90 L1330.05,312.51 L1330.55,312.12 L1331.06,311.75 L1331.56,311.39 L1332.07,311.03 L1332.57,310.69 L1333.08,310.36 L1333.58,310.03 L1334.08,309.72 L1334.59,309.42 L1335.09,309.12 L1335.60,308.83 L1336.10,308.56 L1336.61,308.29 L1337.11,308.03 L1337.61,307.78 L1338.12,307.54 L1338.62,307.31 L1339.13,307.08 L1339.63,306.87 L1340.14,306.66 L1340.64,306.46 L1341.14,306.27 L1341.65,306.08 L1342.15,305.91 L1342.66,305.74 L1343.16,305.58 L1343.67,305.42 L1344.17,305.28 L1344.67,305.14 L1345.18,305.00 L1345.68,304.88 L1346.19,304.76 L1346.69,304.65 L1347.20,304.54 L1347.70,304.59 L1348.21,304.93 L1348.72,305.17 L1349.22,305.44 L1349.73,305.76 L1350.24,306.12 L1350.75,306.51 L1351.26,306.94 L1351.77,307.41 L1352.27,307.91 L1352.78,308.45 L1353.29,309.03 L1353.80,309.64 L1354.31,310.29 L1354.82,310.96 L1355.32,311.67 L1355.83,312.42 L1356.34,313.19 L1356.85,314.00 L1357.36,314.84 L1357.86,315.70 L1358.37,316.60 L1358.88,317.53 L1359.39,318.48 L1359.90,319.47 L1360.41,320.48 L1360.91,321.51 L1361.42,322.58 L1361.93,323.67 L1362.44,324.78 L1362.95,325.92 L1363.46,327.08 L1363.96,328.27 L1364.47,329.48 L1364.98,330.71 L1365.49,331.96 L1366.00,333.24 L1366.51,334.53 L1367.01,335.85 L1367.52,337.18 L1368.03,338.54 L1368.54,339.91 L1369.05,341.30 L1369.55,342.71 L1370.06,344.13 L1370.57,345.57 L1371.08,347.03 L1371.59,348.50 L1372.10,349.99 L1372.60,351.49 L1373.11,353.00 L1373.62,354.53 L1374.13,356.07 L1374.64,357.62 L1375.15,359.18 L1375.65,360.75 L1376.16,362.34 L1376.67,363.93 L1377.18,365.54 L1377.69,367.16 L1378.19,368.78 L1378.70,370.41 L1379.21,372.05 L1379.72,373.70 L1380.23,375.36 L1380.74,377.03 L1381.24,378.71 L1381.75,380.40 L1382.26,382.11 L1382.77,383.83 L1383.28,385.56 L1383.79,387.30 L1384.29,389.06 L1384.80,390.84 L1385.31,392.63 L1385.82,394.45 L1386.33,396.28 L1386.84,398.12 L1387.34,399.99 L1387.85,401.88 L1388.36,403.79 L1388.87,405.73 L1389.38,407.68 L1389.88,409.66 L1390.39,411.66 L1390.90,413.69 L1391.41,415.75 L1391.92,417.83 L1392.43,419.93 L1392.93,422.07 L1393.44,424.23 L1393.95,426.42 L1394.46,428.64 L1394.97,430.89 L1395.48,433.17 L1395.98,435.49 L1396.49,437.83 L1397.00,440.21" fill="none" stroke="#0000ff" stroke-width="2.8" stroke-linejoin="round"/><path d="M1265.00,431.77 L1265.50,430.39 L1266.01,429.02 L1266.51,427.67 L1267.02,426.34 L1267.52,425.03 L1268.03,423.74 L1268.53,422.47 L1269.03,421.21 L1269.54,419.97 L1270.04,418.75 L1270.55,417.55 L1271.05,416.37 L1271.56,415.20 L1272.06,414.05 L1272.56,412.92 L1273.07,411.80 L1273.57,410.70 L1274.08,409.62 L1274.58,408.56 L1275.09,407.51 L1275.59,406.48 L1276.09,405.46 L1276.60,404.46 L1277.10,403.48 L1277.61,402.51 L1278.11,401.56 L1278.62,400.62 L1279.12,399.70 L1279.62,398.79 L1280.13,397.90 L1280.63,397.02 L1281.14,396.16 L1281.64,395.31 L1282.15,394.48 L1282.65,393.66 L1283.15,392.86 L1283.66,392.07 L1284.16,391.29 L1284.67,390.53 L1285.17,389.78 L1285.67,389.05 L1286.18,388.32 L1286.68,387.62 L1287.19,386.92 L1287.69,386.24 L1288.20,385.57 L1288.70,384.91 L1289.20,384.27 L1289.71,383.64 L1290.21,383.02 L1290.72,382.41 L1291.22,381.81 L1291.73,381.23 L1292.23,380.66 L1292.73,380.09 L1293.24,379.55 L1293.74,379.01 L1294.25,378.48 L1294.75,377.96 L1295.26,377.46 L1295.76,376.96 L1296.26,376.48 L1296.77,376.01 L1297.27,375.54 L1297.78,375.09 L1298.28,374.65 L1298.79,374.21 L1299.29,373.79 L1299.79,373.38 L1300.30,372.97 L1300.80,372.58 L1301.31,372.19 L1301.81,371.81 L1302.32,371.44 L1302.82,371.08 L1303.32,370.73 L1303.83,370.39 L1304.33,370.06 L1304.84,369.73 L1305.34,369.41 L1305.85,369.10 L1306.35,368.80 L1306.85,368.50 L1307.36,368.22 L1307.86,367.94 L1308.37,367.67 L1308.87,367.40 L1309.38,367.15 L1309.88,366.90 L1310.38,366.65 L1310.89,366.42 L1311.39,366.19 L1311.90,365.97 L1312.40,365.75 L1312.91,365.54 L1313.41,365.34 L1313.91,365.14 L1314.42,364.95 L1314.92,364.77 L1315.43,364.59 L1315.93,364.41 L1316.44,364.25 L1316.94,364.08 L1317.44,363.93 L1317.95,363.78 L1318.45,363.63 L1318.96,363.49 L1319.46,363.35 L1319.97,363.22 L1320.47,363.10 L1320.97,362.97 L1321.48,362.86 L1321.98,362.74 L1322.49,362.63 L1322.99,362.53 L1323.50,362.43 L1324.00,362.33 L1324.50,362.24 L1325.01,362.15 L1325.51,362.07 L1326.02,361.98 L1326.52,361.91 L1327.03,361.83 L1327.53,361.76 L1328.03,361.69 L1328.54,361.62 L1329.04,361.56 L1329.55,361.50 L1330.05,361.44 L1330.55,361.39 L1331.06,361.33 L1331.56,361.28 L1332.07,361.23 L1332.57,361.19 L1333.08,361.14 L1333.58,361.10 L1334.08,361.06 L1334.59,361.02 L1335.09,360.98 L1335.60,360.94 L1336.10,360.90 L1336.61,360.87 L1337.11,360.84 L1337.61,360.80 L1338.12,360.77 L1338.62,360.74 L1339.13,360.71 L1339.63,360.68 L1340.14,360.65 L1340.64,360.62 L1341.14,360.59 L1341.65,360.56 L1342.15,360.53 L1342.66,360.50 L1343.16,360.46 L1343.67,360.43 L1344.17,360.40 L1344.67,360.37 L1345.18,360.33 L1345.68,360.30 L1346.19,360.26 L1346.69,360.23 L1347.20,360.19 L1347.70,360.25 L1348.21,360.51 L1348.72,360.71 L1349.23,360.95 L1349.74,361.23 L1350.25,361.55 L1350.76,361.91 L1351.27,362.30 L1351.78,362.73 L1352.29,363.20 L1352.80,363.71 L1353.30,364.25 L1353.81,364.83 L1354.32,365.45 L1354.83,366.10 L1355.34,366.79 L1355.85,367.51 L1356.36,368.27 L1356.87,369.07 L1357.38,369.90 L1357.89,370.76 L1358.40,371.66 L1358.91,372.60 L1359.42,373.57 L1359.93,374.57 L1360.44,375.60 L1360.95,376.68 L1361.46,377.78 L1361.97,378.92 L1362.48,380.09 L1362.99,381.29 L1363.50,382.53 L1364.00,383.79 L1364.51,385.09 L1365.02,386.43 L1365.53,387.79 L1366.04,389.18 L1366.55,390.61 L1367.06,392.07 L1367.57,393.56 L1368.08,395.08 L1368.59,396.63 L1369.10,398.21 L1369.61,399.82 L1370.12,401.46 L1370.63,403.13 L1371.14,404.83 L1371.65,406.55 L1372.16,408.31 L1372.67,410.10 L1373.18,411.91 L1373.69,413.75 L1374.20,415.62 L1374.70,417.52 L1375.21,419.45 L1375.72,421.40 L1376.23,423.38 L1376.74,425.39 L1377.25,427.43 L1377.76,429.49 L1378.27,431.57 L1378.78,433.69 L1379.29,435.83 L1379.80,437.99" fill="none" stroke="#0000ff" stroke-width="2.8" stroke-linejoin="round"/><path d="M1232.30,434.58 L1232.80,432.94 L1233.31,431.32 L1233.81,429.73 L1234.32,428.16 L1234.82,426.63 L1235.32,425.12 L1235.83,423.63 L1236.33,422.17 L1236.84,420.74 L1237.34,419.34 L1237.84,417.95 L1238.35,416.60 L1238.85,415.27 L1239.36,413.96 L1239.86,412.68 L1240.36,411.42 L1240.87,410.19 L1241.37,408.99 L1241.87,407.80 L1242.38,406.64 L1242.88,405.51 L1243.39,404.40 L1243.89,403.31 L1244.39,402.24 L1244.90,401.20 L1245.40,400.18 L1245.91,399.18 L1246.41,398.21 L1246.91,397.26 L1247.42,396.33 L1247.92,395.42 L1248.43,394.54 L1248.93,393.67 L1249.43,392.83 L1249.94,392.01 L1250.44,391.21 L1250.95,390.43 L1251.45,389.67 L1251.95,388.93 L1252.46,388.22 L1252.96,387.52 L1253.47,386.84 L1253.97,386.18 L1254.47,385.55 L1254.98,384.93 L1255.48,384.33 L1255.98,383.75 L1256.49,383.19 L1256.99,382.65 L1257.50,382.13 L1258.00,381.62 L1258.50,381.14 L1259.01,380.67 L1259.51,380.22 L1260.02,379.79 L1260.52,379.37 L1261.02,378.98 L1261.53,378.60 L1262.03,378.23 L1262.54,377.89 L1263.04,377.56 L1263.54,377.25 L1264.05,376.95 L1264.55,376.67 L1265.06,376.41 L1265.56,376.16 L1266.06,375.93 L1266.57,375.71 L1267.07,375.51 L1267.58,375.32 L1268.08,375.15 L1268.58,375.00 L1269.09,374.86 L1269.59,374.73 L1270.09,374.61 L1270.60,374.52 L1271.10,374.43 L1271.61,374.36 L1272.11,374.30 L1272.61,374.26 L1273.12,374.23 L1273.62,374.21 L1274.13,374.20 L1274.63,374.21 L1275.13,374.23 L1275.64,374.26 L1276.14,374.31 L1276.65,374.36 L1277.15,374.43 L1277.65,374.51 L1278.16,374.60 L1278.66,374.71 L1279.17,374.82 L1279.67,374.94 L1280.17,375.08 L1280.68,375.23 L1281.18,375.38 L1281.69,375.55 L1282.19,375.73 L1282.69,375.91 L1283.20,376.11 L1283.70,376.31 L1284.20,376.53 L1284.71,376.75 L1285.21,376.99 L1285.72,377.23 L1286.22,377.48 L1286.72,377.74 L1287.23,378.01 L1287.73,378.28 L1288.24,378.57 L1288.74,378.86 L1289.24,379.16 L1289.75,379.46 L1290.25,379.77 L1290.76,380.09 L1291.26,380.42 L1291.76,380.75 L1292.27,381.09 L1292.77,381.44 L1293.28,381.79 L1293.78,382.15 L1294.28,382.52 L1294.79,382.88 L1295.29,383.26 L1295.80,383.64 L1296.30,384.02 L1296.80,384.41 L1297.31,384.81 L1297.81,385.21 L1298.31,385.61 L1298.82,386.02 L1299.32,386.43 L1299.83,386.84 L1300.33,387.26 L1300.83,387.68 L1301.34,388.10 L1301.84,388.53 L1302.35,388.96 L1302.85,389.39 L1303.35,389.83 L1303.86,390.26 L1304.36,390.70 L1304.87,391.14 L1305.37,391.58 L1305.87,392.03 L1306.38,392.47 L1306.88,392.92 L1307.39,393.37 L1307.89,393.81 L1308.39,394.26 L1308.90,394.71 L1309.40,395.16 L1309.91,395.61 L1310.41,396.05 L1310.91,396.50 L1311.42,396.95 L1311.92,397.40 L1312.42,397.84 L1312.93,398.29 L1313.43,398.73 L1313.94,399.17 L1314.44,399.61 L1314.94,400.05 L1315.45,400.48 L1315.95,400.92 L1316.46,401.35 L1316.96,401.78 L1317.46,402.20 L1317.97,402.63 L1318.47,403.05 L1318.98,403.46 L1319.48,403.88 L1319.98,404.28 L1320.49,404.69 L1320.99,405.09 L1321.50,405.49 L1322.00,405.88 L1322.50,406.27 L1323.01,406.65 L1323.51,407.03 L1324.02,407.40 L1324.52,407.77 L1325.02,408.13 L1325.53,408.49 L1326.03,408.84 L1326.53,409.18 L1327.04,409.52 L1327.54,409.85 L1328.05,410.17 L1328.55,410.49 L1329.05,410.80 L1329.56,411.10 L1330.06,411.40 L1330.57,411.69 L1331.07,411.97 L1331.57,412.24 L1332.08,412.50 L1332.58,412.76 L1333.09,413.01 L1333.59,413.24 L1334.09,413.47 L1334.60,413.70 L1335.10,413.91 L1335.61,414.11 L1336.11,414.30 L1336.61,414.48 L1337.12,414.66 L1337.62,414.82 L1338.13,414.97 L1338.63,415.11 L1339.13,415.24 L1339.64,415.36 L1340.14,415.47 L1340.64,415.57 L1341.15,415.65 L1341.65,415.73 L1342.16,415.79 L1342.66,415.84 L1343.16,415.88 L1343.67,415.90 L1344.17,415.92 L1344.68,415.92 L1345.18,415.90 L1345.68,415.88 L1346.19,415.84 L1346.69,415.79 L1347.20,415.72 L1347.70,415.52 L1348.23,415.62 L1348.77,415.87 L1349.30,416.14 L1349.84,416.44 L1350.37,416.77 L1350.91,417.12 L1351.44,417.50 L1351.98,417.90 L1352.51,418.34 L1353.05,418.79 L1353.58,419.28 L1354.12,419.79 L1354.65,420.33 L1355.19,420.89 L1355.72,421.48 L1356.26,422.10 L1356.79,422.74 L1357.33,423.41 L1357.86,424.11 L1358.40,424.83 L1358.93,425.58 L1359.47,426.36 L1360.00,427.16" fill="none" stroke="#0000ff" stroke-width="2.8" stroke-linejoin="round"/><path d="M1239.60,85.93 L1240.10,87.64 L1240.61,89.32 L1241.11,90.96 L1241.61,92.56 L1242.12,94.13 L1242.62,95.66 L1243.12,97.16 L1243.63,98.63 L1244.13,100.07 L1244.63,101.48 L1245.14,102.86 L1245.64,104.22 L1246.14,105.54 L1246.65,106.85 L1247.15,108.13 L1247.65,109.38 L1248.16,110.61 L1248.66,111.83 L1249.16,113.02 L1249.67,114.19 L1250.17,115.35 L1250.67,116.49 L1251.17,117.62 L1251.68,118.73 L1252.18,119.82 L1252.68,120.91 L1253.19,121.98 L1253.69,123.05 L1254.19,124.10 L1254.70,125.15 L1255.20,126.19 L1255.70,127.23 L1256.21,128.26 L1256.71,129.28 L1257.21,130.31 L1257.72,131.33 L1258.22,132.36 L1258.72,133.38 L1259.23,134.41 L1259.73,135.43 L1260.23,136.46 L1260.74,137.49 L1261.24,138.52 L1261.74,139.55 L1262.25,140.58 L1262.75,141.60 L1263.25,142.62 L1263.76,143.64 L1264.26,144.65 L1264.76,145.65 L1265.27,146.65 L1265.77,147.65 L1266.27,148.64 L1266.78,149.62 L1267.28,150.59 L1267.78,151.57 L1268.29,152.53 L1268.79,153.49 L1269.29,154.45 L1269.80,155.39 L1270.30,156.34 L1270.80,157.27 L1271.31,158.20 L1271.81,159.13 L1272.31,160.05 L1272.81,160.96 L1273.32,161.87 L1273.82,162.77 L1274.32,163.67 L1274.83,164.56 L1275.33,165.44 L1275.83,166.32 L1276.34,167.19 L1276.84,168.06 L1277.34,168.92 L1277.85,169.77 L1278.35,170.62 L1278.85,171.46 L1279.36,172.30 L1279.86,173.13 L1280.36,173.95 L1280.87,174.77 L1281.37,175.58 L1281.87,176.39 L1282.38,177.19 L1282.88,177.98 L1283.38,178.77 L1283.89,179.55 L1284.39,180.33 L1284.89,181.10 L1285.40,181.86 L1285.90,182.61 L1286.40,183.36 L1286.91,184.11 L1287.41,184.85 L1287.91,185.58 L1288.42,186.30 L1288.92,187.02 L1289.42,187.74 L1289.93,188.44 L1290.43,189.14 L1290.93,189.84 L1291.44,190.52 L1291.94,191.21 L1292.44,191.88 L1292.95,192.55 L1293.45,193.21 L1293.95,193.87 L1294.45,194.52 L1294.96,195.16 L1295.46,195.80 L1295.96,196.43 L1296.47,197.06 L1296.97,197.68 L1297.47,198.29 L1297.98,198.90 L1298.48,199.50 L1298.98,200.09 L1299.49,200.68 L1299.99,201.26 L1300.49,201.84 L1301.00,202.41 L1301.50,202.97 L1302.00,203.53 L1302.51,204.08 L1303.01,204.62 L1303.51,205.16 L1304.02,205.69 L1304.52,206.22 L1305.02,206.74 L1305.53,207.25 L1306.03,207.75 L1306.53,208.26 L1307.04,208.75 L1307.54,209.24 L1308.04,209.72 L1308.55,210.19 L1309.05,210.66 L1309.55,211.13 L1310.06,211.58 L1310.56,212.03 L1311.06,212.48 L1311.57,212.91 L1312.07,213.34 L1312.57,213.77 L1313.08,214.19 L1313.58,214.60 L1314.08,215.01 L1314.59,215.41 L1315.09,215.80 L1315.59,216.19 L1316.09,216.57 L1316.60,216.94 L1317.10,217.31 L1317.60,217.67 L1318.11,218.03 L1318.61,218.38 L1319.11,218.72 L1319.62,219.06 L1320.12,219.39 L1320.62,219.71 L1321.13,220.03 L1321.63,220.34 L1322.13,220.65 L1322.64,220.95 L1323.14,221.24 L1323.64,221.53 L1324.15,221.81 L1324.65,222.08 L1325.15,222.35 L1325.66,222.61 L1326.16,222.87 L1326.66,223.11 L1327.17,223.36 L1327.67,223.59 L1328.17,223.82 L1328.68,224.05 L1329.18,224.26 L1329.68,224.47 L1330.19,224.68 L1330.69,224.88 L1331.19,225.07 L1331.70,225.25 L1332.20,225.43 L1332.70,225.60 L1333.21,225.77 L1333.71,225.93 L1334.21,226.08 L1334.72,226.23 L1335.22,226.37 L1335.72,226.51 L1336.23,226.64 L1336.73,226.76 L1337.23,226.87 L1337.73,226.98 L1338.24,227.09 L1338.74,227.18 L1339.24,227.27 L1339.75,227.36 L1340.25,227.44 L1340.75,227.51 L1341.26,227.57 L1341.76,227.63 L1342.26,227.68 L1342.77,227.73 L1343.27,227.77 L1343.77,227.80 L1344.28,227.83 L1344.78,227.85 L1345.28,227.87 L1345.79,227.87 L1346.29,227.87 L1346.79,227.87 L1347.30,227.86 L1347.80,227.75 L1348.30,227.49 L1348.81,227.29 L1349.31,227.05 L1349.81,226.77 L1350.32,226.45 L1350.82,226.10 L1351.32,225.71 L1351.83,225.29 L1352.33,224.83 L1352.83,224.33 L1353.34,223.80 L1353.84,223.24 L1354.34,222.64 L1354.85,222.01 L1355.35,221.35 L1355.86,220.65 L1356.36,219.93 L1356.86,219.17 L1357.37,218.39 L1357.87,217.57 L1358.37,216.73 L1358.88,215.85 L1359.38,214.95 L1359.88,214.02 L1360.39,213.06 L1360.89,212.08 L1361.39,211.07 L1361.90,210.04 L1362.40,208.98 L1362.90,207.89 L1363.41,206.79 L1363.91,205.66 L1364.41,204.51 L1364.92,203.35 L1365.42,202.17 L1365.92,200.97 L1366.43,199.76 L1366.93,198.54 L1367.43,197.31 L1367.94,196.08 L1368.44,194.83 L1368.94,193.58 L1369.45,192.33 L1369.95,191.07 L1370.46,189.82 L1370.96,188.56 L1371.46,187.31 L1371.97,186.07 L1372.47,184.83 L1372.97,183.60 L1373.48,182.38 L1373.98,181.17 L1374.48,179.97 L1374.99,178.78 L1375.49,177.62 L1375.99,176.47 L1376.50,175.34 L1377.00,174.23 L1377.50,173.14 L1378.01,172.08 L1378.51,171.04 L1379.01,170.03 L1379.52,169.05 L1380.02,168.10 L1380.52,167.18 L1381.03,166.30 L1381.53,165.44 L1382.03,164.62 L1382.54,163.82 L1383.04,163.04 L1383.54,162.28 L1384.05,161.54 L1384.55,160.81 L1385.06,160.10 L1385.56,159.39 L1386.06,158.68 L1386.57,157.99 L1387.07,157.29 L1387.57,156.58 L1388.08,155.88 L1388.58,155.16 L1389.08,154.43 L1389.59,153.69 L1390.09,152.93 L1390.59,152.16 L1391.10,151.36 L1391.60,150.54 L1392.10,149.70 L1392.61,148.84 L1393.11,147.96 L1393.61,147.06 L1394.12,146.14 L1394.62,145.20 L1395.12,144.24 L1395.63,143.25 L1396.13,142.25 L1396.63,141.22 L1397.14,140.17 L1397.64,139.11 L1398.14,138.01 L1398.65,136.90 L1399.15,135.77 L1399.66,134.61 L1400.16,133.43 L1400.66,132.23 L1401.17,131.02 L1401.67,129.79 L1402.17,128.55 L1402.68,127.31 L1403.18,126.05 L1403.68,124.79 L1404.19,123.53 L1404.69,122.27 L1405.19,121.01 L1405.70,119.75 L1406.20,118.51 L1406.70,117.27 L1407.21,116.04 L1407.71,114.83 L1408.21,113.64 L1408.72,112.47 L1409.22,111.32 L1409.72,110.19 L1410.23,109.09 L1410.73,108.02 L1411.23,106.98 L1411.74,105.97 L1412.24,105.00 L1412.74,104.07 L1413.25,103.17 L1413.75,102.33 L1414.26,101.52 L1414.76,100.77 L1415.26,100.07 L1415.77,99.42 L1416.27,98.82 L1416.77,98.29 L1417.28,97.81 L1417.78,97.39 L1418.28,97.04 L1418.79,96.76 L1419.29,96.55 L1419.79,96.41 L1420.30,96.34 L1420.80,96.35" fill="none" stroke="#ff0000" stroke-width="2.7" stroke-linecap="round" stroke-linejoin="round" stroke-dasharray="5.9 9.1"/><path d="M1272.10,88.70 L1272.60,89.78 L1273.11,90.85 L1273.61,91.93 L1274.12,93.01 L1274.62,94.09 L1275.13,95.17 L1275.63,96.25 L1276.14,97.34 L1276.64,98.42 L1277.15,99.50 L1277.65,100.59 L1278.16,101.67 L1278.66,102.76 L1279.17,103.84 L1279.67,104.93 L1280.17,106.01 L1280.68,107.09 L1281.18,108.18 L1281.69,109.26 L1282.19,110.34 L1282.70,111.42 L1283.20,112.50 L1283.71,113.57 L1284.21,114.64 L1284.72,115.72 L1285.22,116.79 L1285.73,117.85 L1286.23,118.92 L1286.74,119.98 L1287.24,121.04 L1287.74,122.10 L1288.25,123.15 L1288.75,124.21 L1289.26,125.25 L1289.76,126.30 L1290.27,127.34 L1290.77,128.37 L1291.28,129.41 L1291.78,130.43 L1292.29,131.46 L1292.79,132.48 L1293.30,133.49 L1293.80,134.50 L1294.31,135.51 L1294.81,136.51 L1295.31,137.50 L1295.82,138.49 L1296.32,139.47 L1296.83,140.45 L1297.33,141.42 L1297.84,142.38 L1298.34,143.34 L1298.85,144.30 L1299.35,145.24 L1299.86,146.18 L1300.36,147.11 L1300.87,148.04 L1301.37,148.96 L1301.88,149.87 L1302.38,150.77 L1302.88,151.66 L1303.39,152.55 L1303.89,153.43 L1304.40,154.30 L1304.90,155.16 L1305.41,156.02 L1305.91,156.86 L1306.42,157.70 L1306.92,158.53 L1307.43,159.35 L1307.93,160.15 L1308.44,160.95 L1308.94,161.74 L1309.45,162.52 L1309.95,163.29 L1310.45,164.05 L1310.96,164.80 L1311.46,165.54 L1311.97,166.27 L1312.47,166.99 L1312.98,167.70 L1313.48,168.40 L1313.99,169.09 L1314.49,169.77 L1315.00,170.44 L1315.50,171.09 L1316.01,171.74 L1316.51,172.38 L1317.02,173.00 L1317.52,173.62 L1318.02,174.23 L1318.53,174.82 L1319.03,175.40 L1319.54,175.98 L1320.04,176.54 L1320.55,177.09 L1321.05,177.63 L1321.56,178.16 L1322.06,178.68 L1322.57,179.19 L1323.07,179.69 L1323.58,180.17 L1324.08,180.65 L1324.59,181.11 L1325.09,181.56 L1325.59,182.01 L1326.10,182.44 L1326.60,182.86 L1327.11,183.26 L1327.61,183.66 L1328.12,184.05 L1328.62,184.42 L1329.13,184.78 L1329.63,185.13 L1330.14,185.47 L1330.64,185.80 L1331.15,186.12 L1331.65,186.42 L1332.16,186.71 L1332.66,186.99 L1333.16,187.26 L1333.67,187.52 L1334.17,187.77 L1334.68,188.00 L1335.18,188.22 L1335.69,188.43 L1336.19,188.63 L1336.70,188.82 L1337.20,188.99 L1337.71,189.15 L1338.21,189.30 L1338.72,189.44 L1339.22,189.56 L1339.73,189.67 L1340.23,189.77 L1340.73,189.86 L1341.24,189.94 L1341.74,190.00 L1342.25,190.05 L1342.75,190.09 L1343.26,190.12 L1343.76,190.13 L1344.27,190.13 L1344.77,190.12 L1345.28,190.09 L1345.78,190.05 L1346.29,190.00 L1346.79,189.94 L1347.30,189.86 L1347.80,189.89 L1348.31,189.91 L1348.82,189.76 L1349.33,189.55 L1349.84,189.30 L1350.35,188.99 L1350.86,188.64 L1351.37,188.24 L1351.88,187.80 L1352.39,187.31 L1352.90,186.78 L1353.41,186.20 L1353.92,185.58 L1354.43,184.92 L1354.94,184.22 L1355.46,183.48 L1355.97,182.71 L1356.48,181.89 L1356.99,181.04 L1357.50,180.16 L1358.01,179.23 L1358.52,178.28 L1359.03,177.29 L1359.54,176.28 L1360.05,175.23 L1360.56,174.15 L1361.07,173.04 L1361.58,171.90 L1362.09,170.74 L1362.60,169.55 L1363.11,168.34 L1363.62,167.10 L1364.13,165.84 L1364.64,164.56 L1365.15,163.26 L1365.66,161.93 L1366.17,160.59 L1366.68,159.23 L1367.19,157.85 L1367.70,156.45 L1368.21,155.04 L1368.72,153.62 L1369.23,152.18 L1369.74,150.73 L1370.26,149.26 L1370.77,147.79 L1371.28,146.30 L1371.79,144.81 L1372.30,143.31 L1372.81,141.80 L1373.32,140.29 L1373.83,138.77 L1374.34,137.24 L1374.85,135.72 L1375.36,134.19 L1375.87,132.66 L1376.38,131.13 L1376.89,129.60 L1377.40,128.07 L1377.91,126.54 L1378.42,125.02 L1378.93,123.50 L1379.44,121.99 L1379.95,120.48 L1380.46,118.98 L1380.97,117.49 L1381.48,116.01 L1381.99,114.54 L1382.50,113.08 L1383.01,111.63 L1383.52,110.19 L1384.03,108.77 L1384.54,107.36 L1385.06,105.97 L1385.57,104.59 L1386.08,103.24 L1386.59,101.90 L1387.10,100.58 L1387.61,99.28 L1388.12,98.00 L1388.63,96.75 L1389.14,95.51 L1389.65,94.31 L1390.16,93.12 L1390.67,91.97 L1391.18,90.84 L1391.69,89.74 L1392.20,88.66" fill="none" stroke="#ff0000" stroke-width="2.7" stroke-linecap="round" stroke-linejoin="round" stroke-dasharray="5.9 9.1"/><path d="M1295.40,87.87 L1295.91,89.15 L1296.42,90.42 L1296.93,91.67 L1297.43,92.91 L1297.94,94.13 L1298.45,95.34 L1298.96,96.53 L1299.47,97.71 L1299.98,98.88 L1300.49,100.03 L1301.00,101.17 L1301.50,102.30 L1302.01,103.41 L1302.52,104.50 L1303.03,105.59 L1303.54,106.65 L1304.05,107.71 L1304.56,108.75 L1305.07,109.78 L1305.57,110.79 L1306.08,111.79 L1306.59,112.78 L1307.10,113.75 L1307.61,114.71 L1308.12,115.66 L1308.63,116.59 L1309.14,117.51 L1309.64,118.42 L1310.15,119.31 L1310.66,120.19 L1311.17,121.05 L1311.68,121.90 L1312.19,122.74 L1312.70,123.57 L1313.21,124.38 L1313.71,125.18 L1314.22,125.97 L1314.73,126.74 L1315.24,127.50 L1315.75,128.25 L1316.26,128.98 L1316.77,129.70 L1317.28,130.41 L1317.78,131.10 L1318.29,131.79 L1318.80,132.46 L1319.31,133.11 L1319.82,133.76 L1320.33,134.39 L1320.84,135.00 L1321.35,135.61 L1321.85,136.20 L1322.36,136.78 L1322.87,137.35 L1323.38,137.90 L1323.89,138.45 L1324.40,138.98 L1324.91,139.49 L1325.42,140.00 L1325.92,140.49 L1326.43,140.97 L1326.94,141.44 L1327.45,141.90 L1327.96,142.34 L1328.47,142.78 L1328.98,143.20 L1329.49,143.61 L1329.99,144.00 L1330.50,144.39 L1331.01,144.77 L1331.52,145.13 L1332.03,145.48 L1332.54,145.82 L1333.05,146.15 L1333.56,146.47 L1334.06,146.78 L1334.57,147.08 L1335.08,147.37 L1335.59,147.64 L1336.10,147.91 L1336.61,148.16 L1337.12,148.41 L1337.63,148.64 L1338.13,148.87 L1338.64,149.08 L1339.15,149.29 L1339.66,149.48 L1340.17,149.66 L1340.68,149.84 L1341.19,150.00 L1341.70,150.16 L1342.20,150.30 L1342.71,150.44 L1343.22,150.57 L1343.73,150.68 L1344.24,150.79 L1344.75,150.89 L1345.26,150.98 L1345.77,151.06 L1346.27,151.14 L1346.78,151.20 L1347.29,151.25 L1347.80,151.52 L1348.32,151.92 L1348.83,152.01 L1349.35,152.03 L1349.86,151.96 L1350.38,151.82 L1350.89,151.61 L1351.41,151.32 L1351.92,150.97 L1352.44,150.55 L1352.96,150.06 L1353.47,149.50 L1353.99,148.89 L1354.50,148.21 L1355.02,147.47 L1355.53,146.68 L1356.05,145.84 L1356.56,144.94 L1357.08,143.99 L1357.59,142.99 L1358.11,141.94 L1358.63,140.85 L1359.14,139.72 L1359.66,138.54 L1360.17,137.32 L1360.69,136.07 L1361.20,134.78 L1361.72,133.46 L1362.23,132.10 L1362.75,130.72 L1363.27,129.30 L1363.78,127.86 L1364.30,126.40 L1364.81,124.91 L1365.33,123.40 L1365.84,121.88 L1366.36,120.34 L1366.87,118.78 L1367.39,117.21 L1367.91,115.63 L1368.42,114.04 L1368.94,112.44 L1369.45,110.83 L1369.97,109.23 L1370.48,107.62 L1371.00,106.01 L1371.51,104.40 L1372.03,102.80 L1372.54,101.21 L1373.06,99.62 L1373.58,98.04 L1374.09,96.47 L1374.61,94.92 L1375.12,93.38 L1375.64,91.86 L1376.15,90.36 L1376.67,88.88 L1377.18,87.42 L1377.70,85.99" fill="none" stroke="#ff0000" stroke-width="2.7" stroke-linecap="round" stroke-linejoin="round" stroke-dasharray="5.9 9.1"/><path d="M1263.70,435.15 L1264.20,433.35 L1264.71,431.56 L1265.21,429.79 L1265.71,428.04 L1266.21,426.31 L1266.72,424.60 L1267.22,422.90 L1267.72,421.23 L1268.23,419.57 L1268.73,417.92 L1269.23,416.30 L1269.74,414.69 L1270.24,413.10 L1270.74,411.53 L1271.24,409.97 L1271.75,408.43 L1272.25,406.91 L1272.75,405.40 L1273.26,403.91 L1273.76,402.43 L1274.26,400.97 L1274.77,399.53 L1275.27,398.10 L1275.77,396.69 L1276.27,395.30 L1276.78,393.92 L1277.28,392.55 L1277.78,391.20 L1278.29,389.87 L1278.79,388.55 L1279.29,387.24 L1279.80,385.95 L1280.30,384.67 L1280.80,383.41 L1281.30,382.16 L1281.81,380.93 L1282.31,379.71 L1282.81,378.50 L1283.32,377.31 L1283.82,376.13 L1284.32,374.97 L1284.83,373.82 L1285.33,372.68 L1285.83,371.55 L1286.33,370.44 L1286.84,369.34 L1287.34,368.25 L1287.84,367.18 L1288.35,366.12 L1288.85,365.07 L1289.35,364.03 L1289.86,363.00 L1290.36,361.99 L1290.86,360.99 L1291.36,360.00 L1291.87,359.02 L1292.37,358.05 L1292.87,357.09 L1293.38,356.15 L1293.88,355.21 L1294.38,354.29 L1294.89,353.38 L1295.39,352.47 L1295.89,351.58 L1296.39,350.70 L1296.90,349.83 L1297.40,348.97 L1297.90,348.12 L1298.41,347.28 L1298.91,346.44 L1299.41,345.62 L1299.92,344.81 L1300.42,344.01 L1300.92,343.21 L1301.42,342.43 L1301.93,341.65 L1302.43,340.88 L1302.93,340.13 L1303.44,339.38 L1303.94,338.64 L1304.44,337.91 L1304.95,337.19 L1305.45,336.48 L1305.95,335.77 L1306.45,335.08 L1306.96,334.39 L1307.46,333.72 L1307.96,333.05 L1308.47,332.39 L1308.97,331.74 L1309.47,331.09 L1309.98,330.46 L1310.48,329.84 L1310.98,329.22 L1311.48,328.61 L1311.99,328.01 L1312.49,327.42 L1312.99,326.84 L1313.50,326.26 L1314.00,325.70 L1314.50,325.14 L1315.01,324.59 L1315.51,324.04 L1316.01,323.51 L1316.51,322.99 L1317.02,322.47 L1317.52,321.96 L1318.02,321.46 L1318.53,320.96 L1319.03,320.48 L1319.53,320.00 L1320.04,319.53 L1320.54,319.06 L1321.04,318.61 L1321.54,318.16 L1322.05,317.72 L1322.55,317.29 L1323.05,316.86 L1323.56,316.45 L1324.06,316.04 L1324.56,315.63 L1325.07,315.24 L1325.57,314.85 L1326.07,314.47 L1326.57,314.10 L1327.08,313.73 L1327.58,313.37 L1328.08,313.02 L1328.59,312.68 L1329.09,312.34 L1329.59,312.01 L1330.10,311.69 L1330.60,311.37 L1331.10,311.06 L1331.60,310.76 L1332.11,310.46 L1332.61,310.17 L1333.11,309.89 L1333.62,309.62 L1334.12,309.35 L1334.62,309.09 L1335.13,308.83 L1335.63,308.58 L1336.13,308.34 L1336.63,308.10 L1337.14,307.87 L1337.64,307.65 L1338.14,307.43 L1338.65,307.22 L1339.15,307.02 L1339.65,306.82 L1340.16,306.63 L1340.66,306.44 L1341.16,306.26 L1341.66,306.09 L1342.17,305.92 L1342.67,305.76 L1343.17,305.60 L1343.68,305.45 L1344.18,305.31 L1344.68,305.17 L1345.19,305.04 L1345.69,304.91 L1346.19,304.79 L1346.69,304.68 L1347.20,304.57 L1347.70,304.60 L1348.21,304.93 L1348.72,305.17 L1349.22,305.44 L1349.73,305.76 L1350.24,306.12 L1350.75,306.51 L1351.26,306.94 L1351.77,307.41 L1352.27,307.91 L1352.78,308.45 L1353.29,309.03 L1353.80,309.64 L1354.31,310.29 L1354.82,310.96 L1355.32,311.67 L1355.83,312.42 L1356.34,313.19 L1356.85,314.00 L1357.36,314.84 L1357.86,315.70 L1358.37,316.60 L1358.88,317.53 L1359.39,318.48 L1359.90,319.47 L1360.41,320.48 L1360.91,321.51 L1361.42,322.58 L1361.93,323.67 L1362.44,324.78 L1362.95,325.92 L1363.46,327.08 L1363.96,328.27 L1364.47,329.48 L1364.98,330.71 L1365.49,331.96 L1366.00,333.24 L1366.51,334.53 L1367.01,335.85 L1367.52,337.18 L1368.03,338.54 L1368.54,339.91 L1369.05,341.30 L1369.55,342.71 L1370.06,344.13 L1370.57,345.57 L1371.08,347.03 L1371.59,348.50 L1372.10,349.99 L1372.60,351.49 L1373.11,353.00 L1373.62,354.53 L1374.13,356.07 L1374.64,357.62 L1375.15,359.18 L1375.65,360.75 L1376.16,362.34 L1376.67,363.93 L1377.18,365.54 L1377.69,367.16 L1378.19,368.78 L1378.70,370.41 L1379.21,372.05 L1379.72,373.70 L1380.23,375.36 L1380.74,377.03 L1381.24,378.71 L1381.75,380.40 L1382.26,382.11 L1382.77,383.83 L1383.28,385.56 L1383.79,387.30 L1384.29,389.06 L1384.80,390.84 L1385.31,392.63 L1385.82,394.45 L1386.33,396.28 L1386.84,398.12 L1387.34,399.99 L1387.85,401.88 L1388.36,403.79 L1388.87,405.73 L1389.38,407.68 L1389.88,409.66 L1390.39,411.66 L1390.90,413.69 L1391.41,415.75 L1391.92,417.83 L1392.43,419.93 L1392.93,422.07 L1393.44,424.23 L1393.95,426.42 L1394.46,428.64 L1394.97,430.89 L1395.48,433.17 L1395.98,435.49 L1396.49,437.83 L1397.00,440.21" fill="none" stroke="#ff0000" stroke-width="2.7" stroke-linecap="round" stroke-linejoin="round" stroke-dasharray="5.9 9.1"/><path d="M1239.40,425.70 L1239.90,425.19 L1240.41,424.69 L1240.91,424.18 L1241.41,423.67 L1241.92,423.17 L1242.42,422.66 L1242.93,422.16 L1243.43,421.65 L1243.93,421.15 L1244.44,420.64 L1244.94,420.14 L1245.44,419.64 L1245.95,419.14 L1246.45,418.64 L1246.96,418.14 L1247.46,417.64 L1247.96,417.14 L1248.47,416.64 L1248.97,416.14 L1249.47,415.65 L1249.98,415.15 L1250.48,414.66 L1250.99,414.16 L1251.49,413.67 L1251.99,413.18 L1252.50,412.69 L1253.00,412.20 L1253.50,411.71 L1254.01,411.22 L1254.51,410.73 L1255.02,410.25 L1255.52,409.76 L1256.02,409.28 L1256.53,408.80 L1257.03,408.31 L1257.53,407.83 L1258.04,407.35 L1258.54,406.88 L1259.05,406.40 L1259.55,405.92 L1260.05,405.45 L1260.56,404.97 L1261.06,404.50 L1261.56,404.03 L1262.07,403.56 L1262.57,403.09 L1263.07,402.63 L1263.58,402.16 L1264.08,401.70 L1264.59,401.23 L1265.09,400.77 L1265.59,400.31 L1266.10,399.85 L1266.60,399.40 L1267.10,398.94 L1267.61,398.49 L1268.11,398.04 L1268.62,397.58 L1269.12,397.14 L1269.62,396.69 L1270.13,396.24 L1270.63,395.80 L1271.13,395.35 L1271.64,394.91 L1272.14,394.47 L1272.65,394.04 L1273.15,393.60 L1273.65,393.17 L1274.16,392.73 L1274.66,392.30 L1275.16,391.87 L1275.67,391.45 L1276.17,391.02 L1276.68,390.60 L1277.18,390.18 L1277.68,389.76 L1278.19,389.34 L1278.69,388.93 L1279.19,388.51 L1279.70,388.10 L1280.20,387.69 L1280.71,387.28 L1281.21,386.88 L1281.71,386.47 L1282.22,386.07 L1282.72,385.67 L1283.22,385.28 L1283.73,384.88 L1284.23,384.49 L1284.73,384.10 L1285.24,383.71 L1285.74,383.33 L1286.25,382.94 L1286.75,382.56 L1287.25,382.18 L1287.76,381.80 L1288.26,381.43 L1288.76,381.06 L1289.27,380.69 L1289.77,380.32 L1290.28,379.96 L1290.78,379.59 L1291.28,379.23 L1291.79,378.88 L1292.29,378.52 L1292.79,378.17 L1293.30,377.82 L1293.80,377.47 L1294.31,377.12 L1294.81,376.78 L1295.31,376.44 L1295.82,376.11 L1296.32,375.77 L1296.82,375.44 L1297.33,375.11 L1297.83,374.79 L1298.34,374.46 L1298.84,374.14 L1299.34,373.82 L1299.85,373.51 L1300.35,373.20 L1300.85,372.89 L1301.36,372.58 L1301.86,372.28 L1302.37,371.98 L1302.87,371.68 L1303.37,371.39 L1303.88,371.10 L1304.38,370.81 L1304.88,370.53 L1305.39,370.25 L1305.89,369.97 L1306.39,369.69 L1306.90,369.42 L1307.40,369.15 L1307.91,368.89 L1308.41,368.63 L1308.91,368.37 L1309.42,368.11 L1309.92,367.86 L1310.42,367.61 L1310.93,367.37 L1311.43,367.13 L1311.94,366.89 L1312.44,366.66 L1312.94,366.43 L1313.45,366.20 L1313.95,365.98 L1314.45,365.76 L1314.96,365.54 L1315.46,365.33 L1315.97,365.12 L1316.47,364.91 L1316.97,364.71 L1317.48,364.52 L1317.98,364.32 L1318.48,364.13 L1318.99,363.95 L1319.49,363.76 L1320.00,363.59 L1320.50,363.41 L1321.00,363.24 L1321.51,363.08 L1322.01,362.91 L1322.51,362.76 L1323.02,362.60 L1323.52,362.45 L1324.03,362.31 L1324.53,362.16 L1325.03,362.03 L1325.54,361.89 L1326.04,361.76 L1326.54,361.64 L1327.05,361.52 L1327.55,361.40 L1328.05,361.29 L1328.56,361.18 L1329.06,361.08 L1329.57,360.98 L1330.07,360.89 L1330.57,360.80 L1331.08,360.71 L1331.58,360.63 L1332.08,360.55 L1332.59,360.48 L1333.09,360.42 L1333.60,360.35 L1334.10,360.30 L1334.60,360.24 L1335.11,360.19 L1335.61,360.15 L1336.11,360.11 L1336.62,360.08 L1337.12,360.05 L1337.63,360.02 L1338.13,360.00 L1338.63,359.99 L1339.14,359.98 L1339.64,359.97 L1340.14,359.97 L1340.65,359.98 L1341.15,359.99 L1341.66,360.00 L1342.16,360.02 L1342.66,360.05 L1343.17,360.08 L1343.67,360.11 L1344.17,360.15 L1344.68,360.20 L1345.18,360.25 L1345.69,360.31 L1346.19,360.37 L1346.69,360.43 L1347.20,360.51 L1347.70,360.46 L1348.21,360.51 L1348.72,360.71 L1349.23,360.95 L1349.74,361.23 L1350.25,361.55 L1350.76,361.91 L1351.27,362.30 L1351.78,362.73 L1352.29,363.20 L1352.80,363.71 L1353.30,364.25 L1353.81,364.83 L1354.32,365.45 L1354.83,366.10 L1355.34,366.79 L1355.85,367.51 L1356.36,368.27 L1356.87,369.07 L1357.38,369.90 L1357.89,370.76 L1358.40,371.66 L1358.91,372.60 L1359.42,373.57 L1359.93,374.57 L1360.44,375.60 L1360.95,376.68 L1361.46,377.78 L1361.97,378.92 L1362.48,380.09 L1362.99,381.29 L1363.50,382.53 L1364.00,383.79 L1364.51,385.09 L1365.02,386.43 L1365.53,387.79 L1366.04,389.18 L1366.55,390.61 L1367.06,392.07 L1367.57,393.56 L1368.08,395.08 L1368.59,396.63 L1369.10,398.21 L1369.61,399.82 L1370.12,401.46 L1370.63,403.13 L1371.14,404.83 L1371.65,406.55 L1372.16,408.31 L1372.67,410.10 L1373.18,411.91 L1373.69,413.75 L1374.20,415.62 L1374.70,417.52 L1375.21,419.45 L1375.72,421.40 L1376.23,423.38 L1376.74,425.39 L1377.25,427.43 L1377.76,429.49 L1378.27,431.57 L1378.78,433.69 L1379.29,435.83 L1379.80,437.99" fill="none" stroke="#ff0000" stroke-width="2.7" stroke-linecap="round" stroke-linejoin="round" stroke-dasharray="5.9 9.1"/><path d="M1211.00,299.32 L1211.50,300.09 L1212.01,300.86 L1212.51,301.63 L1213.01,302.40 L1213.51,303.17 L1214.02,303.93 L1214.52,304.69 L1215.02,305.45 L1215.52,306.20 L1216.03,306.96 L1216.53,307.71 L1217.03,308.46 L1217.53,309.21 L1218.04,309.96 L1218.54,310.70 L1219.04,311.45 L1219.54,312.19 L1220.05,312.92 L1220.55,313.66 L1221.05,314.39 L1221.55,315.13 L1222.06,315.86 L1222.56,316.58 L1223.06,317.31 L1223.56,318.03 L1224.07,318.75 L1224.57,319.47 L1225.07,320.19 L1225.57,320.91 L1226.08,321.62 L1226.58,322.33 L1227.08,323.04 L1227.58,323.74 L1228.09,324.45 L1228.59,325.15 L1229.09,325.85 L1229.60,326.55 L1230.10,327.24 L1230.60,327.94 L1231.10,328.63 L1231.61,329.32 L1232.11,330.01 L1232.61,330.69 L1233.11,331.37 L1233.62,332.05 L1234.12,332.73 L1234.62,333.41 L1235.12,334.08 L1235.63,334.75 L1236.13,335.42 L1236.63,336.09 L1237.13,336.75 L1237.64,337.42 L1238.14,338.08 L1238.64,338.73 L1239.14,339.39 L1239.65,340.04 L1240.15,340.70 L1240.65,341.34 L1241.15,341.99 L1241.66,342.64 L1242.16,343.28 L1242.66,343.92 L1243.16,344.56 L1243.67,345.19 L1244.17,345.82 L1244.67,346.45 L1245.17,347.08 L1245.68,347.71 L1246.18,348.33 L1246.68,348.95 L1247.19,349.57 L1247.69,350.19 L1248.19,350.80 L1248.69,351.42 L1249.20,352.02 L1249.70,352.63 L1250.20,353.24 L1250.70,353.84 L1251.21,354.44 L1251.71,355.04 L1252.21,355.63 L1252.71,356.22 L1253.22,356.81 L1253.72,357.40 L1254.22,357.99 L1254.72,358.57 L1255.23,359.15 L1255.73,359.73 L1256.23,360.30 L1256.73,360.87 L1257.24,361.44 L1257.74,362.01 L1258.24,362.58 L1258.74,363.14 L1259.25,363.70 L1259.75,364.26 L1260.25,364.81 L1260.75,365.36 L1261.26,365.91 L1261.76,366.46 L1262.26,367.01 L1262.77,367.55 L1263.27,368.09 L1263.77,368.62 L1264.27,369.16 L1264.78,369.69 L1265.28,370.22 L1265.78,370.75 L1266.28,371.27 L1266.79,371.79 L1267.29,372.31 L1267.79,372.82 L1268.29,373.34 L1268.80,373.85 L1269.30,374.35 L1269.80,374.86 L1270.30,375.36 L1270.81,375.86 L1271.31,376.36 L1271.81,376.85 L1272.31,377.34 L1272.82,377.83 L1273.32,378.32 L1273.82,378.80 L1274.32,379.28 L1274.83,379.76 L1275.33,380.23 L1275.83,380.70 L1276.33,381.17 L1276.84,381.64 L1277.34,382.10 L1277.84,382.56 L1278.34,383.02 L1278.85,383.47 L1279.35,383.93 L1279.85,384.38 L1280.36,384.82 L1280.86,385.26 L1281.36,385.70 L1281.86,386.14 L1282.37,386.58 L1282.87,387.01 L1283.37,387.44 L1283.87,387.86 L1284.38,388.28 L1284.88,388.70 L1285.38,389.12 L1285.88,389.54 L1286.39,389.95 L1286.89,390.35 L1287.39,390.76 L1287.89,391.16 L1288.40,391.56 L1288.90,391.96 L1289.40,392.35 L1289.90,392.74 L1290.41,393.12 L1290.91,393.51 L1291.41,393.89 L1291.91,394.27 L1292.42,394.64 L1292.92,395.01 L1293.42,395.38 L1293.92,395.74 L1294.43,396.11 L1294.93,396.46 L1295.43,396.82 L1295.93,397.17 L1296.44,397.52 L1296.94,397.87 L1297.44,398.21 L1297.95,398.55 L1298.45,398.89 L1298.95,399.22 L1299.45,399.55 L1299.96,399.88 L1300.46,400.20 L1300.96,400.52 L1301.46,400.84 L1301.97,401.15 L1302.47,401.46 L1302.97,401.77 L1303.47,402.08 L1303.98,402.38 L1304.48,402.67 L1304.98,402.97 L1305.48,403.26 L1305.99,403.55 L1306.49,403.83 L1306.99,404.11 L1307.49,404.39 L1308.00,404.66 L1308.50,404.93 L1309.00,405.20 L1309.50,405.47 L1310.01,405.73 L1310.51,405.98 L1311.01,406.24 L1311.51,406.49 L1312.02,406.74 L1312.52,406.98 L1313.02,407.22 L1313.53,407.46 L1314.03,407.69 L1314.53,407.92 L1315.03,408.15 L1315.54,408.37 L1316.04,408.59 L1316.54,408.81 L1317.04,409.02 L1317.55,409.23 L1318.05,409.43 L1318.55,409.64 L1319.05,409.83 L1319.56,410.03 L1320.06,410.22 L1320.56,410.41 L1321.06,410.59 L1321.57,410.77 L1322.07,410.95 L1322.57,411.13 L1323.07,411.30 L1323.58,411.46 L1324.08,411.63 L1324.58,411.78 L1325.08,411.94 L1325.59,412.09 L1326.09,412.24 L1326.59,412.39 L1327.09,412.53 L1327.60,412.67 L1328.10,412.80 L1328.60,412.93 L1329.10,413.06 L1329.61,413.18 L1330.11,413.30 L1330.61,413.41 L1331.12,413.53 L1331.62,413.63 L1332.12,413.74 L1332.62,413.84 L1333.13,413.94 L1333.63,414.03 L1334.13,414.12 L1334.63,414.21 L1335.14,414.29 L1335.64,414.37 L1336.14,414.44 L1336.64,414.51 L1337.15,414.58 L1337.65,414.64 L1338.15,414.70 L1338.65,414.76 L1339.16,414.81 L1339.66,414.86 L1340.16,414.90 L1340.66,414.94 L1341.17,414.98 L1341.67,415.01 L1342.17,415.04 L1342.67,415.06 L1343.18,415.09 L1343.68,415.10 L1344.18,415.12 L1344.68,415.13 L1345.19,415.13 L1345.69,415.13 L1346.19,415.13 L1346.69,415.12 L1347.20,415.11 L1347.70,415.25 L1348.23,415.62 L1348.77,415.87 L1349.30,416.14 L1349.84,416.44 L1350.37,416.77 L1350.91,417.12 L1351.44,417.50 L1351.98,417.90 L1352.51,418.34 L1353.05,418.79 L1353.58,419.28 L1354.12,419.79 L1354.65,420.33 L1355.19,420.89 L1355.72,421.48 L1356.26,422.10 L1356.79,422.74 L1357.33,423.41 L1357.86,424.11 L1358.40,424.83 L1358.93,425.58 L1359.47,426.36 L1360.00,427.16" fill="none" stroke="#ff0000" stroke-width="2.7" stroke-linecap="round" stroke-linejoin="round" stroke-dasharray="5.9 9.1"/></g>
<rect x="583.7" y="98.2" width="279.29999999999995" height="323.8" fill="none" stroke="#000" stroke-width="1.7"/>
<path d="M583.7,121.33 h4.0 M863.0,121.33 h-4.0 M583.7,144.46 h7.5 M863.0,144.46 h-7.5 M583.7,167.59 h4.0 M863.0,167.59 h-4.0 M583.7,190.71 h7.5 M863.0,190.71 h-7.5 M583.7,213.84 h4.0 M863.0,213.84 h-4.0 M583.7,236.97 h7.5 M863.0,236.97 h-7.5 M583.7,260.10 h4.0 M863.0,260.10 h-4.0 M583.7,283.23 h7.5 M863.0,283.23 h-7.5 M583.7,306.36 h4.0 M863.0,306.36 h-4.0 M583.7,329.49 h7.5 M863.0,329.49 h-7.5 M583.7,352.61 h4.0 M863.0,352.61 h-4.0 M583.7,375.74 h7.5 M863.0,375.74 h-7.5 M583.7,398.87 h4.0 M863.0,398.87 h-4.0 M723.3,98.2 v7 M723.3,422.0 v-7" stroke="#000" stroke-width="1.7" fill="none"/>
<rect x="896.1" y="98.2" width="282.19999999999993" height="323.8" fill="none" stroke="#000" stroke-width="1.7"/>
<path d="M896.1,121.33 h4.0 M1178.3,121.33 h-4.0 M896.1,144.46 h7.5 M1178.3,144.46 h-7.5 M896.1,167.59 h4.0 M1178.3,167.59 h-4.0 M896.1,190.71 h7.5 M1178.3,190.71 h-7.5 M896.1,213.84 h4.0 M1178.3,213.84 h-4.0 M896.1,236.97 h7.5 M1178.3,236.97 h-7.5 M896.1,260.10 h4.0 M1178.3,260.10 h-4.0 M896.1,283.23 h7.5 M1178.3,283.23 h-7.5 M896.1,306.36 h4.0 M1178.3,306.36 h-4.0 M896.1,329.49 h7.5 M1178.3,329.49 h-7.5 M896.1,352.61 h4.0 M1178.3,352.61 h-4.0 M896.1,375.74 h7.5 M1178.3,375.74 h-7.5 M896.1,398.87 h4.0 M1178.3,398.87 h-4.0 M1037.4,98.2 v7 M1037.4,422.0 v-7" stroke="#000" stroke-width="1.7" fill="none"/>
<rect x="1207.0" y="98.2" width="282.0" height="323.8" fill="none" stroke="#000" stroke-width="1.7"/>
<path d="M1207.0,121.33 h4.0 M1489.0,121.33 h-4.0 M1207.0,144.46 h7.5 M1489.0,144.46 h-7.5 M1207.0,167.59 h4.0 M1489.0,167.59 h-4.0 M1207.0,190.71 h7.5 M1489.0,190.71 h-7.5 M1207.0,213.84 h4.0 M1489.0,213.84 h-4.0 M1207.0,236.97 h7.5 M1489.0,236.97 h-7.5 M1207.0,260.10 h4.0 M1489.0,260.10 h-4.0 M1207.0,283.23 h7.5 M1489.0,283.23 h-7.5 M1207.0,306.36 h4.0 M1489.0,306.36 h-4.0 M1207.0,329.49 h7.5 M1489.0,329.49 h-7.5 M1207.0,352.61 h4.0 M1489.0,352.61 h-4.0 M1207.0,375.74 h7.5 M1489.0,375.74 h-7.5 M1207.0,398.87 h4.0 M1489.0,398.87 h-4.0 M1347.9,98.2 v7 M1347.9,422.0 v-7" stroke="#000" stroke-width="1.7" fill="none"/>
<line x1="593.8" y1="249.4" x2="648.4" y2="249.4" stroke="#0000ff" stroke-width="2.8" stroke-linecap="round"/>
<line x1="593.8" y1="279.8" x2="641" y2="279.8" stroke="#ff0000" stroke-width="2.7" stroke-linecap="round" stroke-dasharray="5.7 7.8"/>
<text x="655.17" y="257.80" font-size="24" textLength="206.49" lengthAdjust="spacingAndGlyphs" fill="#000" stroke="#000" stroke-width="0.45">Tight-binding model</text>
<text x="654.90" y="287.00" font-size="24" textLength="188.83" lengthAdjust="spacingAndGlyphs" fill="#000" stroke="#000" stroke-width="0.45">Continuum model</text>
<text x="537.80" y="105.90" font-size="28" textLength="38.93" lengthAdjust="spacingAndGlyphs" fill="#000" stroke="#000" stroke-width="0.45"> .5</text><path d="M730,0 L730,1237 L350,967 L350,1137 L745,1409 L910,1409 L910,0 Z" transform="translate(537.80,105.90) scale(0.01367,-0.01367)" fill="#000" stroke="#000" stroke-width="0.45" vector-effect="non-scaling-stroke"/>
<text x="537.73" y="156.10" font-size="28" textLength="38.93" lengthAdjust="spacingAndGlyphs" fill="#000" stroke="#000" stroke-width="0.45"> .0</text><path d="M730,0 L730,1237 L350,967 L350,1137 L745,1409 L910,1409 L910,0 Z" transform="translate(537.73,156.10) scale(0.01367,-0.01367)" fill="#000" stroke="#000" stroke-width="0.45" vector-effect="non-scaling-stroke"/>
<text x="537.80" y="206.40" font-size="28" textLength="38.93" lengthAdjust="spacingAndGlyphs" fill="#000" stroke="#000" stroke-width="0.45">0.5</text>
<text x="537.73" y="256.90" font-size="28" textLength="38.93" lengthAdjust="spacingAndGlyphs" fill="#000" stroke="#000" stroke-width="0.45">0.0</text>
<text x="528.49" y="307.20" font-size="28" textLength="48.25" lengthAdjust="spacingAndGlyphs" fill="#000" stroke="#000" stroke-width="0.45">-0.5</text>
<text x="528.42" y="357.30" font-size="28" textLength="48.25" lengthAdjust="spacingAndGlyphs" fill="#000" stroke="#000" stroke-width="0.45">- .0</text><path d="M730,0 L730,1237 L350,967 L350,1137 L745,1409 L910,1409 L910,0 Z" transform="translate(537.74,357.30) scale(0.01367,-0.01367)" fill="#000" stroke="#000" stroke-width="0.45" vector-effect="non-scaling-stroke"/>
<text x="528.49" y="407.60" font-size="28" textLength="48.25" lengthAdjust="spacingAndGlyphs" fill="#000" stroke="#000" stroke-width="0.45">- .5</text><path d="M730,0 L730,1237 L350,967 L350,1137 L745,1409 L910,1409 L910,0 Z" transform="translate(537.81,407.60) scale(0.01367,-0.01367)" fill="#000" stroke="#000" stroke-width="0.45" vector-effect="non-scaling-stroke"/>
<text x="528.42" y="458.10" font-size="28" textLength="48.25" lengthAdjust="spacingAndGlyphs" fill="#000" stroke="#000" stroke-width="0.45">-2.0</text>
<g transform="translate(524.80,305.00) rotate(-90)"><text x="-2.30" y="0.00" font-size="33" textLength="83.60" lengthAdjust="spacingAndGlyphs" fill="#000" stroke="#000" stroke-width="0.45">E(eV)</text></g>
<text x="664.93" y="75.30" font-size="36.3" textLength="80.29" lengthAdjust="spacingAndGlyphs" fill="#000" stroke="#000" stroke-width="0.45"> -BP</text><path d="M730,0 L730,1237 L350,967 L350,1137 L745,1409 L910,1409 L910,0 Z" transform="translate(664.93,75.30) scale(0.01763,-0.01772)" fill="#000" stroke="#000" stroke-width="0.45" vector-effect="non-scaling-stroke"/>
<text x="990.93" y="75.30" font-size="36.3" textLength="78.54" lengthAdjust="spacingAndGlyphs" fill="#000" stroke="#000" stroke-width="0.45">2-BP</text>
<text x="1303.79" y="75.30" font-size="36.3" textLength="77.67" lengthAdjust="spacingAndGlyphs" fill="#000" stroke="#000" stroke-width="0.45">3-BP</text>
<text x="574.75" y="444.70" font-size="28" textLength="18.68" lengthAdjust="spacingAndGlyphs" fill="#000" stroke="#000" stroke-width="0.45">X</text>
<text x="854.75" y="444.70" font-size="28" textLength="18.68" lengthAdjust="spacingAndGlyphs" fill="#000" stroke="#000" stroke-width="0.45">Y</text>
<text x="714.79" y="446.70" font-size="24.5" textLength="14.16" lengthAdjust="spacingAndGlyphs" fill="#000" stroke="#000" stroke-width="0.45" style='font-family:"Liberation Serif",serif'>Γ</text>
<text x="889.86" y="444.70" font-size="28" textLength="18.68" lengthAdjust="spacingAndGlyphs" fill="#000" stroke="#000" stroke-width="0.45">X</text>
<text x="1170.36" y="444.70" font-size="28" textLength="18.68" lengthAdjust="spacingAndGlyphs" fill="#000" stroke="#000" stroke-width="0.45">Y</text>
<text x="1030.49" y="446.70" font-size="24.5" textLength="14.16" lengthAdjust="spacingAndGlyphs" fill="#000" stroke="#000" stroke-width="0.45" style='font-family:"Liberation Serif",serif'>Γ</text>
<text x="1200.86" y="444.70" font-size="28" textLength="18.68" lengthAdjust="spacingAndGlyphs" fill="#000" stroke="#000" stroke-width="0.45">X</text>
<text x="1481.26" y="444.70" font-size="28" textLength="18.68" lengthAdjust="spacingAndGlyphs" fill="#000" stroke="#000" stroke-width="0.45">Y</text>
<text x="1341.49" y="446.70" font-size="24.5" textLength="14.16" lengthAdjust="spacingAndGlyphs" fill="#000" stroke="#000" stroke-width="0.45" style='font-family:"Liberation Serif",serif'>Γ</text>
<text x="502.63" y="70.20" font-size="43" textLength="24.64" lengthAdjust="spacingAndGlyphs" fill="#000" font-weight="bold">c</text>
<defs><radialGradient id="gA" cx="0.5" cy="0.5" r="0.5" fx="0.47" fy="0.42"><stop offset="0" stop-color="#ffffff"/><stop offset="0.22" stop-color="#fdf6fe"/><stop offset="0.55" stop-color="#bb9cc4"/><stop offset="0.85" stop-color="#9b7fa4"/><stop offset="1" stop-color="#735e79"/></radialGradient></defs>
<line x1="645.20" y1="485.90" x2="654.40" y2="461.30" stroke="#a58fab" stroke-width="3"/><line x1="645.20" y1="485.90" x2="654.40" y2="461.30" stroke="#efe6f0" stroke-width="1" stroke-dasharray="1.2 1"/><line x1="671.50" y1="461.30" x2="680.60" y2="485.90" stroke="#a58fab" stroke-width="3"/><line x1="671.50" y1="461.30" x2="680.60" y2="485.90" stroke="#efe6f0" stroke-width="1" stroke-dasharray="1.2 1"/><line x1="697.70" y1="485.90" x2="706.80" y2="461.30" stroke="#a58fab" stroke-width="3"/><line x1="697.70" y1="485.90" x2="706.80" y2="461.30" stroke="#efe6f0" stroke-width="1" stroke-dasharray="1.2 1"/><line x1="724.00" y1="461.30" x2="733.20" y2="485.90" stroke="#a58fab" stroke-width="3"/><line x1="724.00" y1="461.30" x2="733.20" y2="485.90" stroke="#efe6f0" stroke-width="1" stroke-dasharray="1.2 1"/><line x1="750.30" y1="485.90" x2="759.30" y2="461.30" stroke="#a58fab" stroke-width="3"/><line x1="750.30" y1="485.90" x2="759.30" y2="461.30" stroke="#efe6f0" stroke-width="1" stroke-dasharray="1.2 1"/><line x1="776.50" y1="461.30" x2="785.60" y2="485.90" stroke="#a58fab" stroke-width="3"/><line x1="776.50" y1="461.30" x2="785.60" y2="485.90" stroke="#efe6f0" stroke-width="1" stroke-dasharray="1.2 1"/><line x1="654.40" y1="461.30" x2="671.50" y2="461.30" stroke="#8a7290" stroke-width="2.4"/><line x1="680.60" y1="485.90" x2="697.70" y2="485.90" stroke="#8a7290" stroke-width="2.4"/><line x1="706.80" y1="461.30" x2="724.00" y2="461.30" stroke="#8a7290" stroke-width="2.4"/><line x1="733.20" y1="485.90" x2="750.30" y2="485.90" stroke="#8a7290" stroke-width="2.4"/><line x1="759.30" y1="461.30" x2="776.50" y2="461.30" stroke="#8a7290" stroke-width="2.4"/><line x1="785.60" y1="485.90" x2="802.80" y2="485.90" stroke="#8a7290" stroke-width="2.4"/><circle cx="645.20" cy="485.90" r="4.8" fill="url(#gA)"/><circle cx="654.40" cy="461.30" r="4.8" fill="url(#gA)"/><circle cx="671.50" cy="461.30" r="4.8" fill="url(#gA)"/><circle cx="680.60" cy="485.90" r="4.8" fill="url(#gA)"/><circle cx="697.70" cy="485.90" r="4.8" fill="url(#gA)"/><circle cx="706.80" cy="461.30" r="4.8" fill="url(#gA)"/><circle cx="724.00" cy="461.30" r="4.8" fill="url(#gA)"/><circle cx="733.20" cy="485.90" r="4.8" fill="url(#gA)"/><circle cx="750.30" cy="485.90" r="4.8" fill="url(#gA)"/><circle cx="759.30" cy="461.30" r="4.8" fill="url(#gA)"/><circle cx="776.50" cy="461.30" r="4.8" fill="url(#gA)"/><circle cx="785.60" cy="485.90" r="4.8" fill="url(#gA)"/><circle cx="802.80" cy="485.90" r="4.8" fill="url(#gA)"/>
<line x1="961.30" y1="486.00" x2="970.50" y2="461.40" stroke="#a58fab" stroke-width="3"/><line x1="961.30" y1="486.00" x2="970.50" y2="461.40" stroke="#efe6f0" stroke-width="1" stroke-dasharray="1.2 1"/><line x1="987.60" y1="461.40" x2="996.70" y2="486.00" stroke="#a58fab" stroke-width="3"/><line x1="987.60" y1="461.40" x2="996.70" y2="486.00" stroke="#efe6f0" stroke-width="1" stroke-dasharray="1.2 1"/><line x1="1013.80" y1="486.00" x2="1022.90" y2="461.40" stroke="#a58fab" stroke-width="3"/><line x1="1013.80" y1="486.00" x2="1022.90" y2="461.40" stroke="#efe6f0" stroke-width="1" stroke-dasharray="1.2 1"/><line x1="1040.10" y1="461.40" x2="1049.30" y2="486.00" stroke="#a58fab" stroke-width="3"/><line x1="1040.10" y1="461.40" x2="1049.30" y2="486.00" stroke="#efe6f0" stroke-width="1" stroke-dasharray="1.2 1"/><line x1="1066.40" y1="486.00" x2="1075.40" y2="461.40" stroke="#a58fab" stroke-width="3"/><line x1="1066.40" y1="486.00" x2="1075.40" y2="461.40" stroke="#efe6f0" stroke-width="1" stroke-dasharray="1.2 1"/><line x1="1092.60" y1="461.40" x2="1101.70" y2="486.00" stroke="#a58fab" stroke-width="3"/><line x1="1092.60" y1="461.40" x2="1101.70" y2="486.00" stroke="#efe6f0" stroke-width="1" stroke-dasharray="1.2 1"/><line x1="970.50" y1="461.40" x2="987.60" y2="461.40" stroke="#8a7290" stroke-width="2.4"/><line x1="996.70" y1="486.00" x2="1013.80" y2="486.00" stroke="#8a7290" stroke-width="2.4"/><line x1="1022.90" y1="461.40" x2="1040.10" y2="461.40" stroke="#8a7290" stroke-width="2.4"/><line x1="1049.30" y1="486.00" x2="1066.40" y2="486.00" stroke="#8a7290" stroke-width="2.4"/><line x1="1075.40" y1="461.40" x2="1092.60" y2="461.40" stroke="#8a7290" stroke-width="2.4"/><line x1="1101.70" y1="486.00" x2="1118.90" y2="486.00" stroke="#8a7290" stroke-width="2.4"/><circle cx="961.30" cy="486.00" r="4.8" fill="url(#gA)"/><circle cx="970.50" cy="461.40" r="4.8" fill="url(#gA)"/><circle cx="987.60" cy="461.40" r="4.8" fill="url(#gA)"/><circle cx="996.70" cy="486.00" r="4.8" fill="url(#gA)"/><circle cx="1013.80" cy="486.00" r="4.8" fill="url(#gA)"/><circle cx="1022.90" cy="461.40" r="4.8" fill="url(#gA)"/><circle cx="1040.10" cy="461.40" r="4.8" fill="url(#gA)"/><circle cx="1049.30" cy="486.00" r="4.8" fill="url(#gA)"/><circle cx="1066.40" cy="486.00" r="4.8" fill="url(#gA)"/><circle cx="1075.40" cy="461.40" r="4.8" fill="url(#gA)"/><circle cx="1092.60" cy="461.40" r="4.8" fill="url(#gA)"/><circle cx="1101.70" cy="486.00" r="4.8" fill="url(#gA)"/><circle cx="1118.90" cy="486.00" r="4.8" fill="url(#gA)"/>
<line x1="961.30" y1="528.70" x2="970.50" y2="504.10" stroke="#a58fab" stroke-width="3"/><line x1="961.30" y1="528.70" x2="970.50" y2="504.10" stroke="#efe6f0" stroke-width="1" stroke-dasharray="1.2 1"/><line x1="987.60" y1="504.10" x2="996.70" y2="528.70" stroke="#a58fab" stroke-width="3"/><line x1="987.60" y1="504.10" x2="996.70" y2="528.70" stroke="#efe6f0" stroke-width="1" stroke-dasharray="1.2 1"/><line x1="1013.80" y1="528.70" x2="1022.90" y2="504.10" stroke="#a58fab" stroke-width="3"/><line x1="1013.80" y1="528.70" x2="1022.90" y2="504.10" stroke="#efe6f0" stroke-width="1" stroke-dasharray="1.2 1"/><line x1="1040.10" y1="504.10" x2="1049.30" y2="528.70" stroke="#a58fab" stroke-width="3"/><line x1="1040.10" y1="504.10" x2="1049.30" y2="528.70" stroke="#efe6f0" stroke-width="1" stroke-dasharray="1.2 1"/><line x1="1066.40" y1="528.70" x2="1075.40" y2="504.10" stroke="#a58fab" stroke-width="3"/><line x1="1066.40" y1="528.70" x2="1075.40" y2="504.10" stroke="#efe6f0" stroke-width="1" stroke-dasharray="1.2 1"/><line x1="1092.60" y1="504.10" x2="1101.70" y2="528.70" stroke="#a58fab" stroke-width="3"/><line x1="1092.60" y1="504.10" x2="1101.70" y2="528.70" stroke="#efe6f0" stroke-width="1" stroke-dasharray="1.2 1"/><line x1="970.50" y1="504.10" x2="987.60" y2="504.10" stroke="#8a7290" stroke-width="2.4"/><line x1="996.70" y1="528.70" x2="1013.80" y2="528.70" stroke="#8a7290" stroke-width="2.4"/><line x1="1022.90" y1="504.10" x2="1040.10" y2="504.10" stroke="#8a7290" stroke-width="2.4"/><line x1="1049.30" y1="528.70" x2="1066.40" y2="528.70" stroke="#8a7290" stroke-width="2.4"/><line x1="1075.40" y1="504.10" x2="1092.60" y2="504.10" stroke="#8a7290" stroke-width="2.4"/><line x1="1101.70" y1="528.70" x2="1118.90" y2="528.70" stroke="#8a7290" stroke-width="2.4"/><circle cx="961.30" cy="528.70" r="4.8" fill="url(#gA)"/><circle cx="970.50" cy="504.10" r="4.8" fill="url(#gA)"/><circle cx="987.60" cy="504.10" r="4.8" fill="url(#gA)"/><circle cx="996.70" cy="528.70" r="4.8" fill="url(#gA)"/><circle cx="1013.80" cy="528.70" r="4.8" fill="url(#gA)"/><circle cx="1022.90" cy="504.10" r="4.8" fill="url(#gA)"/><circle cx="1040.10" cy="504.10" r="4.8" fill="url(#gA)"/><circle cx="1049.30" cy="528.70" r="4.8" fill="url(#gA)"/><circle cx="1066.40" cy="528.70" r="4.8" fill="url(#gA)"/><circle cx="1075.40" cy="504.10" r="4.8" fill="url(#gA)"/><circle cx="1092.60" cy="504.10" r="4.8" fill="url(#gA)"/><circle cx="1101.70" cy="528.70" r="4.8" fill="url(#gA)"/><circle cx="1118.90" cy="528.70" r="4.8" fill="url(#gA)"/>
<line x1="1271.70" y1="485.90" x2="1280.90" y2="461.30" stroke="#a58fab" stroke-width="3"/><line x1="1271.70" y1="485.90" x2="1280.90" y2="461.30" stroke="#efe6f0" stroke-width="1" stroke-dasharray="1.2 1"/><line x1="1298.00" y1="461.30" x2="1307.10" y2="485.90" stroke="#a58fab" stroke-width="3"/><line x1="1298.00" y1="461.30" x2="1307.10" y2="485.90" stroke="#efe6f0" stroke-width="1" stroke-dasharray="1.2 1"/><line x1="1324.20" y1="485.90" x2="1333.30" y2="461.30" stroke="#a58fab" stroke-width="3"/><line x1="1324.20" y1="485.90" x2="1333.30" y2="461.30" stroke="#efe6f0" stroke-width="1" stroke-dasharray="1.2 1"/><line x1="1350.50" y1="461.30" x2="1359.70" y2="485.90" stroke="#a58fab" stroke-width="3"/><line x1="1350.50" y1="461.30" x2="1359.70" y2="485.90" stroke="#efe6f0" stroke-width="1" stroke-dasharray="1.2 1"/><line x1="1376.80" y1="485.90" x2="1385.80" y2="461.30" stroke="#a58fab" stroke-width="3"/><line x1="1376.80" y1="485.90" x2="1385.80" y2="461.30" stroke="#efe6f0" stroke-width="1" stroke-dasharray="1.2 1"/><line x1="1403.00" y1="461.30" x2="1412.10" y2="485.90" stroke="#a58fab" stroke-width="3"/><line x1="1403.00" y1="461.30" x2="1412.10" y2="485.90" stroke="#efe6f0" stroke-width="1" stroke-dasharray="1.2 1"/><line x1="1280.90" y1="461.30" x2="1298.00" y2="461.30" stroke="#8a7290" stroke-width="2.4"/><line x1="1307.10" y1="485.90" x2="1324.20" y2="485.90" stroke="#8a7290" stroke-width="2.4"/><line x1="1333.30" y1="461.30" x2="1350.50" y2="461.30" stroke="#8a7290" stroke-width="2.4"/><line x1="1359.70" y1="485.90" x2="1376.80" y2="485.90" stroke="#8a7290" stroke-width="2.4"/><line x1="1385.80" y1="461.30" x2="1403.00" y2="461.30" stroke="#8a7290" stroke-width="2.4"/><line x1="1412.10" y1="485.90" x2="1429.30" y2="485.90" stroke="#8a7290" stroke-width="2.4"/><circle cx="1271.70" cy="485.90" r="4.8" fill="url(#gA)"/><circle cx="1280.90" cy="461.30" r="4.8" fill="url(#gA)"/><circle cx="1298.00" cy="461.30" r="4.8" fill="url(#gA)"/><circle cx="1307.10" cy="485.90" r="4.8" fill="url(#gA)"/><circle cx="1324.20" cy="485.90" r="4.8" fill="url(#gA)"/><circle cx="1333.30" cy="461.30" r="4.8" fill="url(#gA)"/><circle cx="1350.50" cy="461.30" r="4.8" fill="url(#gA)"/><circle cx="1359.70" cy="485.90" r="4.8" fill="url(#gA)"/><circle cx="1376.80" cy="485.90" r="4.8" fill="url(#gA)"/><circle cx="1385.80" cy="461.30" r="4.8" fill="url(#gA)"/><circle cx="1403.00" cy="461.30" r="4.8" fill="url(#gA)"/><circle cx="1412.10" cy="485.90" r="4.8" fill="url(#gA)"/><circle cx="1429.30" cy="485.90" r="4.8" fill="url(#gA)"/>
<line x1="1271.70" y1="534.30" x2="1280.90" y2="509.70" stroke="#a58fab" stroke-width="3"/><line x1="1271.70" y1="534.30" x2="1280.90" y2="509.70" stroke="#efe6f0" stroke-width="1" stroke-dasharray="1.2 1"/><line x1="1298.00" y1="509.70" x2="1307.10" y2="534.30" stroke="#a58fab" stroke-width="3"/><line x1="1298.00" y1="509.70" x2="1307.10" y2="534.30" stroke="#efe6f0" stroke-width="1" stroke-dasharray="1.2 1"/><line x1="1324.20" y1="534.30" x2="1333.30" y2="509.70" stroke="#a58fab" stroke-width="3"/><line x1="1324.20" y1="534.30" x2="1333.30" y2="509.70" stroke="#efe6f0" stroke-width="1" stroke-dasharray="1.2 1"/><line x1="1350.50" y1="509.70" x2="1359.70" y2="534.30" stroke="#a58fab" stroke-width="3"/><line x1="1350.50" y1="509.70" x2="1359.70" y2="534.30" stroke="#efe6f0" stroke-width="1" stroke-dasharray="1.2 1"/><line x1="1376.80" y1="534.30" x2="1385.80" y2="509.70" stroke="#a58fab" stroke-width="3"/><line x1="1376.80" y1="534.30" x2="1385.80" y2="509.70" stroke="#efe6f0" stroke-width="1" stroke-dasharray="1.2 1"/><line x1="1403.00" y1="509.70" x2="1412.10" y2="534.30" stroke="#a58fab" stroke-width="3"/><line x1="1403.00" y1="509.70" x2="1412.10" y2="534.30" stroke="#efe6f0" stroke-width="1" stroke-dasharray="1.2 1"/><line x1="1280.90" y1="509.70" x2="1298.00" y2="509.70" stroke="#8a7290" stroke-width="2.4"/><line x1="1307.10" y1="534.30" x2="1324.20" y2="534.30" stroke="#8a7290" stroke-width="2.4"/><line x1="1333.30" y1="509.70" x2="1350.50" y2="509.70" stroke="#8a7290" stroke-width="2.4"/><line x1="1359.70" y1="534.30" x2="1376.80" y2="534.30" stroke="#8a7290" stroke-width="2.4"/><line x1="1385.80" y1="509.70" x2="1403.00" y2="509.70" stroke="#8a7290" stroke-width="2.4"/><line x1="1412.10" y1="534.30" x2="1429.30" y2="534.30" stroke="#8a7290" stroke-width="2.4"/><circle cx="1271.70" cy="534.30" r="4.8" fill="url(#gA)"/><circle cx="1280.90" cy="509.70" r="4.8" fill="url(#gA)"/><circle cx="1298.00" cy="509.70" r="4.8" fill="url(#gA)"/><circle cx="1307.10" cy="534.30" r="4.8" fill="url(#gA)"/><circle cx="1324.20" cy="534.30" r="4.8" fill="url(#gA)"/><circle cx="1333.30" cy="509.70" r="4.8" fill="url(#gA)"/><circle cx="1350.50" cy="509.70" r="4.8" fill="url(#gA)"/><circle cx="1359.70" cy="534.30" r="4.8" fill="url(#gA)"/><circle cx="1376.80" cy="534.30" r="4.8" fill="url(#gA)"/><circle cx="1385.80" cy="509.70" r="4.8" fill="url(#gA)"/><circle cx="1403.00" cy="509.70" r="4.8" fill="url(#gA)"/><circle cx="1412.10" cy="534.30" r="4.8" fill="url(#gA)"/><circle cx="1429.30" cy="534.30" r="4.8" fill="url(#gA)"/>
<line x1="1271.70" y1="579.40" x2="1280.90" y2="554.80" stroke="#a58fab" stroke-width="3"/><line x1="1271.70" y1="579.40" x2="1280.90" y2="554.80" stroke="#efe6f0" stroke-width="1" stroke-dasharray="1.2 1"/><line x1="1298.00" y1="554.80" x2="1307.10" y2="579.40" stroke="#a58fab" stroke-width="3"/><line x1="1298.00" y1="554.80" x2="1307.10" y2="579.40" stroke="#efe6f0" stroke-width="1" stroke-dasharray="1.2 1"/><line x1="1324.20" y1="579.40" x2="1333.30" y2="554.80" stroke="#a58fab" stroke-width="3"/><line x1="1324.20" y1="579.40" x2="1333.30" y2="554.80" stroke="#efe6f0" stroke-width="1" stroke-dasharray="1.2 1"/><line x1="1350.50" y1="554.80" x2="1359.70" y2="579.40" stroke="#a58fab" stroke-width="3"/><line x1="1350.50" y1="554.80" x2="1359.70" y2="579.40" stroke="#efe6f0" stroke-width="1" stroke-dasharray="1.2 1"/><line x1="1376.80" y1="579.40" x2="1385.80" y2="554.80" stroke="#a58fab" stroke-width="3"/><line x1="1376.80" y1="579.40" x2="1385.80" y2="554.80" stroke="#efe6f0" stroke-width="1" stroke-dasharray="1.2 1"/><line x1="1403.00" y1="554.80" x2="1412.10" y2="579.40" stroke="#a58fab" stroke-width="3"/><line x1="1403.00" y1="554.80" x2="1412.10" y2="579.40" stroke="#efe6f0" stroke-width="1" stroke-dasharray="1.2 1"/><line x1="1280.90" y1="554.80" x2="1298.00" y2="554.80" stroke="#8a7290" stroke-width="2.4"/><line x1="1307.10" y1="579.40" x2="1324.20" y2="579.40" stroke="#8a7290" stroke-width="2.4"/><line x1="1333.30" y1="554.80" x2="1350.50" y2="554.80" stroke="#8a7290" stroke-width="2.4"/><line x1="1359.70" y1="579.40" x2="1376.80" y2="579.40" stroke="#8a7290" stroke-width="2.4"/><line x1="1385.80" y1="554.80" x2="1403.00" y2="554.80" stroke="#8a7290" stroke-width="2.4"/><line x1="1412.10" y1="579.40" x2="1429.30" y2="579.40" stroke="#8a7290" stroke-width="2.4"/><circle cx="1271.70" cy="579.40" r="4.8" fill="url(#gA)"/><circle cx="1280.90" cy="554.80" r="4.8" fill="url(#gA)"/><circle cx="1298.00" cy="554.80" r="4.8" fill="url(#gA)"/><circle cx="1307.10" cy="579.40" r="4.8" fill="url(#gA)"/><circle cx="1324.20" cy="579.40" r="4.8" fill="url(#gA)"/><circle cx="1333.30" cy="554.80" r="4.8" fill="url(#gA)"/><circle cx="1350.50" cy="554.80" r="4.8" fill="url(#gA)"/><circle cx="1359.70" cy="579.40" r="4.8" fill="url(#gA)"/><circle cx="1376.80" cy="579.40" r="4.8" fill="url(#gA)"/><circle cx="1385.80" cy="554.80" r="4.8" fill="url(#gA)"/><circle cx="1403.00" cy="554.80" r="4.8" fill="url(#gA)"/><circle cx="1412.10" cy="579.40" r="4.8" fill="url(#gA)"/><circle cx="1429.30" cy="579.40" r="4.8" fill="url(#gA)"/>
<text x="499.09" y="646.00" font-size="43" textLength="27.58" lengthAdjust="spacingAndGlyphs" fill="#000" font-weight="bold">d</text>
<line x1="579.5" y1="720.2" x2="864.5" y2="720.2" stroke="#000" stroke-width="5.1"/>
<line x1="579.5" y1="974.7" x2="864.5" y2="974.7" stroke="#000" stroke-width="5.3"/>
<line x1="640.6" y1="735.60" x2="640.6" y2="954.80" stroke="#ff0000" stroke-width="4.8"/><polygon points="640.60,720.60 647.50,740.10 640.60,736.10 633.70,740.10" fill="#ff0000"/><polygon points="640.60,969.80 647.50,950.30 640.60,954.30 633.70,950.30" fill="#ff0000"/>
<text x="535.90" y="683.80" font-size="38" textLength="24.22" lengthAdjust="spacingAndGlyphs" fill="#000" stroke="#000" stroke-width="0.45">E</text>
<text x="560.66" y="691.20" font-size="24.5" textLength="13.61" lengthAdjust="spacingAndGlyphs" fill="#000" stroke="#000" stroke-width="0.45">e</text>
<text x="534.31" y="959.00" font-size="38" textLength="23.36" lengthAdjust="spacingAndGlyphs" fill="#000" stroke="#000" stroke-width="0.45">E</text>
<text x="558.81" y="966.20" font-size="24.5" textLength="14.22" lengthAdjust="spacingAndGlyphs" fill="#000" stroke="#000" stroke-width="0.45">h</text>
<text x="650.83" y="851.40" font-size="37" textLength="22.38" lengthAdjust="spacingAndGlyphs" fill="#ff0000" stroke="#ff0000" stroke-width="0.45">E</text>
<text x="675.37" y="858.60" font-size="24.5" textLength="40.42" lengthAdjust="spacingAndGlyphs" fill="#ff0000" stroke="#ff0000" stroke-width="0.45">gap</text>
<text x="678.56" y="831.00" font-size="24.5" textLength="30.11" lengthAdjust="spacingAndGlyphs" fill="#ff0000" stroke="#ff0000" stroke-width="0.45">( )</text><path d="M730,0 L730,1237 L350,967 L350,1137 L745,1409 L910,1409 L910,0 Z" transform="translate(686.76,831.00) scale(0.01203,-0.01196)" fill="#ff0000" stroke="#ff0000" stroke-width="0.45" vector-effect="non-scaling-stroke"/>
<line x1="886.0" y1="671.5" x2="1171.0" y2="671.5" stroke="#000" stroke-width="5.0"/>
<line x1="886.0" y1="768.2" x2="1171.0" y2="768.2" stroke="#000" stroke-width="5.0"/>
<line x1="886.0" y1="931.5" x2="1171.0" y2="931.5" stroke="#000" stroke-width="5.0"/>
<line x1="886.0" y1="1019.5" x2="1171.0" y2="1019.5" stroke="#000" stroke-width="5.0"/>
<line x1="896.00" y1="720.2" x2="911.70" y2="720.2" stroke="#000" stroke-width="5.0"/><line x1="927.20" y1="720.2" x2="942.90" y2="720.2" stroke="#000" stroke-width="5.0"/><line x1="958.40" y1="720.2" x2="974.10" y2="720.2" stroke="#000" stroke-width="5.0"/><line x1="989.60" y1="720.2" x2="1005.30" y2="720.2" stroke="#000" stroke-width="5.0"/><line x1="1020.80" y1="720.2" x2="1036.50" y2="720.2" stroke="#000" stroke-width="5.0"/><line x1="1052.00" y1="720.2" x2="1067.70" y2="720.2" stroke="#000" stroke-width="5.0"/><line x1="1083.20" y1="720.2" x2="1098.90" y2="720.2" stroke="#000" stroke-width="5.0"/><line x1="1114.40" y1="720.2" x2="1130.10" y2="720.2" stroke="#000" stroke-width="5.0"/><line x1="1145.60" y1="720.2" x2="1161.30" y2="720.2" stroke="#000" stroke-width="5.0"/>
<line x1="896.00" y1="974.9" x2="911.70" y2="974.9" stroke="#000" stroke-width="5.0"/><line x1="927.20" y1="974.9" x2="942.90" y2="974.9" stroke="#000" stroke-width="5.0"/><line x1="958.40" y1="974.9" x2="974.10" y2="974.9" stroke="#000" stroke-width="5.0"/><line x1="989.60" y1="974.9" x2="1005.30" y2="974.9" stroke="#000" stroke-width="5.0"/><line x1="1020.80" y1="974.9" x2="1036.50" y2="974.9" stroke="#000" stroke-width="5.0"/><line x1="1052.00" y1="974.9" x2="1067.70" y2="974.9" stroke="#000" stroke-width="5.0"/><line x1="1083.20" y1="974.9" x2="1098.90" y2="974.9" stroke="#000" stroke-width="5.0"/><line x1="1114.40" y1="974.9" x2="1130.10" y2="974.9" stroke="#000" stroke-width="5.0"/><line x1="1145.60" y1="974.9" x2="1161.30" y2="974.9" stroke="#000" stroke-width="5.0"/>
<line x1="1011.9" y1="722.3" x2="1011.9" y2="685.90" stroke="#0000ff" stroke-width="5"/><polygon points="1011.90,672.30 1019.10,687.70 1011.90,686.40 1004.70,687.70" fill="#0000ff"/>
<line x1="958.1" y1="720.0" x2="958.1" y2="756.30" stroke="#0000ff" stroke-width="5"/><polygon points="958.10,769.90 965.40,754.50 958.10,755.80 950.80,754.50" fill="#0000ff"/>
<line x1="1012.0" y1="975.7" x2="1012.0" y2="939.00" stroke="#0000ff" stroke-width="5"/><polygon points="1012.00,925.40 1019.20,940.80 1012.00,939.50 1004.80,940.80" fill="#0000ff"/>
<line x1="958.0" y1="973.0" x2="958.0" y2="1009.40" stroke="#0000ff" stroke-width="5"/><polygon points="958.00,1023.00 965.30,1007.60 958.00,1008.90 950.70,1007.60" fill="#0000ff"/>
<text x="1030.48" y="703.40" font-size="38" textLength="31.27" lengthAdjust="spacingAndGlyphs" fill="#0000ff" stroke="#0000ff" stroke-width="0.45">+t</text>
<text x="1062.07" y="710.80" font-size="24" textLength="13.49" lengthAdjust="spacingAndGlyphs" fill="#0000ff" stroke="#0000ff" stroke-width="0.45">e</text>
<text x="969.60" y="751.40" font-size="38" textLength="23.12" lengthAdjust="spacingAndGlyphs" fill="#0000ff" stroke="#0000ff" stroke-width="0.45">-t</text>
<text x="993.08" y="751.50" font-size="24" textLength="13.37" lengthAdjust="spacingAndGlyphs" fill="#0000ff" stroke="#0000ff" stroke-width="0.45">e</text>
<text x="1022.41" y="960.70" font-size="38" textLength="30.74" lengthAdjust="spacingAndGlyphs" fill="#0000ff" stroke="#0000ff" stroke-width="0.45">+t</text>
<text x="1054.06" y="971.30" font-size="24" textLength="13.03" lengthAdjust="spacingAndGlyphs" fill="#0000ff" stroke="#0000ff" stroke-width="0.45">h</text>
<text x="970.01" y="1003.40" font-size="38" textLength="22.90" lengthAdjust="spacingAndGlyphs" fill="#0000ff" stroke="#0000ff" stroke-width="0.45">-t</text>
<text x="993.48" y="1017.90" font-size="24" textLength="12.90" lengthAdjust="spacingAndGlyphs" fill="#0000ff" stroke="#0000ff" stroke-width="0.45">h</text>
<line x1="1197.0" y1="635.8" x2="1482.0" y2="635.8" stroke="#000" stroke-width="5.2"/>
<line x1="1197.0" y1="720.0" x2="1482.0" y2="720.0" stroke="#000" stroke-width="5.2"/>
<line x1="1197.0" y1="808.2" x2="1482.0" y2="808.2" stroke="#000" stroke-width="5.2"/>
<line x1="1197.0" y1="907.2" x2="1482.0" y2="907.2" stroke="#000" stroke-width="5.2"/>
<line x1="1197.0" y1="974.6" x2="1482.0" y2="974.6" stroke="#000" stroke-width="5.2"/>
<line x1="1197.0" y1="1046.9" x2="1482.0" y2="1046.9" stroke="#000" stroke-width="5.2"/>
<line x1="1337.2" y1="717.0" x2="1337.2" y2="644.60" stroke="#0000ff" stroke-width="5.2"/><polygon points="1337.20,629.80 1344.85,646.40 1337.20,645.10 1329.55,646.40" fill="#0000ff"/>
<line x1="1360.3" y1="722.0" x2="1360.3" y2="793.80" stroke="#0000ff" stroke-width="5.2"/><polygon points="1360.30,809.00 1368.30,792.00 1360.30,793.30 1352.30,792.00" fill="#0000ff"/>
<line x1="1359.2" y1="972.1" x2="1359.2" y2="918.70" stroke="#0000ff" stroke-width="5.2"/><polygon points="1359.20,903.90 1366.85,920.50 1359.20,919.20 1351.55,920.50" fill="#0000ff"/>
<line x1="1336.2" y1="978.9" x2="1336.2" y2="1029.10" stroke="#0000ff" stroke-width="5.2"/><polygon points="1336.20,1044.10 1343.85,1027.30 1336.20,1028.60 1328.55,1027.30" fill="#0000ff"/>
<line x1="1221.5" y1="737.30" x2="1221.5" y2="888.80" stroke="#ff0000" stroke-width="5"/><polygon points="1221.50,721.00 1227.85,741.10 1221.50,737.80 1215.15,741.10" fill="#ff0000"/><polygon points="1221.50,905.10 1227.85,885.00 1221.50,888.30 1215.15,885.00" fill="#ff0000"/>
<line x1="1305.6" y1="738.30" x2="1305.6" y2="956.50" stroke="#ff0000" stroke-width="4.6"/><polygon points="1305.60,722.00 1311.95,742.10 1305.60,738.80 1299.25,742.10" fill="#ff0000"/><polygon points="1305.60,972.80 1311.95,952.70 1305.60,956.00 1299.25,952.70" fill="#ff0000"/>
<line x1="1399.5" y1="826.60" x2="1399.5" y2="893.60" stroke="#ff0000" stroke-width="4.6"/><polygon points="1399.50,810.90 1405.85,830.40 1399.50,827.10 1393.15,830.40" fill="#ff0000"/><polygon points="1399.50,909.30 1405.85,889.80 1399.50,893.10 1393.15,889.80" fill="#ff0000"/>
<text x="1344.83" y="687.40" font-size="38" textLength="42.43" lengthAdjust="spacingAndGlyphs" fill="#0000ff" stroke="#0000ff" stroke-width="0.45">+2</text>
<text x="1386.03" y="672.70" font-size="23.5" textLength="34.72" lengthAdjust="spacingAndGlyphs" fill="#0000ff" stroke="#0000ff" stroke-width="0.45"> /2</text><path d="M730,0 L730,1237 L350,967 L350,1137 L745,1409 L910,1409 L910,0 Z" transform="translate(1386.03,672.70) scale(0.01220,-0.01147)" fill="#0000ff" stroke="#0000ff" stroke-width="0.45" vector-effect="non-scaling-stroke"/>
<text x="1420.86" y="687.50" font-size="38" textLength="9.92" lengthAdjust="spacingAndGlyphs" fill="#0000ff" stroke="#0000ff" stroke-width="0.45">t</text>
<text x="1430.94" y="695.30" font-size="24" textLength="13.85" lengthAdjust="spacingAndGlyphs" fill="#0000ff" stroke="#0000ff" stroke-width="0.45">e</text>
<text x="1372.46" y="776.60" font-size="38" textLength="34.33" lengthAdjust="spacingAndGlyphs" fill="#0000ff" stroke="#0000ff" stroke-width="0.45">-2</text>
<text x="1405.07" y="762.10" font-size="23.5" textLength="35.20" lengthAdjust="spacingAndGlyphs" fill="#0000ff" stroke="#0000ff" stroke-width="0.45"> /2</text><path d="M730,0 L730,1237 L350,967 L350,1137 L745,1409 L910,1409 L910,0 Z" transform="translate(1405.07,762.10) scale(0.01236,-0.01147)" fill="#0000ff" stroke="#0000ff" stroke-width="0.45" vector-effect="non-scaling-stroke"/>
<text x="1440.39" y="776.60" font-size="38" textLength="9.48" lengthAdjust="spacingAndGlyphs" fill="#0000ff" stroke="#0000ff" stroke-width="0.45">t</text>
<text x="1450.48" y="784.30" font-size="24" textLength="13.37" lengthAdjust="spacingAndGlyphs" fill="#0000ff" stroke="#0000ff" stroke-width="0.45">e</text>
<text x="1368.75" y="952.40" font-size="38" textLength="42.11" lengthAdjust="spacingAndGlyphs" fill="#0000ff" stroke="#0000ff" stroke-width="0.45">+2</text>
<text x="1408.96" y="937.30" font-size="23.5" textLength="36.15" lengthAdjust="spacingAndGlyphs" fill="#0000ff" stroke="#0000ff" stroke-width="0.45"> /2</text><path d="M730,0 L730,1237 L350,967 L350,1137 L745,1409 L910,1409 L910,0 Z" transform="translate(1408.96,937.30) scale(0.01270,-0.01147)" fill="#0000ff" stroke="#0000ff" stroke-width="0.45" vector-effect="non-scaling-stroke"/>
<text x="1445.19" y="952.60" font-size="38" textLength="9.48" lengthAdjust="spacingAndGlyphs" fill="#0000ff" stroke="#0000ff" stroke-width="0.45">t</text>
<text x="1455.01" y="959.70" font-size="23.5" textLength="13.43" lengthAdjust="spacingAndGlyphs" fill="#0000ff" stroke="#0000ff" stroke-width="0.45">h</text>
<text x="1349.60" y="1024.60" font-size="38" textLength="33.66" lengthAdjust="spacingAndGlyphs" fill="#0000ff" stroke="#0000ff" stroke-width="0.45">-2</text>
<text x="1381.77" y="1009.50" font-size="23.5" textLength="35.20" lengthAdjust="spacingAndGlyphs" fill="#0000ff" stroke="#0000ff" stroke-width="0.45"> /2</text><path d="M730,0 L730,1237 L350,967 L350,1137 L745,1409 L910,1409 L910,0 Z" transform="translate(1381.77,1009.50) scale(0.01236,-0.01147)" fill="#0000ff" stroke="#0000ff" stroke-width="0.45" vector-effect="non-scaling-stroke"/>
<text x="1417.49" y="1024.80" font-size="38" textLength="9.48" lengthAdjust="spacingAndGlyphs" fill="#0000ff" stroke="#0000ff" stroke-width="0.45">t</text>
<text x="1427.66" y="1031.90" font-size="23.5" textLength="13.03" lengthAdjust="spacingAndGlyphs" fill="#0000ff" stroke="#0000ff" stroke-width="0.45">h</text>
<text x="1230.40" y="868.50" font-size="38.5" textLength="24.22" lengthAdjust="spacingAndGlyphs" fill="#ff0000" stroke="#ff0000" stroke-width="0.45">E</text>
<text x="1252.88" y="875.40" font-size="24.5" textLength="29.40" lengthAdjust="spacingAndGlyphs" fill="#ff0000" stroke="#ff0000" stroke-width="0.45"> 2</text><path d="M730,0 L730,1237 L350,967 L350,1137 L745,1409 L910,1409 L910,0 Z" transform="translate(1252.88,875.40) scale(0.01291,-0.01196)" fill="#ff0000" stroke="#ff0000" stroke-width="0.45" vector-effect="non-scaling-stroke"/>
<text x="1312.83" y="872.20" font-size="38.5" textLength="23.97" lengthAdjust="spacingAndGlyphs" fill="#ff0000" stroke="#ff0000" stroke-width="0.45">E</text>
<text x="1336.97" y="879.10" font-size="24.5" textLength="27.31" lengthAdjust="spacingAndGlyphs" fill="#ff0000" stroke="#ff0000" stroke-width="0.45">22</text>
<text x="1406.13" y="872.20" font-size="38.5" textLength="23.97" lengthAdjust="spacingAndGlyphs" fill="#ff0000" stroke="#ff0000" stroke-width="0.45">E</text>
<path d="M730,0 L730,1237 L350,967 L350,1137 L745,1409 L910,1409 L910,0 Z" transform="translate(1429.61,879.10) scale(0.01083,-0.01196)" fill="#ff0000" stroke="#ff0000" stroke-width="0.45" vector-effect="non-scaling-stroke"/><path d="M730,0 L730,1237 L350,967 L350,1137 L745,1409 L910,1409 L910,0 Z" transform="translate(1441.95,879.10) scale(0.01083,-0.01196)" fill="#ff0000" stroke="#ff0000" stroke-width="0.45" vector-effect="non-scaling-stroke"/>
</svg></div></body></html>
